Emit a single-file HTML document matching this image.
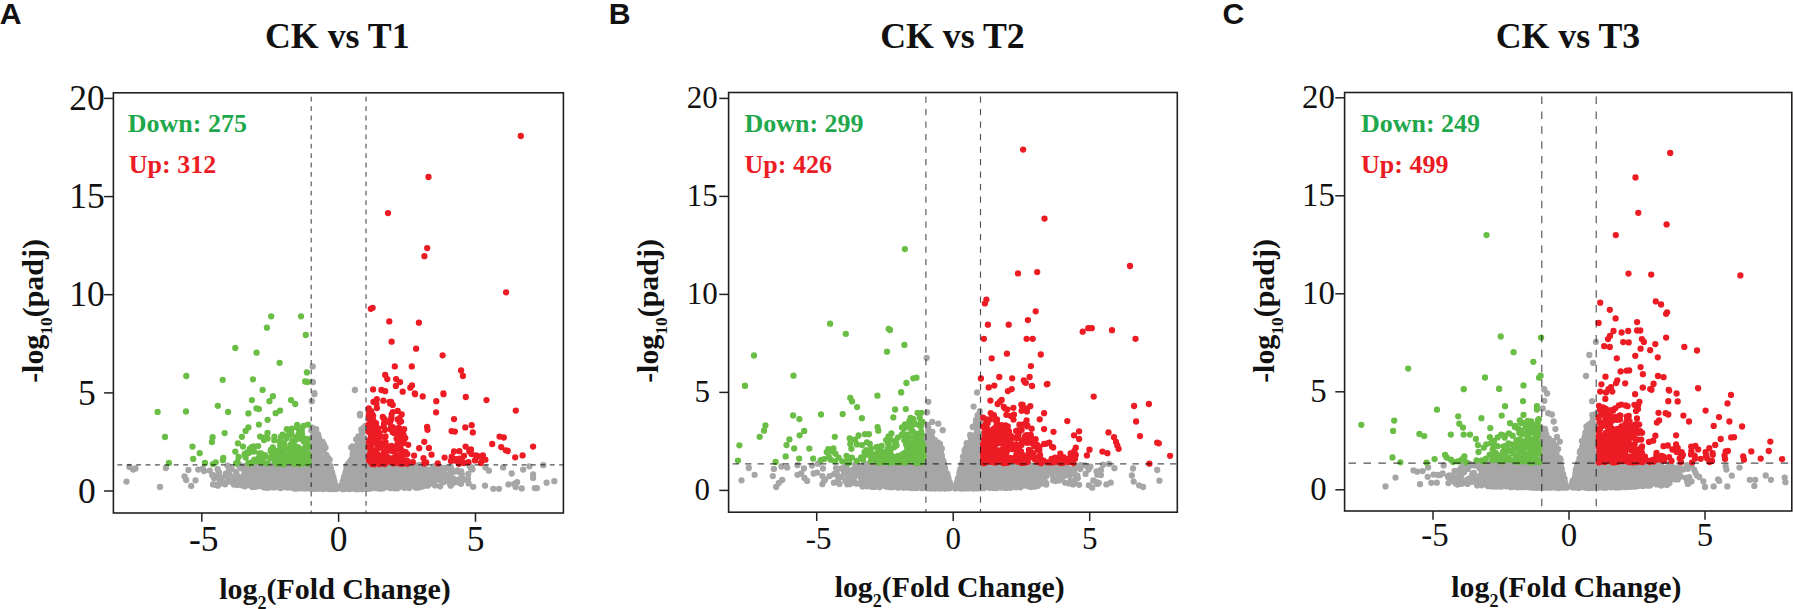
<!DOCTYPE html>
<html><head><meta charset="utf-8"><title>Volcano plots</title>
<style>
html,body{margin:0;padding:0;background:#fff;}
svg{display:block;}
.s{font-family:"Liberation Serif",serif;fill:#111;}
.sb{font-family:"Liberation Serif",serif;font-weight:bold;fill:#111;}
.ab{font-family:"Liberation Sans",sans-serif;font-weight:bold;fill:#111;}
</style></head><body>
<svg width="1793" height="609" viewBox="0 0 1793 609">
<rect width="1793" height="609" fill="#fff"/>
<g>
<clipPath id="cpA"><rect x="113.4" y="92.8" width="450.0" height="420.2"/></clipPath>
<g clip-path="url(#cpA)">
<path d="M323.9 466.6h0M366.7 486.1h0M375.4 474.1h0M415.8 476.8h0M372.1 482.5h0M319.9 470.1h0M379.2 476.8h0M331.1 475.9h0M295.7 484.3h0M358.1 477.5h0M244.0 474.8h0M315.6 469.7h0M265.1 486.1h0M382.8 482.5h0M302.0 467.4h0M373.9 485.6h0M365.4 484.3h0M328.4 483.9h0M355.7 484.3h0M392.7 477.8h0M306.0 472.3h0M364.6 465.0h0M406.9 472.4h0M369.5 488.4h0M385.7 474.9h0M368.8 481.5h0M251.5 485.0h0M326.3 468.8h0M317.0 486.1h0M355.5 487.7h0M368.1 467.4h0M362.9 469.6h0M392.1 487.0h0M329.8 482.1h0M400.7 477.2h0M261.1 483.9h0M361.5 483.0h0M289.0 466.3h0M276.4 478.6h0M402.7 471.1h0M323.7 487.6h0M350.6 483.3h0M438.3 471.2h0M310.3 473.1h0M416.4 470.2h0M301.8 485.6h0M302.4 470.1h0M353.8 470.8h0M327.7 480.5h0M314.6 464.9h0M329.2 483.3h0M404.3 487.8h0M442.5 473.7h0M315.9 477.1h0M403.8 474.4h0M298.2 488.3h0M368.0 475.7h0M325.3 481.3h0M348.1 480.7h0M317.9 467.0h0M377.8 465.8h0M367.2 472.2h0M403.7 469.6h0M388.7 485.7h0M304.2 488.0h0M314.6 471.7h0M311.6 470.7h0M351.0 470.0h0M243.8 485.9h0M349.7 477.1h0M367.1 474.5h0M302.9 483.4h0M375.9 480.5h0M443.5 482.2h0M357.6 479.1h0M366.2 472.8h0M348.6 483.0h0M264.6 486.9h0M394.5 475.9h0M344.8 485.5h0M369.1 470.2h0M353.8 467.3h0M343.2 482.0h0M330.5 481.0h0M357.7 467.9h0M367.2 471.1h0M382.3 470.2h0M302.4 475.5h0M310.8 475.7h0M310.3 472.1h0M296.9 477.2h0M426.8 474.2h0M362.2 478.8h0M267.2 485.9h0M387.7 479.2h0M351.5 477.1h0M355.2 489.0h0M369.7 478.0h0M377.6 488.2h0M284.9 476.2h0M422.0 479.0h0M313.2 471.9h0M316.2 482.2h0M348.0 478.6h0M304.2 471.3h0M263.9 487.3h0M379.3 480.4h0M325.6 483.9h0M346.0 471.2h0M317.5 488.5h0M366.8 478.2h0M265.8 467.6h0M328.2 479.3h0M387.2 480.3h0M318.1 475.2h0M385.0 473.1h0M390.2 467.0h0M375.0 486.4h0M378.2 468.1h0M236.7 474.8h0M368.5 480.2h0M356.8 482.1h0M414.6 481.3h0M363.4 477.0h0M279.8 465.7h0M355.7 477.4h0M368.2 466.4h0M244.9 481.2h0M351.6 474.8h0M346.8 486.1h0M361.8 479.7h0M396.6 476.6h0M353.1 467.1h0M286.5 469.8h0M413.9 476.5h0M324.7 479.5h0M314.9 469.8h0M305.8 488.5h0M260.9 471.8h0M313.3 480.4h0M327.6 485.3h0M346.1 474.8h0M358.2 468.2h0M275.6 470.1h0M323.3 488.6h0M249.3 483.7h0M361.2 486.1h0M419.2 475.5h0M347.2 480.3h0M300.9 475.2h0M380.2 479.8h0M301.3 475.7h0M401.3 480.6h0M331.6 478.5h0M369.3 467.6h0M433.8 466.3h0M382.5 466.9h0M336.6 488.9h0M402.4 479.2h0M321.3 478.6h0M348.1 470.7h0M299.6 472.7h0M307.3 483.2h0M439.5 472.6h0M366.5 482.1h0M390.1 482.5h0M356.9 483.2h0M327.1 469.5h0M417.9 465.5h0M408.8 481.8h0M230.3 481.7h0M332.4 488.6h0M264.7 467.1h0M316.7 482.6h0M361.2 467.7h0M354.2 480.1h0M376.0 470.0h0M311.6 484.9h0M424.5 470.8h0M387.5 467.4h0M310.8 479.0h0M368.9 475.2h0M309.3 479.9h0M417.5 475.2h0M360.2 472.0h0M359.9 468.6h0M356.6 480.2h0M356.0 479.6h0M357.0 487.0h0M365.4 476.7h0M298.6 467.9h0M327.4 474.2h0M410.3 475.8h0M401.2 484.7h0M333.2 481.4h0M324.8 474.4h0M344.1 481.3h0M346.8 478.0h0M276.3 482.9h0M375.5 468.1h0M265.6 465.4h0M304.7 466.3h0M329.8 475.4h0M402.6 471.7h0M301.6 473.8h0M384.7 477.7h0M317.1 482.8h0M390.2 465.2h0M316.1 465.8h0M360.8 485.2h0M323.3 480.4h0M421.8 485.6h0M329.1 466.5h0M245.6 474.0h0M286.3 471.2h0M374.1 479.9h0M329.0 486.9h0M373.7 483.8h0M302.7 481.3h0M374.2 481.1h0M384.7 469.0h0M349.9 489.1h0M377.4 468.2h0M277.4 483.9h0M318.0 483.3h0M354.3 483.2h0M390.3 488.1h0M356.2 465.4h0M322.7 475.1h0M349.2 467.3h0M276.9 465.4h0M374.7 485.4h0M350.6 474.8h0M288.6 472.9h0M356.0 473.7h0M301.9 472.9h0M377.3 476.8h0M389.8 485.8h0M333.0 478.6h0M276.9 471.9h0M300.1 465.6h0M255.0 486.8h0M368.2 466.0h0M391.4 481.7h0M261.9 478.3h0M315.8 477.8h0M393.9 482.6h0M291.7 480.7h0M295.2 485.4h0M355.4 466.7h0M391.7 468.7h0M311.0 467.6h0M272.2 484.8h0M388.6 465.2h0M391.6 470.9h0M328.2 465.2h0M320.2 485.7h0M403.9 479.6h0M308.5 477.0h0M368.1 488.8h0M346.3 474.7h0M259.8 466.3h0M346.6 471.4h0M272.5 487.3h0M293.4 470.7h0M288.2 470.0h0M401.4 478.5h0M283.4 482.9h0M290.2 480.8h0M281.8 485.2h0M367.1 474.5h0M377.2 486.4h0M299.7 484.6h0M250.0 485.3h0M256.7 484.1h0M250.5 477.6h0M358.1 480.4h0M309.3 486.9h0M344.1 485.1h0M368.9 468.0h0M277.8 484.3h0M355.6 487.6h0M418.2 480.4h0M291.7 487.2h0M412.7 476.7h0M354.5 486.5h0M402.1 475.5h0M269.6 465.4h0M394.1 474.9h0M345.9 472.3h0M329.6 474.6h0M418.9 480.5h0M332.6 489.0h0M398.0 471.8h0M364.7 484.9h0M315.8 468.8h0M320.1 466.5h0M450.2 476.1h0M353.7 480.8h0M236.2 471.9h0M280.0 479.3h0M458.8 482.4h0M398.1 465.6h0M418.8 468.0h0M224.6 483.9h0M347.7 472.3h0M393.6 466.0h0M394.5 471.5h0M300.9 484.0h0M380.2 481.2h0M381.1 488.0h0M378.4 473.8h0M317.3 468.7h0M350.3 468.6h0M325.0 482.8h0M372.0 478.3h0M423.0 479.6h0M282.5 475.1h0M420.5 479.7h0M294.7 477.0h0M304.6 467.0h0M415.4 478.6h0M381.9 478.6h0M343.8 483.2h0M359.4 476.1h0M439.6 480.1h0M284.5 472.9h0M294.3 488.5h0M354.7 470.5h0M301.0 476.2h0M309.4 475.4h0M303.1 467.1h0M439.0 475.5h0M412.0 475.1h0M331.1 486.3h0M360.9 485.1h0M386.3 473.8h0M397.9 474.9h0M286.7 486.9h0M347.2 487.3h0M322.9 487.3h0M387.1 486.7h0M329.9 471.2h0M266.9 482.2h0M292.3 487.4h0M308.9 475.0h0M375.2 487.9h0M305.4 475.4h0M315.5 488.0h0M344.8 482.5h0M322.4 476.1h0M349.3 474.6h0M418.0 483.6h0M310.6 475.2h0M349.6 474.0h0M309.9 481.0h0M347.7 487.2h0M294.3 478.2h0M283.1 475.4h0M363.5 486.2h0M372.6 487.7h0M287.8 487.2h0M279.3 478.3h0M305.9 483.6h0M461.0 483.8h0M276.7 480.6h0M396.0 477.7h0M266.0 474.7h0M394.2 482.7h0M298.8 483.1h0M397.9 474.5h0M319.7 481.7h0M445.6 474.7h0M385.5 476.7h0M371.1 474.1h0M352.2 480.6h0M273.3 487.0h0M321.3 478.6h0M373.1 479.7h0M292.1 475.5h0M293.4 480.1h0M363.3 476.4h0M329.0 479.3h0M363.4 471.5h0M313.3 488.9h0M348.5 479.3h0M283.5 473.9h0M386.3 481.8h0M362.9 476.6h0M465.9 479.7h0M389.9 477.6h0M390.0 468.2h0M354.0 467.4h0M393.7 485.6h0M253.9 473.8h0M253.5 481.4h0M391.6 465.0h0M351.9 481.3h0M410.9 465.7h0M350.5 486.0h0M389.8 469.6h0M364.7 470.7h0M350.9 481.9h0M444.3 481.2h0M351.6 485.3h0M369.1 488.7h0M360.1 485.1h0M265.0 486.1h0M278.4 482.7h0M280.9 469.6h0M367.7 476.0h0M408.4 484.9h0M236.2 479.3h0M325.5 487.6h0M461.3 471.4h0M380.6 472.6h0M458.8 479.9h0M315.9 476.8h0M271.8 472.2h0M357.0 477.4h0M404.1 475.3h0M383.1 471.5h0M357.6 466.3h0M231.8 469.0h0M342.7 484.8h0M267.0 471.3h0M296.4 482.8h0M308.2 468.7h0M381.3 475.9h0M375.9 484.0h0M269.0 472.5h0M409.2 475.5h0M381.5 477.4h0M374.7 478.1h0M320.2 471.7h0M301.5 470.5h0M358.9 487.3h0M403.3 481.3h0M330.1 481.2h0M365.3 470.5h0M406.2 472.4h0M302.0 468.6h0M326.7 472.7h0M264.1 470.9h0M292.6 471.2h0M245.0 486.3h0M393.7 467.3h0M364.4 468.9h0M348.8 487.8h0M363.7 476.4h0M270.8 483.6h0M289.0 465.2h0M360.0 479.4h0M239.5 465.0h0M308.2 472.4h0M309.2 479.5h0M330.5 477.9h0M295.5 479.7h0M450.5 475.6h0M321.1 488.1h0M366.7 482.8h0M358.1 479.9h0M246.0 480.6h0M452.5 482.2h0M275.8 478.8h0M322.6 466.5h0M332.1 480.7h0M288.0 483.5h0M352.1 484.7h0M312.4 486.5h0M407.6 471.7h0M414.1 475.6h0M281.7 483.5h0M327.5 469.3h0M363.7 483.5h0M348.2 473.9h0M343.0 489.2h0M328.7 466.4h0M344.8 485.9h0M304.6 478.6h0M362.4 484.4h0M333.9 479.6h0M250.3 474.3h0M260.8 473.4h0M370.8 488.4h0M366.5 475.0h0M400.8 479.0h0M288.7 482.4h0M320.8 469.8h0M352.8 468.5h0M303.6 479.1h0M374.3 475.7h0M435.1 466.2h0M349.9 470.5h0M349.2 484.6h0M271.3 483.1h0M330.0 466.9h0M317.4 477.3h0M372.9 465.4h0M308.7 484.8h0M324.7 482.2h0M321.6 470.6h0M386.0 485.8h0M290.1 481.4h0M306.2 470.5h0M281.1 473.7h0M372.7 467.8h0M293.6 471.9h0M379.8 485.4h0M273.7 480.2h0M353.3 469.7h0M353.7 472.7h0M322.9 485.8h0M389.5 479.6h0M326.7 470.0h0M402.3 470.1h0M461.3 471.9h0M405.0 465.6h0M270.5 469.5h0M368.1 488.3h0M367.5 483.4h0M315.7 485.9h0M325.6 488.5h0M317.7 482.0h0M244.1 467.1h0M255.6 478.9h0M364.1 483.1h0M415.9 487.7h0M382.3 474.9h0M315.6 467.7h0M296.6 485.7h0M374.5 481.0h0M243.0 479.7h0M299.3 472.1h0M295.5 487.0h0M312.3 471.1h0M365.2 482.4h0M378.3 481.7h0M407.7 474.6h0M321.5 472.5h0M319.5 474.7h0M357.2 470.7h0M321.3 472.5h0M324.6 475.2h0M251.7 468.9h0M266.7 470.5h0M307.3 478.3h0M287.0 480.9h0M327.1 478.4h0M459.6 472.3h0M306.0 479.3h0M285.5 465.0h0M325.7 479.1h0M264.2 483.1h0M278.6 470.9h0M355.9 482.1h0M359.7 466.9h0M381.6 467.0h0M355.4 471.2h0M323.2 487.3h0M368.4 483.3h0M294.3 466.5h0M379.7 473.8h0M227.4 472.9h0M440.2 486.3h0M310.2 476.9h0M363.2 481.9h0M375.3 466.6h0M272.5 479.6h0M351.3 483.1h0M363.9 466.2h0M364.7 485.7h0M271.6 485.1h0M407.1 477.5h0M409.3 480.2h0M354.8 472.5h0M300.5 488.1h0M297.2 487.5h0M331.9 475.9h0M233.9 484.6h0M354.3 486.1h0M318.5 473.3h0M371.8 475.0h0M298.1 486.2h0M321.4 478.9h0M294.8 474.1h0M332.9 479.4h0M318.2 480.9h0M291.4 485.8h0M299.9 470.4h0M268.0 486.1h0M417.4 484.4h0M329.0 479.3h0M332.6 478.1h0M314.7 465.4h0M350.9 482.8h0M387.1 478.2h0M324.5 473.3h0M249.1 478.5h0M346.9 469.7h0M390.1 478.5h0M330.4 472.6h0M236.0 479.8h0M345.3 487.2h0M372.8 483.0h0M360.1 478.4h0M250.8 466.5h0M367.9 479.9h0M317.0 469.9h0M238.7 481.8h0M322.7 479.0h0M258.3 477.7h0M370.1 468.3h0M400.3 471.1h0M354.4 487.4h0M395.3 488.2h0M333.6 485.6h0M249.2 466.9h0M306.9 468.0h0M306.2 471.9h0M447.7 480.7h0M369.0 474.9h0M312.2 465.0h0M389.9 483.0h0M278.1 484.3h0M319.4 483.2h0M366.0 486.4h0M324.5 482.1h0M420.0 477.5h0M409.4 478.4h0M259.4 475.5h0M354.8 489.0h0M285.2 475.0h0M283.9 483.1h0M280.7 481.7h0M308.2 474.2h0M324.1 482.8h0M403.9 476.1h0M368.1 488.0h0M354.8 488.5h0M347.2 485.2h0M287.8 470.4h0M315.5 475.1h0M383.3 472.0h0M369.5 473.4h0M361.2 477.9h0M266.1 483.9h0M360.9 468.5h0M245.4 485.0h0M280.4 482.4h0M369.2 477.7h0M321.0 477.8h0M396.0 466.9h0M256.5 470.1h0M368.7 486.4h0M409.1 487.9h0M421.9 474.1h0M348.3 467.4h0M424.7 468.2h0M406.4 478.0h0M377.3 481.9h0M351.1 469.1h0M348.7 471.8h0M408.2 484.2h0M313.0 474.7h0M350.5 485.6h0M356.5 481.2h0M281.6 476.6h0M356.9 472.3h0M361.8 468.4h0M365.5 473.0h0M389.0 486.8h0M279.4 468.7h0M303.5 486.7h0M262.1 472.3h0M300.9 487.4h0M426.4 472.3h0M282.0 469.5h0M296.6 477.2h0M356.5 479.9h0M354.7 488.4h0M371.5 478.4h0M247.9 468.2h0M305.1 474.4h0M350.1 468.8h0M317.7 473.1h0M313.8 476.8h0M312.1 485.3h0M353.8 482.2h0M345.9 474.2h0M316.1 474.9h0M317.7 488.0h0M332.0 480.7h0M351.6 478.3h0M308.4 467.7h0M379.2 475.3h0M349.9 481.2h0M281.1 485.1h0M359.5 466.7h0M318.1 476.0h0M320.4 473.8h0M279.1 478.2h0M334.1 486.8h0M289.9 472.8h0M286.1 482.5h0M315.9 485.9h0M288.0 469.3h0M362.9 467.1h0M314.6 469.3h0M346.7 488.7h0M415.9 467.0h0M357.9 479.4h0M325.7 486.6h0M371.1 473.5h0M351.2 487.5h0M335.4 487.3h0M319.2 469.4h0M323.6 479.4h0M361.6 479.5h0M316.1 476.2h0M410.6 469.9h0M359.7 480.7h0M366.5 472.1h0M359.5 465.7h0M432.0 481.0h0M395.9 487.6h0M248.2 482.2h0M406.8 465.2h0M253.9 484.6h0M277.8 478.7h0M303.9 477.8h0M319.0 472.5h0M369.5 485.0h0M407.7 478.3h0M321.8 488.7h0M419.7 487.0h0M349.5 480.3h0M366.1 465.8h0M386.5 479.4h0M366.5 472.0h0M237.6 485.0h0M406.5 466.9h0M303.7 469.8h0M388.9 469.9h0M373.3 475.6h0M329.8 473.8h0M390.2 487.8h0M317.3 469.3h0M275.4 481.5h0M363.5 486.1h0M328.2 483.0h0M287.6 471.2h0M287.0 479.3h0M265.4 487.6h0M410.7 486.0h0M364.8 471.7h0M424.8 476.9h0M274.0 475.6h0M317.3 478.1h0M342.3 488.9h0M261.5 469.7h0M328.8 473.6h0M312.6 471.5h0M272.5 480.9h0M296.8 470.3h0M263.1 486.9h0M317.0 488.8h0M307.0 470.9h0M351.2 482.6h0M421.1 467.7h0M385.8 475.4h0M255.5 471.7h0M365.7 469.8h0M398.9 467.8h0M423.0 479.0h0M270.6 484.2h0M399.4 469.4h0M318.9 466.9h0M351.1 471.6h0M440.9 476.7h0M399.1 467.3h0M364.1 477.9h0M297.4 478.2h0M290.9 482.2h0M307.9 486.2h0M276.6 479.2h0M326.4 478.6h0M349.2 475.9h0M331.2 487.6h0M235.5 476.5h0M357.1 479.2h0M360.9 481.1h0M317.9 478.2h0M270.7 469.0h0M323.6 478.3h0M326.3 469.3h0M375.4 474.1h0M325.5 478.3h0M412.6 468.9h0M387.2 486.4h0M351.9 482.8h0M353.5 482.0h0M238.7 480.8h0M399.4 479.9h0M292.1 475.3h0M297.9 466.4h0M274.7 465.4h0M431.1 477.3h0M348.6 484.1h0M438.5 471.3h0M261.2 477.5h0M343.8 482.0h0M305.3 482.2h0M304.2 475.8h0M341.7 487.6h0M264.2 474.3h0M388.5 469.5h0M301.2 475.4h0M416.2 469.9h0M292.0 470.8h0M287.5 475.1h0M363.1 479.2h0M256.6 485.2h0M316.1 479.2h0M276.6 477.8h0M327.1 478.9h0M403.1 472.7h0M317.8 465.8h0M450.7 475.3h0M321.9 484.6h0M268.3 484.1h0M353.4 484.4h0M389.3 469.1h0M397.1 483.3h0M313.4 485.7h0M273.9 479.5h0M319.2 475.4h0M245.3 467.0h0M308.8 486.2h0M270.9 479.7h0M356.2 480.5h0M327.5 476.2h0M368.0 485.6h0M384.8 485.1h0M287.6 476.3h0M379.2 488.2h0M304.9 481.5h0M404.4 473.1h0M395.2 478.5h0M322.8 483.9h0M356.1 484.8h0M280.0 469.6h0M355.2 472.6h0M392.8 467.1h0M373.7 483.4h0M355.9 487.3h0M342.9 483.0h0M443.3 475.4h0M414.5 470.1h0M384.4 482.7h0M347.2 472.4h0M328.1 466.9h0M333.1 486.7h0M281.4 487.0h0M390.8 468.9h0M400.9 481.3h0M345.2 477.6h0M309.5 487.1h0M262.8 486.7h0M275.6 470.3h0M397.3 486.8h0M410.4 477.5h0M225.8 473.6h0M392.5 471.0h0M314.7 488.5h0M366.4 478.6h0M344.7 486.9h0M439.5 474.7h0M289.9 487.6h0M395.7 476.7h0M387.1 484.9h0M375.4 467.0h0M361.8 478.4h0M395.2 475.4h0M386.4 471.2h0M391.7 480.2h0M369.4 465.6h0M346.6 483.9h0M321.5 481.2h0M330.6 482.6h0M350.4 483.0h0M258.9 474.6h0M351.5 484.2h0M397.8 482.9h0M354.8 472.6h0M300.6 474.3h0M394.2 488.3h0M331.6 477.3h0M329.2 489.0h0M357.3 481.3h0M422.8 484.4h0M346.5 467.4h0M309.8 479.3h0M394.5 471.9h0M373.3 473.4h0M387.1 472.7h0M347.0 484.7h0M372.3 486.8h0M270.6 477.9h0M319.0 465.5h0M283.0 470.5h0M402.0 481.7h0M398.9 478.0h0M354.8 472.5h0M391.9 481.9h0M357.9 481.0h0M311.8 484.7h0M302.6 467.7h0M303.9 486.2h0M316.7 480.6h0M346.5 479.7h0M423.6 471.3h0M287.0 465.2h0M373.1 478.7h0M298.2 483.3h0M356.0 486.0h0M285.5 478.6h0M316.4 483.6h0M350.6 476.3h0M299.9 474.2h0M290.8 481.1h0M355.2 485.7h0M341.9 485.1h0M258.5 472.7h0M289.8 485.8h0M375.7 483.1h0M270.6 466.3h0M327.2 471.8h0M395.7 478.0h0M329.6 469.2h0M306.3 467.2h0M363.2 476.5h0M353.3 483.9h0M262.3 465.3h0M361.3 481.2h0M291.2 467.9h0M328.8 486.3h0M365.8 471.8h0M328.8 465.1h0M387.7 470.2h0M358.1 475.9h0M312.3 484.3h0M325.2 481.7h0M413.9 471.1h0M349.8 479.9h0M259.1 467.1h0M364.4 480.0h0M298.0 484.5h0M393.7 479.7h0M423.7 474.7h0M376.7 478.7h0M306.2 481.5h0M364.2 487.0h0M413.2 466.3h0M347.5 467.7h0M325.4 482.4h0M316.8 466.7h0M316.0 478.0h0M347.1 473.1h0M328.2 480.7h0M358.0 479.3h0M349.3 468.8h0M248.7 477.9h0M348.5 469.5h0M253.6 481.1h0M362.8 481.1h0M355.6 469.5h0M327.8 474.5h0M410.6 475.6h0M353.6 474.0h0M359.0 470.0h0M356.4 482.5h0M313.4 479.5h0M360.9 482.0h0M374.1 484.6h0M357.5 481.2h0M326.4 470.7h0M396.1 480.8h0M362.9 483.6h0M253.2 475.4h0M257.4 479.0h0M423.4 468.1h0M298.1 475.6h0M271.5 466.4h0M322.7 486.0h0M354.4 476.3h0M367.7 482.6h0M262.1 480.8h0M401.8 472.7h0M331.1 479.3h0M322.5 470.9h0M326.8 475.8h0M382.4 482.4h0M406.7 470.8h0M305.7 470.1h0M384.2 475.5h0M326.5 472.2h0M291.2 469.6h0M348.6 472.6h0M219.0 472.3h0M358.9 469.4h0M369.6 488.3h0M279.7 477.9h0M397.2 478.4h0M386.9 482.1h0M349.8 479.3h0M267.3 465.7h0M298.4 480.0h0M316.2 478.9h0M361.8 470.8h0M410.2 470.3h0M320.9 486.7h0M326.7 488.7h0M297.7 478.1h0M369.8 484.9h0M434.0 483.5h0M305.8 476.0h0M273.5 471.1h0M358.2 469.5h0M335.4 485.8h0M309.3 478.2h0M381.2 466.3h0M348.6 485.1h0M448.8 476.3h0M360.2 470.8h0M369.8 467.9h0M369.9 472.6h0M289.8 484.1h0M408.2 475.3h0M393.3 471.9h0M347.8 483.9h0M272.1 473.2h0M399.0 486.2h0M286.0 470.5h0M334.3 481.7h0M452.0 483.8h0M322.7 485.4h0M455.1 471.5h0M316.2 484.6h0M402.5 466.1h0M311.2 483.3h0M305.9 471.6h0M273.5 475.7h0M373.9 465.8h0M275.3 465.9h0M427.4 485.7h0M311.9 482.7h0M361.5 470.7h0M250.0 482.7h0M328.8 475.2h0M272.2 469.3h0M314.6 483.4h0M405.0 485.3h0M357.5 473.4h0M393.1 483.7h0M394.1 486.8h0M258.7 466.2h0M348.6 474.5h0M361.8 473.1h0M268.4 468.3h0M282.3 474.7h0M328.3 475.6h0M405.0 479.0h0M310.5 468.0h0M382.9 479.6h0M346.4 469.7h0M437.4 473.8h0M352.5 468.8h0M286.5 466.5h0M307.3 485.1h0M357.0 487.8h0M388.3 484.3h0M348.9 485.6h0M354.6 484.8h0M359.5 487.9h0M307.1 470.5h0M281.2 480.2h0M321.9 471.2h0M411.1 469.0h0M307.2 483.3h0M369.8 468.8h0M317.4 473.8h0M378.6 472.4h0M297.2 483.7h0M353.8 468.6h0M388.0 485.9h0M377.5 476.4h0M356.5 486.8h0M357.1 480.2h0M346.6 483.2h0M362.6 471.7h0M285.1 484.1h0M418.4 487.5h0M298.9 488.1h0M368.0 467.2h0M287.8 475.7h0M321.3 484.5h0M364.9 487.4h0M396.7 484.7h0M313.3 484.3h0M311.2 478.4h0M326.5 471.4h0M351.3 473.8h0M358.4 477.4h0M221.7 477.6h0M375.0 470.1h0M332.3 477.8h0M309.1 470.0h0M343.1 487.8h0M414.3 483.0h0M320.9 474.1h0M252.2 487.1h0M283.0 472.8h0M304.3 482.9h0M348.7 483.4h0M422.3 470.4h0M375.9 487.9h0M283.7 472.5h0M247.8 480.3h0M275.3 477.0h0M387.6 466.1h0M310.9 487.0h0M267.4 474.6h0M343.6 485.5h0M322.7 468.6h0M407.4 486.2h0M327.5 482.6h0M316.0 468.8h0M350.3 475.5h0M327.3 487.5h0M318.8 472.3h0M396.1 480.9h0M330.7 484.0h0M316.4 468.8h0M355.3 466.6h0M364.7 487.7h0M293.3 483.3h0M422.2 467.6h0M357.2 473.3h0M313.0 484.7h0M380.8 482.1h0M417.1 470.7h0M414.3 480.7h0M281.7 487.5h0M374.0 486.6h0M307.5 473.1h0M219.7 480.2h0M453.5 482.8h0M380.3 473.1h0M356.5 487.8h0M331.7 487.1h0M298.7 469.4h0M376.0 469.8h0M306.0 473.2h0M385.9 486.2h0M352.7 481.0h0M318.5 472.3h0M317.7 488.4h0M319.4 466.5h0M411.3 466.0h0M359.7 466.6h0M309.4 470.1h0M354.5 486.4h0M311.2 474.2h0M307.5 468.0h0M312.2 486.1h0M292.6 480.9h0M303.0 465.6h0M392.0 466.1h0M321.8 486.0h0M377.6 486.3h0M335.9 485.7h0M387.4 476.5h0M348.6 468.5h0M379.5 471.3h0M364.4 467.1h0M348.6 466.8h0M298.0 477.8h0M326.7 476.3h0M298.1 485.4h0M378.1 477.8h0M295.3 474.9h0M346.3 481.9h0M315.4 469.9h0M412.9 473.7h0M432.1 471.1h0M385.6 481.0h0M327.2 480.1h0M358.2 487.6h0M275.1 485.0h0M382.1 483.6h0M254.4 470.6h0M371.4 466.4h0M414.4 485.1h0M332.8 479.5h0M391.1 467.0h0M346.9 486.5h0M368.9 467.6h0M436.1 476.9h0M381.2 483.0h0M310.7 469.2h0M433.6 473.3h0M295.1 487.8h0M304.5 474.1h0M281.8 470.8h0M400.0 475.2h0M319.4 480.2h0M382.6 476.9h0M316.2 482.6h0M412.9 475.7h0M347.7 466.8h0M408.2 467.9h0M388.8 484.1h0M317.5 484.8h0M392.7 486.8h0M381.0 468.0h0M317.8 487.9h0M275.4 478.5h0M331.5 472.8h0M280.1 478.8h0M317.1 487.6h0M400.8 467.8h0M295.9 479.6h0M298.3 469.9h0M343.1 482.3h0M379.4 466.1h0M394.6 465.7h0M426.1 472.0h0M333.2 480.7h0M399.7 480.1h0M354.2 473.4h0M383.3 466.0h0M299.8 483.0h0M421.0 486.0h0M356.9 487.1h0M284.3 476.3h0M323.8 485.9h0M357.7 470.1h0M433.6 479.4h0M384.7 470.7h0M364.8 474.4h0M345.4 474.8h0M300.2 481.7h0M263.9 482.2h0M288.7 465.7h0M322.5 473.3h0M299.4 467.8h0M331.5 474.1h0M388.2 465.8h0M376.5 477.5h0M304.0 466.5h0M266.9 467.6h0M319.6 487.4h0M279.2 483.5h0M329.4 465.6h0M323.4 486.7h0M301.1 472.4h0M220.6 478.4h0M362.6 471.1h0M401.3 471.7h0M330.8 486.8h0M259.2 474.8h0M284.9 468.1h0M315.8 487.8h0M357.0 489.1h0M289.4 480.5h0M276.6 478.1h0M303.1 469.4h0M367.0 481.7h0M412.4 476.1h0M361.6 475.9h0M273.1 468.1h0M424.4 473.9h0M380.2 483.4h0M347.0 484.4h0M380.3 474.6h0M304.6 478.4h0M354.4 473.5h0M347.8 468.2h0M354.7 474.1h0M239.0 465.7h0M394.6 476.5h0M392.7 484.9h0M297.8 473.1h0M349.1 467.2h0M322.3 481.7h0M290.6 474.0h0M307.2 481.4h0M403.9 470.4h0M291.4 485.9h0M291.6 470.1h0M384.9 480.7h0M288.8 470.6h0M435.1 479.6h0M405.9 471.8h0M272.7 474.9h0M380.2 465.9h0M427.4 485.2h0M346.3 475.1h0M325.0 474.9h0M241.0 480.7h0M315.6 472.7h0M358.0 488.6h0M347.9 479.9h0M259.7 470.1h0M402.4 466.1h0M289.1 477.3h0M403.0 474.6h0M341.6 488.3h0M380.5 469.9h0M305.1 475.4h0M332.6 483.8h0M310.0 471.1h0M429.3 477.2h0M317.2 469.0h0M313.4 486.1h0M378.4 466.4h0M355.2 467.0h0M400.9 474.7h0M345.5 485.3h0M272.3 467.7h0M347.6 475.7h0M329.4 466.9h0M352.4 480.2h0M362.3 484.9h0M379.6 469.2h0M417.9 487.5h0M268.1 477.2h0M381.2 486.4h0M269.9 475.7h0M326.2 469.0h0M263.8 470.5h0M373.8 467.7h0M346.9 465.6h0M350.0 480.1h0M322.4 465.2h0M324.6 482.2h0M343.9 487.4h0M299.7 470.5h0M356.2 479.3h0M394.9 485.2h0M383.6 474.3h0M380.6 483.3h0M268.2 473.1h0M320.2 488.5h0M330.2 465.8h0M398.1 487.6h0M352.3 482.5h0M274.1 473.1h0M331.7 473.4h0M461.1 478.0h0M393.3 470.2h0M280.4 487.6h0M323.8 479.9h0M320.1 479.6h0M457.5 470.3h0M324.8 470.4h0M352.7 475.4h0M251.0 468.6h0M328.0 469.1h0M288.9 475.2h0M318.6 467.6h0M257.4 478.3h0M355.2 470.7h0M270.5 474.6h0M257.2 475.1h0M314.5 479.5h0M370.9 486.5h0M297.4 467.7h0M372.8 485.3h0M267.4 472.8h0M355.8 487.6h0M311.9 482.4h0M327.9 476.6h0M290.1 476.1h0M347.1 482.7h0M309.5 482.2h0M388.0 468.3h0M353.2 483.7h0M322.1 482.3h0M272.9 473.3h0M314.3 473.6h0M360.5 488.5h0M281.7 482.9h0M427.1 485.1h0M326.3 488.7h0M421.6 474.5h0M332.6 475.4h0M315.3 473.3h0M378.4 471.0h0M325.4 482.8h0M320.2 476.8h0M319.1 466.2h0M400.7 486.5h0M351.0 482.2h0M246.8 483.4h0M375.0 486.0h0M249.1 469.9h0M287.5 475.1h0M414.0 486.2h0M309.8 488.4h0M437.6 472.1h0M303.3 483.7h0M385.3 469.3h0M434.0 481.2h0M399.0 483.2h0M299.6 485.0h0M349.8 478.8h0M316.9 475.4h0M438.5 470.2h0M381.2 477.4h0M385.9 469.7h0M316.3 485.8h0M346.2 487.1h0M352.3 479.9h0M351.1 475.9h0M364.4 488.1h0M306.5 469.1h0M378.9 465.3h0M295.9 465.8h0M462.1 478.1h0M301.1 472.0h0M316.7 480.6h0M332.0 481.7h0M313.2 477.3h0M294.2 467.4h0M302.4 486.9h0M275.8 485.0h0M302.4 486.9h0M291.6 476.5h0M330.2 480.1h0M360.4 466.1h0M343.8 486.0h0M274.0 480.0h0M229.2 480.3h0M320.6 467.0h0M408.4 472.9h0M389.7 470.0h0M357.5 468.1h0M361.8 485.7h0M293.0 471.1h0M356.5 488.0h0M304.0 485.1h0M309.1 477.8h0M429.9 479.3h0M303.7 486.4h0M435.2 478.2h0M280.2 481.1h0M256.3 469.9h0M325.9 479.5h0M282.0 465.2h0M318.2 479.5h0M310.9 470.6h0M383.1 475.9h0M355.6 479.6h0M366.4 469.1h0M367.1 484.9h0M309.5 477.9h0M285.9 472.7h0M450.8 466.9h0M305.7 479.3h0M352.0 470.0h0M329.8 485.4h0M368.4 481.0h0M424.2 484.9h0M370.9 479.9h0M384.1 472.2h0M443.9 476.6h0M407.5 465.5h0M388.9 475.8h0M329.4 485.1h0M295.4 483.3h0M398.3 467.6h0M348.1 488.1h0M248.5 480.4h0M308.8 470.7h0M281.1 471.1h0M363.9 470.8h0M252.2 485.8h0M231.2 468.6h0M369.1 473.2h0M417.1 481.1h0M360.6 479.4h0M376.9 480.9h0M342.0 484.5h0M367.2 483.5h0M355.2 472.6h0M365.9 476.9h0M332.0 478.5h0M313.6 486.5h0M255.7 467.7h0M360.8 481.3h0M317.4 477.9h0M332.1 472.4h0M355.4 470.8h0M368.6 471.6h0M319.6 487.4h0M335.6 485.8h0M312.1 476.2h0M365.9 479.0h0M315.2 483.2h0M291.3 466.1h0M418.6 471.8h0M351.1 469.0h0M356.0 477.1h0M328.6 480.3h0M372.8 465.1h0M322.1 488.5h0M317.1 488.6h0M304.5 475.1h0M355.3 466.6h0M248.6 469.1h0M317.6 479.0h0M243.9 466.1h0M373.2 467.1h0M332.2 474.3h0M377.7 475.7h0M315.3 483.8h0M309.3 466.1h0M350.6 479.8h0M388.5 484.0h0M396.1 476.9h0M298.1 477.6h0M382.7 482.4h0M373.7 472.7h0M313.8 473.4h0M321.4 473.2h0M344.9 488.9h0M373.9 483.0h0M439.2 467.0h0M400.3 474.3h0M282.2 472.9h0M352.4 484.3h0M279.4 485.5h0M290.3 469.8h0M408.5 479.8h0M227.6 465.7h0M282.4 475.0h0M304.2 484.8h0M393.6 470.2h0M355.5 475.6h0M241.4 468.3h0M297.1 478.6h0M376.3 472.9h0M309.0 477.1h0M365.0 469.2h0M309.9 478.2h0M324.3 482.3h0M302.1 475.9h0M264.7 485.2h0M324.6 473.6h0M283.0 486.5h0M307.5 472.5h0M353.4 487.0h0M353.1 472.7h0M360.0 466.2h0M312.5 471.1h0M280.2 479.7h0M322.1 468.7h0M271.4 471.8h0M362.7 468.3h0M348.2 474.1h0M266.7 476.7h0M310.5 472.1h0M316.3 471.9h0M291.2 481.2h0M360.4 474.4h0M317.6 469.5h0M357.2 473.6h0M278.0 465.4h0M282.4 468.3h0M382.4 475.6h0M318.0 484.8h0M375.5 474.1h0M367.0 484.2h0M276.9 473.8h0M349.0 477.5h0M334.9 485.1h0M409.4 475.6h0M355.0 485.9h0M379.7 479.2h0M292.9 477.8h0M396.5 465.8h0M369.7 473.8h0M419.9 472.5h0M397.3 481.1h0M315.6 471.6h0M359.0 466.6h0M269.1 481.7h0M401.1 474.9h0M253.9 476.3h0M394.7 479.7h0M295.4 484.4h0M268.1 487.8h0M353.5 482.6h0M364.7 467.8h0M327.7 472.8h0M380.0 487.8h0M321.6 479.8h0M345.3 475.5h0M272.1 465.2h0M252.3 471.0h0M397.5 488.3h0M324.2 484.7h0M312.2 473.3h0M324.2 486.9h0M268.7 473.2h0M363.5 487.5h0M342.8 481.4h0M344.4 486.8h0M332.6 477.0h0M268.5 484.6h0M396.4 477.3h0M345.9 485.7h0M405.6 485.4h0M295.2 475.4h0M310.1 480.9h0M418.8 476.5h0M375.6 470.7h0M293.5 477.2h0M358.6 466.9h0M390.2 468.0h0M388.7 467.1h0M332.2 485.3h0M429.2 482.2h0M430.9 478.8h0M319.3 467.3h0M332.4 482.1h0M426.4 469.7h0M302.1 469.2h0M374.8 481.2h0M308.7 480.2h0M268.6 482.5h0M422.7 486.4h0M328.6 486.3h0M295.1 486.7h0M310.7 474.0h0M331.2 482.5h0M322.0 470.3h0M295.2 464.9h0M369.3 467.0h0M454.1 478.9h0M418.6 475.6h0M320.0 472.5h0M281.6 485.5h0M333.2 484.6h0M398.2 484.4h0M361.1 469.7h0M418.9 479.5h0M272.7 466.3h0M372.7 482.7h0M266.2 472.5h0M349.2 486.2h0M393.9 482.2h0M297.9 475.8h0M363.4 472.2h0M295.5 468.1h0M394.4 478.2h0M406.8 476.5h0M294.5 475.6h0M268.4 468.7h0M330.7 470.9h0M326.7 468.5h0M274.6 487.4h0M366.4 469.5h0M353.1 484.6h0M389.8 474.8h0M411.5 473.7h0M410.9 472.2h0M290.7 481.8h0M354.3 480.1h0M272.4 473.3h0M370.8 482.4h0M288.8 480.6h0M361.3 466.5h0M351.7 487.2h0M397.8 488.0h0M409.8 469.2h0M257.7 478.6h0M357.2 472.1h0M332.5 479.0h0M328.7 486.2h0M353.7 473.8h0M277.5 470.0h0M388.8 481.2h0M374.3 482.9h0M298.3 476.0h0M384.5 466.4h0M359.3 472.6h0M386.8 471.7h0M305.4 484.0h0M285.9 471.6h0M324.3 483.6h0M370.7 487.6h0M324.6 480.0h0M320.7 480.6h0M286.1 481.9h0M329.0 486.7h0M370.4 479.4h0M359.3 479.4h0M361.9 489.0h0M371.6 471.2h0M318.0 470.4h0M374.5 472.1h0M379.8 483.3h0M371.8 466.9h0M421.8 486.7h0M250.0 472.7h0M306.8 468.8h0M358.8 470.3h0M322.4 471.1h0M289.6 479.1h0M353.9 479.9h0M282.1 484.6h0M346.4 481.8h0M347.1 474.4h0M290.1 473.3h0M325.5 487.6h0M310.6 488.7h0M248.2 471.2h0M321.5 471.7h0M371.8 477.9h0M396.3 484.8h0M367.7 466.7h0M361.2 473.6h0M352.2 474.1h0M299.9 478.4h0M350.5 476.6h0M379.6 467.8h0M245.4 465.8h0M236.1 478.1h0M316.8 472.7h0M442.4 480.4h0M301.4 484.7h0M352.3 481.7h0M275.5 467.1h0M301.7 476.6h0M379.1 475.0h0M274.8 477.8h0M341.6 487.7h0M386.6 471.4h0M381.1 484.4h0M316.1 474.6h0M421.7 465.4h0M376.2 466.6h0M313.0 465.5h0M407.6 479.1h0M333.7 486.9h0M335.2 486.8h0M293.0 482.7h0M419.6 481.5h0M424.9 481.4h0M360.8 468.0h0M371.9 466.9h0M315.1 478.2h0M413.1 466.4h0M303.9 480.6h0M297.1 477.9h0M312.7 474.0h0M354.0 482.1h0M388.1 470.8h0M358.7 489.0h0M309.7 487.3h0M358.2 465.3h0M370.2 476.2h0M370.1 473.6h0M417.9 472.1h0M308.8 473.5h0M346.9 470.8h0M263.6 480.4h0M350.0 465.5h0M363.5 486.2h0M365.4 466.4h0M400.8 483.7h0M324.9 479.4h0M385.8 482.8h0M324.9 473.7h0M306.4 465.0h0M318.4 466.5h0M429.2 483.7h0M366.8 483.1h0M350.9 483.6h0M304.0 482.7h0M265.0 474.0h0M311.2 465.2h0M321.5 473.3h0M311.9 481.1h0M306.9 481.1h0M375.8 467.3h0M409.9 483.4h0M366.2 467.7h0M377.3 477.2h0M282.7 484.4h0M305.6 468.6h0M318.8 484.9h0M388.5 475.0h0M391.2 477.8h0M376.8 480.7h0M351.0 469.1h0M292.4 466.3h0M407.7 477.3h0M369.2 486.0h0M353.7 474.5h0M369.5 469.0h0M311.1 466.5h0M290.0 472.4h0M305.4 473.4h0M377.4 469.2h0M311.9 468.3h0M386.9 483.9h0M403.7 472.3h0M287.9 465.7h0M356.7 479.4h0M227.6 478.3h0M329.8 481.3h0M320.4 470.5h0M329.4 469.7h0M334.8 483.9h0M424.5 465.9h0M420.3 482.6h0M295.8 471.1h0M380.5 469.2h0M382.8 488.4h0M311.4 485.2h0M362.2 488.6h0M374.6 483.1h0M314.0 465.8h0M281.0 482.3h0M341.3 487.6h0M289.6 475.8h0M250.9 465.8h0M385.4 474.4h0M358.1 474.5h0M234.3 477.1h0M396.3 476.3h0M275.2 474.6h0M321.0 481.7h0M313.3 470.1h0M419.7 465.0h0M319.1 474.2h0M411.8 472.6h0M439.1 478.7h0M266.4 465.3h0M266.7 480.3h0M282.5 468.6h0M380.1 481.7h0M334.6 485.9h0M286.5 471.9h0M310.9 467.4h0M264.6 467.6h0M290.6 471.4h0M292.2 482.4h0M361.2 483.1h0M444.2 467.9h0M354.4 474.0h0M287.5 478.9h0M385.7 473.5h0M274.3 472.4h0M379.4 487.3h0M329.6 486.4h0M327.0 473.5h0M306.0 466.7h0M308.6 466.8h0M369.5 479.9h0M435.0 485.4h0M352.2 465.0h0M346.1 474.7h0M363.9 472.0h0M369.8 478.6h0M331.5 481.1h0M396.3 478.1h0M318.3 465.3h0M349.3 485.6h0M362.3 481.7h0M331.5 484.2h0M331.0 482.3h0M353.4 485.6h0M463.1 478.8h0M345.7 472.1h0M267.7 481.7h0M381.5 472.8h0M330.1 479.3h0M273.6 470.5h0M331.7 483.2h0M326.3 486.4h0M293.7 485.2h0M316.0 486.3h0M291.0 477.8h0M326.1 468.2h0M276.7 467.8h0M365.2 479.6h0M313.8 476.7h0M397.8 468.1h0M238.1 476.7h0M391.0 482.1h0M252.2 480.9h0M352.3 478.7h0M260.8 472.6h0M346.5 481.0h0M328.6 466.5h0M400.3 466.0h0M400.0 476.6h0M422.9 469.2h0M380.6 479.4h0M270.5 474.3h0M347.9 479.0h0M263.9 465.8h0M351.5 476.4h0M325.4 488.3h0M260.8 473.9h0M302.4 475.3h0M385.2 482.6h0M359.1 481.8h0M373.0 471.9h0M371.1 473.3h0M377.7 469.2h0M399.4 471.7h0M450.0 483.9h0M312.4 474.1h0M395.9 468.5h0M374.9 486.6h0M352.5 471.9h0M379.4 476.3h0M353.7 482.3h0M279.0 472.7h0M303.5 482.5h0M377.9 476.8h0M394.3 478.1h0M376.1 481.1h0M265.2 481.3h0M271.2 477.3h0M351.2 470.4h0M356.5 469.4h0M309.7 487.2h0M348.7 482.0h0M357.2 470.5h0M315.8 482.2h0M365.0 483.3h0M323.1 489.0h0M362.7 487.7h0M282.4 473.8h0M372.1 475.0h0M265.0 469.6h0M309.3 478.9h0M286.5 473.1h0M295.1 475.6h0M370.5 484.2h0M358.2 473.1h0M410.9 477.6h0M217.6 469.2h0M298.2 476.8h0M311.4 473.2h0M264.6 487.5h0M262.3 468.6h0M356.9 486.4h0M279.8 475.5h0M310.6 472.2h0M322.0 469.9h0M283.0 469.2h0M316.9 483.1h0M268.1 467.8h0M366.3 479.6h0M277.1 475.9h0M378.0 472.9h0M278.1 478.8h0M272.7 474.4h0M383.3 481.9h0M402.9 484.5h0M281.5 487.8h0M344.4 482.3h0M415.6 472.6h0M416.0 473.6h0M319.8 485.2h0M331.9 486.8h0M312.2 486.4h0M291.4 484.5h0M303.4 488.4h0M267.4 466.6h0M327.7 488.3h0M421.4 469.8h0M267.1 486.2h0M330.3 478.4h0M367.5 484.0h0M316.1 472.0h0M407.4 472.8h0M426.0 474.9h0M353.2 486.7h0M351.0 480.4h0M370.7 465.0h0M351.5 473.7h0M314.3 466.0h0M300.2 469.0h0M394.7 480.9h0M277.0 466.4h0M299.3 477.4h0M329.8 476.6h0M332.2 480.7h0M384.9 476.3h0M310.3 472.0h0M319.2 465.6h0M255.4 474.7h0M252.7 486.3h0M262.6 483.9h0M304.7 487.4h0M276.0 484.4h0M350.4 465.9h0M371.7 468.8h0M307.2 473.9h0M276.7 474.2h0M406.6 474.2h0M302.1 471.3h0M408.5 472.8h0M362.0 487.6h0M321.9 470.4h0M377.5 477.3h0M376.8 485.2h0M326.8 467.0h0M346.5 472.5h0M296.5 486.6h0M378.6 482.1h0M319.4 477.1h0M373.5 480.8h0M370.9 485.4h0M320.5 487.2h0M307.3 467.7h0M382.2 484.8h0M308.2 478.3h0M395.0 465.5h0M335.8 488.6h0M390.4 487.9h0M345.4 473.7h0M323.7 484.7h0M306.9 476.1h0M323.6 466.6h0M405.6 477.1h0M297.0 473.1h0M342.6 482.9h0M332.3 476.9h0M288.7 480.7h0M287.5 476.2h0M414.3 469.0h0M309.5 481.2h0M327.2 471.6h0M317.7 473.0h0M360.1 482.3h0M325.3 486.4h0M347.1 476.7h0M316.1 486.5h0M375.2 484.5h0M314.8 470.4h0M353.6 487.7h0M374.3 466.0h0M381.5 478.2h0M246.7 467.1h0M318.3 472.3h0M391.7 475.9h0M387.6 481.0h0M434.2 475.1h0M405.2 483.8h0M360.2 471.3h0M311.2 479.1h0M307.3 475.8h0M355.3 485.1h0M259.4 465.1h0M284.9 482.4h0M304.9 474.7h0M303.4 481.8h0M354.7 477.6h0M347.9 478.2h0M332.1 472.5h0M328.3 472.4h0M319.3 482.6h0M356.0 477.2h0M249.4 482.3h0M333.4 477.0h0M349.4 489.0h0M316.7 470.4h0M371.1 472.8h0M349.9 475.3h0M305.6 473.8h0M344.0 484.1h0M381.3 478.9h0M322.6 470.9h0M326.5 471.1h0M360.8 469.9h0M297.2 478.0h0M296.1 467.0h0M347.1 465.3h0M295.9 473.1h0M348.4 484.6h0M404.8 473.7h0M327.8 477.5h0M270.1 482.6h0M291.0 465.8h0M261.9 475.0h0M379.2 467.2h0M343.9 477.5h0M286.4 469.5h0M378.6 475.8h0M300.2 473.5h0M273.5 472.0h0M373.7 478.5h0M321.6 475.3h0M308.6 485.0h0M353.4 466.1h0M269.1 486.5h0M370.0 487.1h0M366.0 474.2h0M225.2 484.3h0M412.1 485.3h0M365.0 486.0h0M308.5 466.2h0M312.7 471.5h0M423.5 477.1h0M275.7 470.5h0M430.9 481.2h0M384.4 477.0h0M464.8 479.6h0M300.8 477.1h0M264.8 478.1h0M302.3 465.1h0M334.5 481.7h0M234.1 477.4h0M350.9 487.3h0M324.2 477.7h0M266.5 468.5h0M327.2 476.5h0M402.4 473.6h0M290.2 465.7h0M361.4 471.3h0M294.0 484.8h0M369.9 479.6h0M233.4 481.8h0M369.8 471.1h0M401.8 485.4h0M299.5 472.9h0M367.1 482.9h0M390.9 477.1h0M287.3 470.9h0M302.0 479.6h0M321.6 472.4h0M293.8 481.6h0M358.2 483.5h0M332.0 481.7h0M345.3 482.3h0M287.4 479.9h0M425.6 483.0h0M306.6 467.6h0M290.6 482.9h0M272.4 477.2h0M381.6 471.3h0M395.3 471.2h0M404.7 470.8h0M279.6 482.4h0M302.1 485.4h0M270.9 478.8h0M430.1 469.6h0M356.9 480.8h0M386.1 469.8h0M314.7 484.5h0M299.5 474.4h0M351.0 468.6h0M366.7 471.6h0M305.5 478.3h0M294.9 484.4h0M344.4 476.3h0M356.2 489.0h0M458.0 480.2h0M246.6 468.4h0M348.1 475.5h0M424.3 481.9h0M268.9 473.4h0M370.7 477.3h0M262.7 474.1h0M325.2 479.8h0M261.5 470.3h0M374.1 477.9h0M306.3 468.1h0M359.4 470.0h0M321.5 467.7h0M347.1 478.1h0M331.0 484.6h0M395.6 471.3h0M284.6 475.1h0M359.8 480.0h0M374.8 466.1h0M357.2 480.1h0M386.2 480.5h0M363.9 482.4h0M321.3 487.4h0M287.1 487.5h0M451.0 470.7h0M387.0 475.1h0M276.1 475.4h0M362.7 485.0h0M405.8 467.4h0M406.7 482.4h0M365.8 476.8h0M387.2 466.4h0M375.8 484.2h0M306.3 466.1h0M301.9 483.1h0M357.8 474.3h0M434.2 469.2h0M353.4 473.3h0M279.6 478.1h0M365.6 488.8h0M331.5 488.9h0M333.6 484.0h0M429.6 483.8h0M369.3 470.9h0M273.0 475.8h0M271.6 467.8h0M392.9 466.2h0M384.9 467.8h0M389.2 482.8h0M242.1 485.3h0M313.3 487.0h0M316.0 475.4h0M307.5 465.0h0M351.1 478.2h0M251.1 466.8h0M373.0 484.6h0M318.7 477.1h0M302.5 473.0h0M375.9 483.9h0M267.8 468.7h0M320.8 468.3h0M334.1 481.8h0M416.2 465.4h0M420.3 469.7h0M328.6 471.7h0M415.5 478.0h0M377.4 482.1h0M360.8 487.2h0M350.5 473.4h0M352.7 468.3h0M279.9 467.8h0M285.2 472.1h0M395.2 483.2h0M322.1 486.1h0M378.2 469.3h0M354.5 476.3h0M353.5 480.0h0M361.9 471.4h0M319.0 487.3h0M366.8 486.5h0M278.2 466.2h0M356.5 483.4h0M378.6 478.9h0M359.3 472.4h0M348.1 482.4h0M260.1 474.6h0M321.3 471.6h0M356.2 468.6h0M324.8 473.5h0M380.5 482.0h0M400.1 475.7h0M301.4 483.6h0M296.2 488.5h0M253.7 477.3h0M375.6 482.1h0M253.0 481.2h0M353.4 466.3h0M432.1 472.9h0M329.0 479.8h0M324.8 466.0h0M295.1 473.9h0M257.9 486.3h0M400.3 475.7h0M379.5 471.0h0M330.8 487.7h0M345.8 488.4h0M320.2 466.7h0M330.0 467.4h0M386.0 485.2h0M327.4 472.8h0M332.3 480.7h0M322.6 478.8h0M380.1 488.7h0M330.1 487.1h0M330.6 486.5h0M282.2 472.7h0M401.3 478.8h0M287.6 480.1h0M304.4 467.5h0M348.2 480.3h0M349.6 481.6h0M406.1 471.2h0M323.1 468.3h0M290.7 486.3h0M317.0 482.1h0M318.4 465.2h0M343.6 485.4h0M306.1 466.0h0M325.1 487.1h0M291.0 480.6h0M312.3 488.4h0M298.2 482.7h0M302.2 469.2h0M345.3 487.3h0M308.2 471.3h0M315.4 473.3h0M361.3 469.0h0M300.6 472.9h0M312.8 485.5h0M378.0 465.6h0M318.9 474.9h0M348.2 468.8h0M324.9 469.0h0M247.8 484.6h0M399.1 478.3h0M300.2 483.3h0M399.4 471.3h0M330.2 473.6h0M405.7 476.6h0M323.5 471.7h0M354.5 465.7h0M370.1 485.6h0M264.5 469.2h0M401.1 479.6h0M275.5 484.2h0M382.9 465.2h0M322.8 478.5h0M327.2 484.3h0M381.3 475.6h0M361.0 477.5h0M261.2 485.0h0M251.5 476.9h0M386.3 471.3h0M332.3 478.2h0M314.3 485.4h0M365.9 475.1h0M357.0 469.5h0M290.2 466.5h0M376.4 484.9h0M364.2 482.7h0M420.3 477.4h0M391.3 475.3h0M325.0 483.3h0M308.6 486.0h0M280.2 488.1h0M266.3 472.0h0M356.5 484.4h0M392.3 478.8h0M434.6 485.1h0M333.9 488.0h0M327.7 475.4h0M331.7 477.9h0M362.3 465.1h0M344.7 475.4h0M401.0 479.6h0M416.6 472.7h0M331.6 473.8h0M355.9 474.2h0M344.6 485.4h0M424.5 476.2h0M424.8 480.4h0M365.8 465.2h0M360.9 475.0h0M413.4 482.3h0M323.7 486.1h0M305.9 481.3h0M271.2 468.6h0M275.9 479.8h0M442.2 477.6h0M317.5 467.2h0M382.1 465.2h0M355.5 487.4h0M324.8 480.3h0M368.6 484.8h0M313.2 481.7h0M359.8 483.9h0M363.5 479.9h0M348.9 480.3h0M404.6 468.9h0M358.7 485.1h0M375.7 486.8h0M315.2 479.0h0M410.0 475.0h0M379.9 470.8h0M223.1 483.0h0M332.3 476.3h0M429.6 482.3h0M256.1 483.0h0M330.8 471.3h0M297.3 467.2h0M240.4 479.9h0M327.8 480.9h0M335.4 489.1h0M389.9 475.7h0M229.4 474.4h0M461.8 474.3h0M301.8 476.2h0M365.5 476.1h0M380.0 488.7h0M405.8 470.1h0M258.3 474.0h0M284.0 476.8h0M329.0 483.5h0M346.0 482.2h0M419.1 478.6h0M288.2 472.9h0M271.5 474.5h0M302.3 470.7h0M264.0 471.4h0M411.7 478.9h0M331.0 469.4h0M362.2 466.0h0M317.9 477.5h0M403.4 474.5h0M423.9 483.8h0M347.3 482.0h0M373.3 481.2h0M250.3 470.2h0M351.8 482.8h0M355.3 466.8h0M412.6 467.5h0M352.4 472.3h0M380.8 477.0h0M325.4 487.1h0M446.2 475.0h0M369.2 472.6h0M356.2 487.1h0M327.8 474.2h0M400.1 466.9h0M354.3 481.9h0M335.6 487.5h0M428.0 485.5h0M333.7 482.4h0M406.4 472.1h0M375.7 487.8h0M331.0 468.9h0M390.3 475.2h0M277.3 474.7h0M376.2 485.0h0M248.4 476.3h0M294.6 466.2h0M313.6 468.6h0M368.0 467.6h0M282.2 480.3h0M323.0 476.6h0M332.9 485.6h0M380.2 477.6h0M365.2 477.3h0M314.9 470.8h0M249.6 468.1h0M270.8 475.1h0M331.5 487.0h0M350.2 465.3h0M366.8 467.1h0M286.5 483.2h0M247.5 483.5h0M284.9 486.9h0M394.0 477.2h0M451.7 470.0h0M244.9 471.8h0M361.6 483.3h0M310.2 474.3h0M294.6 472.1h0M440.2 475.4h0M297.7 476.8h0M376.7 488.2h0M375.4 487.2h0M404.9 468.3h0M353.6 488.5h0M341.6 486.6h0M388.9 481.8h0M415.3 472.3h0M305.6 484.7h0M385.5 487.2h0M327.0 474.6h0M340.8 487.1h0M382.0 485.0h0M307.4 485.7h0M403.9 467.8h0M356.5 475.1h0M319.9 472.6h0M354.7 481.6h0M299.0 478.0h0M354.1 488.4h0M401.1 484.4h0M328.9 468.6h0M281.1 465.8h0M305.2 484.2h0M306.9 474.9h0M247.2 476.9h0M366.0 472.6h0M431.8 480.0h0M283.2 483.4h0M320.0 475.0h0M450.7 485.7h0M281.5 474.8h0M362.9 488.4h0M311.3 480.2h0M358.7 480.7h0M347.3 488.8h0M313.6 471.9h0M414.1 483.0h0M296.6 481.0h0M260.8 482.5h0M282.2 479.6h0M311.4 486.5h0M264.6 473.1h0M280.1 471.2h0M250.9 484.2h0M368.2 480.2h0M410.9 466.0h0M358.9 481.8h0M388.9 474.6h0M312.3 483.9h0M351.0 484.6h0M307.8 479.8h0M358.2 488.9h0M319.2 472.9h0M282.2 473.2h0M355.7 488.9h0M366.2 473.7h0M375.7 469.4h0M370.4 486.1h0M386.7 473.0h0M407.3 467.6h0M374.2 481.8h0M344.7 487.9h0M349.0 480.6h0M351.5 480.5h0M444.1 474.4h0M374.7 474.4h0M347.7 472.9h0M381.1 485.1h0M344.2 479.4h0M391.5 475.0h0M352.2 479.8h0M372.9 483.9h0M454.1 480.9h0M367.7 472.6h0M319.5 480.7h0M321.5 486.1h0M313.3 474.9h0M321.2 486.5h0M349.5 483.6h0M306.9 466.8h0M319.6 468.7h0M329.9 478.2h0M360.0 467.8h0M295.5 479.7h0M282.4 482.1h0M273.1 481.3h0M297.7 466.0h0M346.3 474.1h0M317.5 465.1h0M229.0 470.7h0M358.7 478.9h0M347.4 487.2h0M388.0 471.4h0M330.3 480.7h0M351.4 474.5h0M376.5 474.7h0M221.9 483.4h0M298.8 465.3h0M352.8 482.7h0M411.5 470.0h0M446.6 468.3h0M310.3 465.6h0M367.9 480.0h0M380.9 477.4h0M380.6 477.4h0M395.4 473.9h0M302.7 474.5h0M377.6 465.4h0M290.6 475.1h0M328.4 482.7h0M326.4 472.5h0M366.3 468.8h0M322.2 478.5h0M351.7 484.1h0M343.2 488.5h0M356.7 468.7h0M237.8 478.9h0M231.0 481.4h0M271.6 484.5h0M321.1 481.7h0M398.0 466.3h0M310.6 465.0h0M292.8 468.9h0M302.9 465.6h0M241.9 478.6h0M348.4 484.6h0M268.5 466.3h0M357.3 479.2h0M213.0 484.4h0M202.8 468.7h0M471.7 467.5h0M472.5 469.3h0M213.4 475.2h0M212.3 475.2h0M468.0 478.7h0M216.1 475.7h0M468.6 483.4h0M195.5 480.3h0M470.8 467.9h0M469.6 465.9h0M214.1 478.2h0M468.3 473.8h0M318.4 452.9h0M315.1 449.2h0M318.6 443.4h0M319.3 446.5h0M321.7 448.7h0M316.2 463.7h0M318.9 448.7h0M311.7 463.8h0M324.0 464.5h0M321.6 450.9h0M322.2 449.2h0M318.4 443.2h0M318.9 456.0h0M314.0 447.3h0M324.1 457.9h0M312.6 460.2h0M321.0 444.9h0M318.2 448.4h0M318.9 463.6h0M316.3 449.5h0M315.0 461.7h0M318.1 463.2h0M318.9 460.2h0M312.3 455.7h0M312.3 427.7h0M311.4 430.4h0M320.8 445.2h0M317.4 456.1h0M314.6 453.3h0M323.4 458.2h0M316.7 458.1h0M323.4 448.8h0M316.1 458.9h0M315.6 436.1h0M321.4 459.5h0M320.2 456.6h0M315.9 464.5h0M318.1 462.7h0M323.6 444.2h0M319.1 438.4h0M323.8 461.9h0M325.5 447.7h0M316.8 447.3h0M318.3 464.0h0M315.9 463.8h0M324.7 461.3h0M313.5 442.4h0M312.5 453.6h0M319.5 454.7h0M319.2 458.7h0M317.3 463.4h0M311.8 449.5h0M312.6 449.8h0M318.9 458.0h0M321.4 464.7h0M317.1 436.5h0M313.5 443.2h0M312.9 438.4h0M320.4 458.6h0M319.8 462.0h0M316.3 464.3h0M313.6 463.6h0M313.5 462.3h0M319.8 457.9h0M312.7 459.9h0M313.2 453.8h0M320.2 441.7h0M311.9 448.8h0M314.8 452.0h0M311.3 447.7h0M322.1 464.1h0M322.8 448.5h0M316.7 458.1h0M323.6 450.3h0M320.1 459.8h0M313.8 430.2h0M316.0 440.5h0M322.3 460.8h0M311.4 456.2h0M318.2 463.9h0M314.1 459.4h0M315.4 464.2h0M316.4 454.7h0M322.2 445.4h0M314.4 450.6h0M312.0 463.9h0M314.0 435.6h0M319.1 460.9h0M320.4 460.7h0M314.4 460.5h0M315.0 442.6h0M315.8 449.0h0M315.7 447.3h0M314.3 457.9h0M319.8 457.9h0M319.1 452.0h0M324.0 444.7h0M316.2 429.1h0M322.4 448.2h0M315.4 440.0h0M318.2 447.3h0M312.1 462.6h0M318.4 435.8h0M326.3 454.8h0M313.2 464.8h0M329.7 459.8h0M321.2 463.3h0M313.5 463.9h0M312.3 439.4h0M312.4 459.7h0M316.2 460.6h0M311.5 463.2h0M312.5 452.2h0M315.4 433.8h0M311.3 455.6h0M315.0 432.5h0M322.5 441.9h0M319.0 459.0h0M316.2 437.6h0M317.7 461.5h0M312.9 456.5h0M312.0 462.7h0M317.9 439.7h0M313.3 432.9h0M314.5 444.4h0M325.7 463.2h0M315.3 452.3h0M317.5 444.7h0M317.9 434.1h0M312.8 459.5h0M311.9 448.2h0M328.1 457.9h0M311.8 437.8h0M312.6 456.6h0M311.7 464.1h0M313.6 462.1h0M325.0 463.6h0M314.4 439.7h0M315.0 456.1h0M313.0 437.0h0M359.1 442.6h0M355.9 458.9h0M363.9 443.8h0M354.4 456.3h0M364.3 458.8h0M363.9 460.9h0M362.3 456.1h0M351.2 447.6h0M353.0 447.8h0M358.6 449.5h0M360.8 459.4h0M365.8 449.8h0M363.6 458.1h0M362.7 432.8h0M360.6 451.3h0M361.0 459.0h0M361.4 458.4h0M365.6 454.4h0M363.0 439.9h0M353.5 463.3h0M364.2 445.7h0M362.3 460.5h0M364.8 457.1h0M362.0 449.0h0M365.0 462.0h0M361.1 453.1h0M364.1 463.7h0M358.5 447.6h0M359.4 440.3h0M354.7 452.2h0M361.0 444.9h0M359.3 443.2h0M352.4 446.3h0M359.4 447.2h0M363.1 431.0h0M365.0 464.4h0M356.8 460.9h0M364.3 463.8h0M365.2 461.8h0M363.1 459.2h0M358.2 442.3h0M366.0 448.6h0M363.9 463.9h0M365.5 453.3h0M354.0 461.8h0M355.3 446.5h0M350.3 462.8h0M363.6 428.5h0M363.2 458.9h0M359.9 438.7h0M365.0 451.4h0M362.1 461.5h0M358.6 439.2h0M362.8 463.5h0M361.6 457.9h0M362.5 459.5h0M365.2 441.1h0M364.5 442.0h0M355.6 456.9h0M363.0 464.8h0M353.4 461.0h0M364.9 464.3h0M357.8 457.5h0M356.2 439.4h0M357.9 460.8h0M361.6 459.6h0M355.4 460.0h0M362.9 464.0h0M363.0 438.6h0M348.4 463.6h0M357.0 458.7h0M364.8 440.4h0M363.7 462.6h0M358.9 455.3h0M361.3 461.4h0M358.5 446.7h0M362.6 455.1h0M350.5 462.0h0M358.0 445.2h0M363.8 449.4h0M361.1 455.6h0M365.2 460.0h0M352.2 463.7h0M361.6 464.5h0M365.4 425.9h0M363.9 459.5h0M365.1 442.5h0M362.3 455.5h0M353.1 456.4h0M358.6 457.8h0M362.0 463.0h0M364.8 463.9h0M358.4 446.4h0M361.0 457.0h0M352.7 453.3h0M361.0 460.4h0M356.8 449.2h0M362.9 447.6h0M356.8 459.3h0M352.8 455.5h0M353.8 461.7h0M361.4 429.5h0M362.7 464.8h0M353.1 464.2h0M349.9 461.6h0M362.5 453.9h0M363.4 464.6h0M364.5 458.8h0M360.8 460.5h0M360.2 460.3h0M365.2 440.5h0M362.1 451.8h0M362.8 456.8h0M365.6 452.0h0M362.4 459.8h0M358.8 455.3h0M361.8 431.5h0M363.3 446.6h0M351.4 459.4h0M361.8 448.8h0M363.5 428.0h0M359.2 461.0h0M351.1 464.8h0M365.2 456.1h0M362.1 441.4h0M356.3 457.7h0M356.2 463.9h0M360.3 443.6h0M363.0 456.3h0M364.2 459.7h0M359.8 450.7h0M360.6 452.6h0M365.7 456.5h0M360.9 448.6h0M364.0 455.8h0M365.0 446.3h0M363.4 444.2h0M358.4 436.3h0M349.8 463.6h0M361.1 441.3h0M354.9 390.0h0M355.0 389.8h0M360.0 413.9h0M360.0 415.4h0M485.4 467.4h0M488.9 470.7h0M503.1 467.4h0M511.7 473.5h0M523.2 469.6h0M529.4 466.3h0M543.3 465.2h0M533.1 474.4h0M533.1 477.9h0M554.3 481.2h0M546.6 482.7h0M473.2 486.8h0M485.0 485.7h0M493.3 488.8h0M499.0 488.8h0M508.4 484.4h0M514.1 483.8h0M517.1 482.2h0M515.6 487.1h0M521.7 488.4h0M534.8 488.1h0M537.0 488.1h0M126.5 481.6h0M129.4 466.9h0M133.1 469.6h0M135.5 468.5h0M165.9 468.0h0M160.0 487.0h0M188.4 470.0h0M184.6 476.5h0M186.2 480.0h0M191.2 485.9h0M198.2 469.6h0M204.1 471.1h0M209.8 470.6h0M217.8 485.7h0M215.2 484.8h0M312.9 382.2h0M314.4 394.2h0M311.8 401.2h0M312.7 366.4h0M312.7 382.0h0M314.4 393.2h0" stroke="#a6a6a6" stroke-width="6.3" stroke-linecap="round" fill="none"/>
<path d="M304.7 462.3h0M293.3 462.3h0M293.8 463.4h0M298.3 447.5h0M291.4 433.3h0M281.0 461.1h0M307.3 461.9h0M308.2 460.6h0M291.9 459.2h0M275.1 461.3h0M250.0 448.7h0M267.5 433.0h0M278.1 453.4h0M301.5 459.7h0M264.1 440.1h0M308.0 424.6h0M274.4 440.1h0M299.3 456.1h0M307.3 458.1h0M302.0 437.9h0M299.3 435.7h0M267.2 463.3h0M308.6 445.9h0M294.7 446.0h0M280.5 449.1h0M284.1 464.0h0M307.7 439.3h0M284.3 460.6h0M272.5 450.6h0M308.0 444.8h0M296.1 457.7h0M274.3 451.2h0M301.6 454.6h0M306.1 444.6h0M307.3 463.1h0M272.8 447.5h0M278.2 458.7h0M301.8 452.0h0M289.4 433.0h0M295.4 446.4h0M259.8 461.6h0M248.5 463.1h0M304.9 453.5h0M293.3 457.5h0M301.2 454.9h0M290.5 448.1h0M283.7 463.9h0M254.1 451.5h0M300.2 456.4h0M304.1 450.5h0M278.5 456.2h0M299.8 461.2h0M258.2 446.1h0M282.5 434.6h0M298.7 434.2h0M308.5 454.1h0M306.3 450.0h0M262.7 458.7h0M286.1 457.8h0M301.8 431.7h0M274.3 440.2h0M300.9 461.5h0M308.3 459.7h0M302.9 455.3h0M299.6 455.5h0M295.6 440.0h0M284.2 446.7h0M286.3 438.4h0M262.8 462.6h0M299.7 455.3h0M298.4 435.0h0M295.4 447.4h0M294.0 461.7h0M288.3 461.2h0M265.2 455.3h0M302.8 462.1h0M302.1 463.5h0M288.2 449.1h0M255.2 461.6h0M263.3 454.8h0M285.6 458.4h0M270.7 451.2h0M303.8 455.1h0M304.3 459.2h0M284.5 462.3h0M293.9 461.3h0M283.1 453.2h0M301.9 428.3h0M296.8 439.0h0M294.1 463.8h0M305.1 439.5h0M258.6 459.4h0M282.2 464.2h0M285.5 456.3h0M291.9 458.8h0M302.5 450.0h0M279.5 452.3h0M275.9 457.3h0M302.2 438.5h0M301.2 438.8h0M280.0 460.2h0M290.4 456.1h0M303.7 451.7h0M279.2 453.3h0M272.2 454.5h0M296.6 448.7h0M281.0 436.8h0M278.4 460.6h0M307.4 447.4h0M293.8 451.9h0M299.0 449.6h0M250.3 451.9h0M281.5 459.6h0M307.1 445.8h0M292.3 441.1h0M252.1 447.0h0M284.1 448.1h0M286.8 429.2h0M253.6 446.3h0M299.3 430.2h0M302.4 458.8h0M296.0 458.6h0M300.4 454.7h0M293.5 447.3h0M270.5 458.4h0M296.4 457.4h0M270.6 457.7h0M304.2 448.4h0M260.3 461.9h0M279.0 452.2h0M305.1 458.7h0M305.2 450.4h0M285.1 436.0h0M279.7 441.5h0M306.8 457.7h0M277.4 455.6h0M302.1 435.3h0M295.3 460.1h0M295.0 451.8h0M283.7 458.6h0M248.5 452.9h0M297.1 459.8h0M281.2 448.9h0M254.3 459.7h0M259.4 454.5h0M300.5 463.9h0M306.8 459.8h0M279.8 462.6h0M283.2 455.4h0M287.7 456.8h0M267.6 438.4h0M290.1 435.2h0M264.4 457.3h0M299.9 464.2h0M288.2 461.2h0M301.7 458.9h0M287.2 455.7h0M284.7 462.9h0M304.1 456.9h0M301.2 463.1h0M291.3 456.8h0M276.9 464.0h0M247.8 452.0h0M295.1 459.3h0M292.2 448.2h0M284.0 443.2h0M260.1 436.6h0M291.8 428.7h0M295.7 462.9h0M302.0 457.2h0M294.8 460.2h0M299.8 463.8h0M260.6 457.5h0M303.4 455.7h0M289.4 451.6h0M300.0 432.6h0M245.7 457.6h0M295.1 457.6h0M300.3 459.4h0M284.7 458.3h0M286.3 457.4h0M274.5 455.3h0M302.2 435.1h0M307.6 463.8h0M282.8 460.9h0M276.8 451.0h0M302.5 463.4h0M307.0 460.5h0M297.6 450.9h0M271.1 449.6h0M297.5 427.7h0M302.5 460.0h0M288.3 456.3h0M298.2 456.6h0M264.8 437.6h0M297.2 424.9h0M261.0 453.3h0M308.7 462.4h0M290.4 444.9h0M296.0 437.3h0M307.7 458.8h0M303.8 441.5h0M293.8 454.7h0M274.4 436.7h0M307.7 460.6h0M306.8 438.9h0M303.7 425.8h0M291.1 457.7h0M280.2 445.4h0M290.6 460.8h0M287.0 461.4h0M296.7 456.8h0M291.6 457.1h0M250.6 463.8h0M306.8 440.8h0M251.5 462.5h0M244.7 453.8h0M259.6 453.3h0M250.3 450.1h0M258.0 459.0h0M223.3 457.8h0M237.5 462.0h0M261.3 461.5h0M157.6 411.9h0M186.0 411.5h0M217.8 405.8h0M228.1 411.9h0M165.0 437.0h0M192.5 446.6h0M199.7 453.2h0M193.2 458.9h0M168.9 463.0h0M205.0 463.0h0M212.6 437.2h0M211.9 442.0h0M224.6 433.1h0M251.9 400.1h0M262.6 389.8h0M272.9 396.2h0M269.4 401.2h0M291.0 400.1h0M295.2 404.0h0M248.4 413.4h0M256.5 408.4h0M258.9 409.1h0M275.7 413.2h0M280.1 410.6h0M267.6 419.8h0M258.9 424.6h0M248.4 427.4h0M245.6 430.9h0M241.9 436.8h0M237.9 443.3h0M243.0 446.6h0M235.3 451.6h0M238.6 456.9h0M244.9 455.6h0M236.0 463.4h0M222.9 460.2h0M215.7 462.3h0M212.8 464.1h0M271.2 316.3h0M301.0 316.3h0M266.9 327.7h0M305.8 335.0h0M235.3 347.9h0M256.6 352.7h0M279.6 362.8h0M306.9 372.4h0M186.3 376.0h0M222.7 379.8h0M253.0 379.3h0M262.6 389.9h0M305.1 381.5h0M307.6 382.0h0" stroke="#6abd45" stroke-width="6.3" stroke-linecap="round" fill="none"/>
<path d="M369.8 440.1h0M373.4 432.1h0M374.4 464.3h0M379.7 464.1h0M373.1 442.9h0M373.5 457.8h0M385.5 462.9h0M388.1 458.5h0M407.4 461.3h0M383.4 463.0h0M398.2 462.8h0M395.8 457.5h0M392.8 427.1h0M375.2 456.5h0M369.8 454.3h0M384.8 429.9h0M370.3 430.5h0M371.6 463.2h0M403.5 463.3h0M387.7 457.1h0M405.6 452.2h0M373.4 457.5h0M396.2 455.2h0M375.6 442.5h0M374.8 453.0h0M372.6 461.0h0M396.5 449.3h0M398.0 430.5h0M384.4 444.5h0M383.3 461.6h0M371.4 417.0h0M378.0 455.4h0M397.7 433.6h0M377.4 448.5h0M378.9 460.1h0M368.9 442.3h0M375.3 433.3h0M377.4 428.4h0M390.0 422.7h0M376.1 430.5h0M403.5 460.9h0M385.9 462.1h0M379.1 457.6h0M371.1 436.1h0M399.8 440.4h0M393.6 463.4h0M373.8 451.6h0M372.5 461.7h0M404.0 442.8h0M381.7 444.2h0M380.6 456.1h0M393.7 457.6h0M376.3 460.5h0M382.1 460.6h0M371.3 458.1h0M391.5 446.0h0M400.5 447.5h0M378.2 428.3h0M375.3 462.8h0M369.6 417.0h0M408.2 444.8h0M373.6 462.3h0M392.8 451.1h0M380.6 443.2h0M390.5 460.1h0M398.2 438.7h0M389.2 461.1h0M371.2 455.0h0M385.5 442.2h0M386.1 462.2h0M385.5 460.8h0M369.3 413.0h0M369.9 429.4h0M399.6 460.9h0M371.9 456.5h0M373.7 428.7h0M392.7 432.3h0M370.1 458.5h0M373.1 462.5h0M384.9 464.1h0M382.9 445.2h0M372.9 422.8h0M374.3 460.3h0M386.3 449.7h0M380.2 459.0h0M401.3 458.3h0M372.7 455.1h0M379.2 461.0h0M381.6 462.4h0M376.5 449.6h0M390.5 461.9h0M383.7 418.4h0M393.8 433.1h0M385.5 436.5h0M376.1 423.3h0M388.0 459.7h0M371.4 441.2h0M402.5 456.9h0M378.0 429.3h0M398.2 461.9h0M370.9 458.3h0M372.1 464.0h0M380.5 463.8h0M383.9 451.9h0M379.5 433.5h0M371.6 444.6h0M377.8 454.3h0M371.1 411.2h0M371.2 445.5h0M396.1 455.9h0M375.9 455.0h0M374.9 436.6h0M370.9 445.0h0M384.0 455.5h0M379.1 436.7h0M375.6 460.6h0M373.1 420.1h0M392.7 446.8h0M390.3 450.6h0M369.1 447.4h0M376.0 433.7h0M385.7 443.9h0M386.5 458.8h0M374.9 450.8h0M373.1 462.1h0M403.5 437.7h0M379.1 442.7h0M389.7 458.6h0M369.3 455.8h0M387.3 448.2h0M371.5 444.8h0M372.9 461.6h0M373.1 462.8h0M376.6 458.5h0M397.5 444.1h0M401.2 453.8h0M380.0 461.1h0M373.8 460.4h0M380.1 447.5h0M381.0 444.6h0M370.9 451.3h0M369.4 418.9h0M401.9 463.9h0M369.8 454.2h0M385.7 452.6h0M371.3 444.9h0M368.5 431.8h0M379.7 459.2h0M402.6 441.3h0M369.0 460.4h0M384.4 437.3h0M372.7 454.2h0M384.1 423.5h0M375.8 438.2h0M373.2 458.4h0M373.3 460.1h0M383.7 426.5h0M369.9 455.4h0M390.5 429.3h0M392.1 446.9h0M407.3 454.1h0M374.8 457.6h0M400.8 442.0h0M398.3 440.4h0M399.4 434.1h0M372.2 414.1h0M385.4 462.6h0M369.4 460.3h0M396.6 438.8h0M368.8 414.3h0M372.6 419.0h0M405.3 438.1h0M384.7 419.4h0M390.6 428.3h0M382.8 417.0h0M401.7 414.5h0M376.4 403.6h0M371.3 430.3h0M372.9 437.4h0M404.1 429.2h0M375.1 422.7h0M383.3 400.7h0M390.1 403.5h0M373.2 415.8h0M379.5 434.3h0M392.7 404.9h0M399.6 418.2h0M376.8 399.2h0M391.4 417.4h0M399.5 422.1h0M401.0 421.6h0M391.7 414.3h0M374.3 401.6h0M389.5 401.8h0M368.8 408.5h0M372.1 422.6h0M392.8 412.1h0M397.7 419.5h0M391.0 419.7h0M397.7 410.9h0M391.1 401.8h0M373.5 402.0h0M372.4 440.1h0M398.7 438.8h0M378.7 439.9h0M403.5 434.7h0M398.8 427.8h0M370.5 438.5h0M368.8 415.3h0M376.9 408.0h0M368.5 424.7h0M378.5 433.6h0M401.1 432.3h0M391.7 427.8h0M399.4 428.5h0M414.1 455.6h0M399.6 461.1h0M480.9 463.0h0M437.8 463.4h0M460.6 461.9h0M463.8 463.0h0M482.9 455.3h0M458.9 459.1h0M399.4 463.4h0M483.0 459.9h0M424.3 463.5h0M423.5 458.1h0M460.8 462.7h0M465.6 446.6h0M451.7 456.6h0M426.2 462.5h0M459.7 458.6h0M450.9 461.0h0M407.0 460.6h0M402.1 450.9h0M412.8 462.2h0M468.5 462.1h0M455.0 460.5h0M464.0 455.8h0M407.2 463.8h0M475.0 460.4h0M471.5 454.1h0M459.4 451.2h0M456.0 459.1h0M458.9 463.8h0M520.8 136.0h0M428.5 177.0h0M388.0 213.1h0M427.2 248.1h0M424.4 256.2h0M506.1 292.3h0M372.6 307.8h0M370.8 308.8h0M389.3 321.4h0M418.9 322.7h0M391.6 341.7h0M416.1 348.7h0M442.6 355.3h0M394.8 366.4h0M411.8 366.4h0M461.1 370.5h0M462.9 376.0h0M385.2 375.0h0M387.3 379.1h0M396.1 379.1h0M400.1 382.1h0M395.9 385.9h0M412.0 385.4h0M410.3 387.7h0M373.1 389.4h0M381.4 390.0h0M385.2 391.2h0M402.7 391.7h0M414.8 393.5h0M443.4 393.5h0M443.5 394.2h0M465.8 397.0h0M486.5 400.1h0M436.3 401.2h0M436.1 412.3h0M515.8 410.6h0M454.0 419.1h0M471.7 425.2h0M465.3 427.4h0M472.8 432.4h0M451.6 431.1h0M454.9 431.6h0M427.1 427.0h0M427.5 429.8h0M499.6 436.6h0M503.8 437.5h0M492.2 444.0h0M501.2 447.1h0M505.8 450.3h0M507.7 451.0h0M533.1 446.6h0M522.6 455.4h0M515.2 457.3h0M454.0 451.4h0M469.3 451.4h0M471.0 449.5h0M476.0 455.4h0M478.9 456.5h0M485.4 459.7h0M424.3 441.8h0M428.9 447.9h0M419.2 448.2h0M431.5 454.7h0M444.6 457.6h0M461.8 458.6h0M422.7 396.4h0M415.1 394.2h0" stroke="#ed1c24" stroke-width="6.3" stroke-linecap="round" fill="none"/>
<line x1="311.2" y1="96.8" x2="311.2" y2="513.0" stroke="#000" stroke-opacity="0.68" stroke-width="1.15" stroke-dasharray="4.8 4.6"/>
<line x1="366.0" y1="96.8" x2="366.0" y2="513.0" stroke="#000" stroke-opacity="0.68" stroke-width="1.15" stroke-dasharray="4.8 4.6"/>
<line x1="117.4" y1="464.9" x2="563.4" y2="464.9" stroke="#000" stroke-opacity="0.68" stroke-width="1.15" stroke-dasharray="4.8 4.6"/>
</g>
<rect x="113.4" y="92.8" width="450.0" height="420.2" fill="none" stroke="#231f20" stroke-width="1.6"/>
<line x1="104.1" y1="491.0" x2="113.4" y2="491.0" stroke="#231f20" stroke-width="1.5"/>
<text x="86.9" y="502.7" text-anchor="middle" font-size="35.5" class="s">0</text>
<line x1="104.1" y1="392.9" x2="113.4" y2="392.9" stroke="#231f20" stroke-width="1.5"/>
<text x="86.9" y="404.6" text-anchor="middle" font-size="35.5" class="s">5</text>
<line x1="104.1" y1="294.7" x2="113.4" y2="294.7" stroke="#231f20" stroke-width="1.5"/>
<text x="86.9" y="306.4" text-anchor="middle" font-size="35.5" class="s">10</text>
<line x1="104.1" y1="196.6" x2="113.4" y2="196.6" stroke="#231f20" stroke-width="1.5"/>
<text x="86.9" y="208.3" text-anchor="middle" font-size="35.5" class="s">15</text>
<line x1="104.1" y1="98.4" x2="113.4" y2="98.4" stroke="#231f20" stroke-width="1.5"/>
<text x="86.9" y="110.1" text-anchor="middle" font-size="35.5" class="s">20</text>
<line x1="201.8" y1="513.0" x2="201.8" y2="521.8" stroke="#231f20" stroke-width="1.5"/>
<text x="203.8" y="551.2" text-anchor="middle" font-size="35.5" class="s">-5</text>
<line x1="338.6" y1="513.0" x2="338.6" y2="521.8" stroke="#231f20" stroke-width="1.5"/>
<text x="338.6" y="551.2" text-anchor="middle" font-size="35.5" class="s">0</text>
<line x1="475.5" y1="513.0" x2="475.5" y2="521.8" stroke="#231f20" stroke-width="1.5"/>
<text x="475.5" y="551.2" text-anchor="middle" font-size="35.5" class="s">5</text>
<text x="337.3" y="47.7" text-anchor="middle" font-size="35.8" class="sb">CK vs T1</text>
<text x="127.8" y="131.7" font-size="26" class="sb" style="fill:#1fa84c">Down: 275</text>
<text x="128.8" y="172.9" font-size="26" class="sb" style="fill:#ec1c24">Up: 312</text>
<text x="219.2" y="598.5" font-size="30.00" class="sb">log<tspan font-size="18" dy="10">2</tspan><tspan dy="-10">(Fold Change)</tspan></text>
<text transform="translate(43.0 311.0) rotate(-90)" text-anchor="middle" font-size="29.9" class="sb">-log<tspan font-size="17.5" dy="9">10</tspan><tspan dy="-9">(padj)</tspan></text>
<text x="-0.2" y="24" font-size="30.2" class="ab">A</text>
</g>
<g>
<clipPath id="cpB"><rect x="728.6" y="92.5" width="448.7" height="419.7"/></clipPath>
<g clip-path="url(#cpB)">
<path d="M884.5 483.7h0M889.2 472.4h0M1024.3 464.1h0M999.6 467.8h0M935.7 474.8h0M976.4 487.4h0M1059.1 480.5h0M1031.5 468.8h0M910.2 486.1h0M896.5 465.9h0M962.7 484.0h0M993.3 475.9h0M921.6 478.4h0M1052.5 475.6h0M909.1 474.6h0M1043.5 478.4h0M1011.6 471.1h0M1019.6 478.2h0M899.9 484.0h0M980.8 472.3h0M974.1 465.2h0M1016.1 470.7h0M1043.3 473.2h0M1046.3 483.1h0M987.8 471.3h0M981.8 465.4h0M995.6 467.5h0M937.3 478.3h0M849.6 473.9h0M1031.1 477.0h0M930.4 484.0h0M929.8 473.9h0M927.8 468.3h0M924.7 475.8h0M1032.3 484.4h0M1033.0 480.3h0M994.3 471.5h0M938.5 467.9h0M968.1 480.7h0M990.0 480.8h0M971.3 468.9h0M1025.3 473.0h0M846.2 466.0h0M918.8 481.2h0M948.2 480.5h0M964.7 484.9h0M960.6 473.8h0M889.5 467.5h0M987.0 482.6h0M919.8 472.2h0M999.4 483.7h0M1030.0 469.9h0M987.2 464.0h0M922.8 468.8h0M867.0 486.3h0M903.0 480.2h0M931.4 483.6h0M934.4 474.3h0M965.1 484.9h0M884.3 485.3h0M900.5 472.0h0M916.9 476.3h0M912.6 485.1h0M962.1 486.6h0M1011.2 480.5h0M1011.4 483.1h0M1011.9 463.9h0M927.0 473.0h0M938.7 478.8h0M1034.4 472.9h0M920.6 473.4h0M904.3 482.4h0M992.1 470.3h0M949.2 485.3h0M965.2 467.9h0M906.2 486.8h0M998.7 465.7h0M1009.2 479.8h0M961.6 482.2h0M963.2 469.0h0M911.3 485.9h0M988.6 483.7h0M933.5 487.3h0M918.9 480.1h0M879.4 468.1h0M936.1 476.1h0M1041.2 475.4h0M981.6 467.5h0M922.6 473.4h0M940.4 483.6h0M878.0 467.0h0M965.2 464.9h0M986.1 478.6h0M937.2 479.2h0M989.4 476.2h0M906.5 475.7h0M935.5 472.4h0M980.5 474.8h0M1002.2 472.7h0M930.6 474.8h0M971.1 487.4h0M935.4 481.0h0M915.3 469.2h0M1069.6 472.2h0M965.4 469.1h0M944.6 485.4h0M1047.4 471.9h0M1030.2 468.2h0M911.3 483.9h0M930.9 474.5h0M978.5 473.9h0M975.5 487.5h0M1069.7 472.9h0M966.7 469.0h0M930.4 481.9h0M934.3 486.5h0M918.3 466.2h0M968.9 480.3h0M887.8 485.7h0M933.2 471.4h0M978.0 469.5h0M907.4 477.5h0M1066.6 465.6h0M911.3 476.3h0M988.0 472.4h0M1018.5 470.2h0M929.8 485.6h0M1017.8 469.9h0M1076.0 478.8h0M975.1 471.2h0M895.8 478.4h0M994.7 476.6h0M991.5 470.9h0M906.8 471.5h0M1003.6 479.7h0M875.0 473.1h0M912.6 473.3h0M874.4 474.3h0M915.7 471.7h0M920.7 467.6h0M872.6 466.4h0M967.3 471.4h0M937.7 468.3h0M914.3 487.5h0M959.5 484.9h0M930.9 484.6h0M969.2 472.8h0M1005.3 483.4h0M984.3 475.0h0M990.8 480.0h0M1025.6 476.0h0M982.9 463.9h0M978.1 483.6h0M913.1 487.6h0M971.6 469.0h0M1019.9 483.9h0M1028.9 481.1h0M1018.4 478.9h0M1022.5 473.2h0M1038.7 470.0h0M935.7 487.2h0M915.3 485.8h0M1026.2 470.6h0M1004.7 473.5h0M923.0 479.5h0M877.2 479.7h0M1015.6 479.7h0M903.5 470.0h0M1010.6 483.3h0M993.4 467.3h0M986.6 478.6h0M1003.6 483.9h0M938.1 467.6h0M908.1 475.7h0M904.5 487.5h0M986.9 484.8h0M1005.8 465.8h0M993.9 463.8h0M973.6 480.2h0M997.7 477.9h0M1027.6 486.2h0M981.3 475.6h0M943.9 480.0h0M960.6 468.6h0M1048.8 471.6h0M933.4 465.5h0M912.0 479.1h0M918.0 486.1h0M895.3 466.4h0M960.7 478.7h0M908.5 469.4h0M962.8 478.2h0M925.6 487.7h0M964.9 479.7h0M895.6 480.3h0M1031.8 465.3h0M1025.6 473.2h0M1028.0 469.2h0M967.3 477.7h0M922.8 469.4h0M946.3 477.7h0M1000.6 473.4h0M976.8 479.2h0M919.0 477.0h0M1031.8 471.7h0M962.7 484.8h0M940.8 480.7h0M934.5 476.1h0M877.3 486.1h0M986.0 483.2h0M899.9 467.2h0M932.0 471.0h0M905.0 470.3h0M921.5 474.9h0M995.8 474.9h0M966.4 485.9h0M1001.4 482.9h0M991.3 474.3h0M938.8 476.9h0M930.3 469.1h0M932.1 467.4h0M929.9 464.5h0M1029.7 473.6h0M903.0 486.3h0M937.4 475.8h0M961.0 472.0h0M910.5 480.4h0M992.4 470.3h0M945.6 471.9h0M972.0 479.2h0M916.7 488.0h0M970.3 469.7h0M979.0 486.2h0M959.0 481.0h0M904.9 485.3h0M912.2 470.7h0M970.0 468.5h0M983.3 487.6h0M924.5 481.8h0M974.1 465.6h0M1018.6 465.0h0M925.4 469.8h0M885.3 480.1h0M981.9 479.6h0M977.6 467.9h0M920.1 474.4h0M941.9 478.9h0M867.8 472.3h0M856.8 483.7h0M919.4 476.0h0M940.1 463.9h0M1031.5 469.2h0M914.5 467.1h0M1017.2 482.7h0M936.8 487.4h0M938.5 466.8h0M957.2 483.4h0M1028.5 474.8h0M970.8 478.4h0M931.4 479.7h0M974.1 466.1h0M999.2 467.1h0M886.7 471.2h0M894.0 486.5h0M990.4 481.2h0M938.7 478.7h0M921.3 471.6h0M909.0 465.5h0M942.4 465.7h0M886.5 485.8h0M978.4 487.6h0M934.9 479.2h0M888.4 486.9h0M962.6 485.7h0M979.5 486.2h0M988.2 465.8h0M960.2 477.9h0M955.7 486.1h0M989.2 469.9h0M971.7 488.3h0M936.5 471.7h0M995.1 469.9h0M890.6 465.6h0M900.3 477.8h0M974.9 482.4h0M943.7 481.8h0M991.2 481.2h0M910.4 484.2h0M983.0 469.7h0M890.9 476.9h0M994.4 472.4h0M1026.0 480.5h0M1034.6 486.7h0M984.2 479.5h0M907.5 467.2h0M904.8 480.4h0M971.0 485.3h0M909.6 478.8h0M934.6 485.6h0M910.4 472.2h0M1025.8 485.4h0M860.1 470.7h0M921.2 471.8h0M871.9 465.1h0M1014.2 470.6h0M916.3 485.5h0M979.4 471.4h0M1015.0 464.9h0M917.3 473.7h0M935.5 487.2h0M1064.9 466.6h0M996.6 479.2h0M950.3 487.2h0M897.4 477.7h0M1054.1 464.2h0M926.9 474.4h0M890.2 469.3h0M1007.6 487.8h0M967.7 486.0h0M919.1 478.4h0M957.5 484.2h0M955.4 488.2h0M997.7 466.2h0M915.5 487.3h0M929.0 477.0h0M867.5 470.0h0M913.3 469.2h0M929.7 474.7h0M939.0 482.2h0M942.8 479.4h0M918.8 482.6h0M893.5 475.2h0M887.3 472.4h0M961.3 474.1h0M967.2 465.7h0M1010.2 483.0h0M945.5 475.0h0M924.0 485.6h0M914.6 472.7h0M1053.8 480.0h0M941.5 480.7h0M902.0 474.0h0M996.3 475.6h0M884.8 480.7h0M917.2 467.1h0M1022.0 483.4h0M930.1 483.0h0M993.8 484.1h0M978.2 487.8h0M991.5 465.3h0M992.2 484.8h0M871.4 468.5h0M950.3 487.1h0M896.4 484.2h0M988.4 472.4h0M866.8 476.1h0M867.9 465.7h0M965.3 466.0h0M875.4 475.0h0M992.8 464.5h0M975.4 471.9h0M978.9 481.9h0M991.5 486.2h0M939.3 470.0h0M898.4 463.8h0M933.2 486.3h0M895.0 466.1h0M981.2 475.4h0M938.3 484.3h0M958.3 477.6h0M941.5 481.3h0M930.4 471.1h0M926.0 468.3h0M962.2 470.0h0M958.0 479.0h0M1019.5 480.8h0M1002.8 476.8h0M869.2 481.1h0M980.8 488.1h0M971.1 467.6h0M977.8 488.4h0M879.8 478.7h0M882.1 472.6h0M931.9 475.6h0M1007.8 483.0h0M877.1 467.3h0M938.5 475.6h0M937.0 465.9h0M947.9 482.8h0M1015.1 475.6h0M972.9 485.8h0M906.6 467.5h0M939.7 475.3h0M941.3 487.5h0M913.3 484.3h0M884.5 480.4h0M937.8 484.8h0M903.5 479.8h0M967.6 479.4h0M955.1 488.6h0M899.6 479.2h0M1024.1 473.8h0M996.8 480.0h0M1020.1 473.8h0M933.6 472.8h0M1029.3 480.9h0M1006.6 474.8h0M950.1 483.8h0M870.8 475.6h0M892.6 469.6h0M976.4 480.3h0M964.0 479.0h0M922.1 471.2h0M865.2 484.6h0M965.9 483.9h0M899.9 467.2h0M1008.4 479.4h0M1009.5 482.1h0M983.2 482.0h0M1001.2 468.0h0M1009.7 467.4h0M887.8 482.9h0M957.0 483.7h0M879.3 478.6h0M994.7 471.3h0M1021.5 480.0h0M979.5 468.9h0M898.1 473.4h0M914.0 481.5h0M974.4 484.2h0M931.1 482.6h0M910.8 483.9h0M922.1 475.3h0M938.9 476.7h0M996.1 482.1h0M957.2 483.3h0M1004.4 484.2h0M941.0 483.3h0M938.9 488.1h0M967.9 475.2h0M900.9 467.5h0M939.0 469.2h0M984.5 484.7h0M964.5 475.9h0M933.3 467.7h0M919.9 486.2h0M962.2 464.3h0M938.7 473.4h0M908.1 487.5h0M948.1 480.2h0M981.9 476.1h0M970.7 476.9h0M983.8 478.4h0M1027.4 478.2h0M886.8 466.2h0M902.9 472.9h0M974.2 484.3h0M981.2 475.8h0M946.5 485.0h0M959.4 472.7h0M909.1 481.9h0M992.0 466.0h0M920.4 466.3h0M988.5 470.1h0M1036.7 470.6h0M972.1 465.7h0M919.5 474.4h0M949.6 488.3h0M937.7 468.5h0M908.6 468.9h0M941.1 467.6h0M1021.7 472.9h0M968.2 476.8h0M991.1 474.8h0M923.2 480.8h0M932.1 486.8h0M1006.2 471.6h0M940.7 479.8h0M968.3 488.3h0M982.1 470.8h0M890.1 468.1h0M992.2 486.6h0M944.6 467.1h0M962.1 476.0h0M961.9 488.5h0M1020.5 484.4h0M912.7 479.6h0M903.2 468.3h0M906.6 483.1h0M979.7 476.6h0M984.2 470.3h0M942.3 470.5h0M982.5 468.2h0M887.2 474.1h0M1005.9 481.9h0M945.5 474.4h0M912.9 475.4h0M1008.5 475.2h0M881.0 475.6h0M1004.5 471.9h0M997.5 465.6h0M974.9 472.8h0M942.8 470.5h0M1010.9 479.0h0M928.3 480.7h0M1070.8 480.4h0M965.2 470.8h0M1038.0 485.8h0M927.8 467.6h0M900.9 476.9h0M893.9 480.5h0M962.1 487.7h0M919.9 472.6h0M983.1 484.3h0M1018.9 478.0h0M862.6 486.4h0M917.2 481.3h0M923.7 475.1h0M968.3 475.8h0M949.2 487.7h0M916.5 484.2h0M929.2 469.4h0M987.4 466.6h0M874.7 483.8h0M1040.6 464.2h0M1005.7 465.0h0M898.3 485.6h0M937.2 483.8h0M963.3 475.1h0M999.3 483.6h0M924.1 468.6h0M963.4 477.9h0M921.8 468.0h0M944.6 476.1h0M865.0 485.4h0M886.1 472.9h0M939.1 464.9h0M957.7 482.9h0M928.5 469.3h0M967.5 475.5h0M900.0 480.2h0M977.1 478.9h0M993.2 475.7h0M1023.7 472.2h0M886.7 480.7h0M970.8 477.7h0M997.9 477.7h0M874.8 484.1h0M904.4 482.2h0M908.1 471.8h0M944.5 482.1h0M968.7 475.2h0M918.7 467.8h0M976.7 480.3h0M867.0 470.3h0M1027.5 476.9h0M866.2 475.7h0M928.4 473.8h0M914.6 477.0h0M929.9 471.8h0M910.3 468.2h0M1061.3 478.5h0M925.4 474.7h0M934.7 482.9h0M967.8 464.5h0M927.0 488.3h0M885.6 469.7h0M853.9 469.4h0M1014.2 484.9h0M1073.2 470.6h0M934.7 466.4h0M989.6 480.0h0M1013.7 471.7h0M984.6 470.1h0M968.9 464.2h0M915.0 466.1h0M1027.2 480.3h0M941.1 472.8h0M910.0 468.2h0M969.7 487.5h0M905.9 469.8h0M863.3 485.0h0M985.8 465.1h0M902.8 485.8h0M1042.7 464.4h0M1027.4 471.2h0M989.8 481.4h0M996.3 474.0h0M975.3 472.7h0M969.9 479.0h0M966.4 487.7h0M899.8 471.8h0M897.2 476.4h0M1008.3 465.1h0M984.3 472.9h0M908.6 480.8h0M995.8 464.3h0M943.6 487.5h0M905.0 477.7h0M926.1 477.1h0M911.2 472.1h0M993.9 484.5h0M911.4 473.3h0M888.8 478.1h0M977.3 476.9h0M945.3 479.8h0M1046.9 472.5h0M915.9 469.7h0M998.3 485.6h0M990.9 468.2h0M976.9 469.2h0M971.3 483.6h0M919.1 484.9h0M979.9 465.2h0M885.0 472.2h0M894.6 481.7h0M985.4 467.0h0M940.6 484.7h0M1004.5 467.7h0M961.3 472.5h0M1012.6 475.4h0M976.1 480.0h0M962.0 475.5h0M957.5 484.5h0M872.0 486.9h0M983.1 485.2h0M914.1 485.0h0M932.2 476.5h0M1037.9 465.5h0M1021.7 472.1h0M1039.8 480.6h0M991.0 468.3h0M917.4 478.1h0M897.2 471.6h0M944.6 470.9h0M936.4 477.2h0M984.2 468.3h0M976.9 479.4h0M1021.8 483.4h0M957.0 487.5h0M964.6 484.3h0M998.2 485.9h0M977.3 478.4h0M969.7 483.4h0M980.0 468.1h0M994.7 467.3h0M1031.0 483.7h0M1065.3 467.2h0M992.0 473.1h0M1056.9 467.6h0M975.3 470.8h0M937.1 472.6h0M963.3 485.7h0M957.8 487.9h0M961.4 481.4h0M975.9 468.3h0M931.6 469.7h0M910.3 476.5h0M923.4 479.7h0M937.2 470.5h0M935.0 475.8h0M1038.7 463.9h0M1054.5 479.3h0M928.4 469.3h0M902.9 469.7h0M915.4 466.4h0M986.2 465.4h0M962.9 479.1h0M931.9 476.1h0M933.4 467.1h0M1019.5 474.4h0M981.4 477.7h0M868.1 472.8h0M907.6 468.1h0M1031.2 487.1h0M1012.8 471.7h0M946.8 485.9h0M979.1 468.4h0M994.1 480.2h0M1004.7 470.0h0M958.9 481.4h0M936.4 478.8h0M1000.5 469.1h0M969.9 468.5h0M919.6 483.6h0M924.3 468.0h0M1013.2 475.5h0M1009.9 481.2h0M1020.3 487.0h0M912.8 482.7h0M971.9 482.0h0M965.0 470.8h0M899.0 473.0h0M1003.3 485.6h0M911.0 470.9h0M928.0 482.0h0M909.6 474.7h0M1023.8 474.6h0M914.1 482.9h0M972.4 483.2h0M988.6 486.5h0M980.8 467.2h0M990.3 470.3h0M929.4 486.7h0M981.1 467.2h0M875.9 475.9h0M979.3 486.4h0M961.9 470.4h0M883.8 470.1h0M998.3 478.0h0M918.0 485.6h0M1004.2 487.4h0M845.7 469.0h0M883.6 481.6h0M934.3 473.4h0M907.5 470.0h0M917.8 483.7h0M1010.2 476.8h0M965.6 476.1h0M847.7 482.1h0M949.5 483.6h0M1004.7 479.4h0M928.0 469.0h0M892.4 484.9h0M975.1 471.5h0M910.6 470.6h0M933.6 477.3h0M888.4 465.8h0M1029.5 476.0h0M891.7 481.5h0M987.2 477.0h0M931.0 481.6h0M914.8 478.1h0M981.1 467.9h0M968.0 472.8h0M899.7 475.4h0M890.8 474.6h0M973.3 484.5h0M985.0 471.8h0M1058.9 475.5h0M878.2 469.1h0M918.2 480.5h0M909.6 469.7h0M931.6 469.5h0M1002.0 477.5h0M922.6 471.2h0M884.3 478.2h0M1021.7 484.7h0M960.3 484.4h0M939.1 467.8h0M940.9 479.4h0M1027.5 471.8h0M895.7 481.1h0M999.0 466.4h0M922.2 472.8h0M888.0 470.4h0M965.4 473.9h0M1064.2 470.4h0M1001.8 484.3h0M907.7 472.3h0M921.8 481.8h0M1018.7 465.3h0M924.4 468.7h0M935.5 487.2h0M979.7 474.9h0M998.2 474.1h0M929.0 478.0h0M925.4 469.2h0M921.9 472.2h0M997.8 480.4h0M970.4 464.7h0M1000.2 480.6h0M1020.6 468.1h0M1008.1 474.4h0M988.9 478.7h0M943.2 466.5h0M912.0 469.1h0M966.3 477.6h0M918.4 477.1h0M1007.0 477.8h0M1018.5 483.5h0M901.4 484.4h0M1077.4 475.7h0M991.9 472.6h0M979.1 485.0h0M982.8 484.5h0M924.9 472.7h0M1035.0 473.0h0M936.7 478.5h0M937.0 469.3h0M975.6 468.5h0M922.6 467.1h0M919.5 478.8h0M1012.2 473.3h0M1048.6 465.1h0M996.8 488.1h0M961.9 476.4h0M922.8 472.9h0M924.3 479.6h0M1000.7 464.3h0M869.4 471.4h0M912.2 480.0h0M930.8 486.4h0M1028.1 484.6h0M937.0 481.3h0M1056.4 466.4h0M920.6 477.4h0M927.4 482.5h0M873.4 471.8h0M881.5 465.2h0M968.6 483.0h0M959.9 471.1h0M982.8 480.0h0M906.8 486.0h0M960.4 483.3h0M925.6 484.1h0M1059.4 472.7h0M905.4 482.1h0M959.9 473.9h0M877.9 468.1h0M966.9 484.1h0M894.9 469.2h0M1005.0 487.8h0M975.5 466.7h0M966.8 471.0h0M940.4 488.6h0M886.4 483.2h0M972.5 465.6h0M898.6 469.5h0M980.9 487.1h0M974.0 474.9h0M981.8 481.8h0M998.8 480.9h0M1011.3 474.3h0M940.9 472.9h0M865.9 467.4h0M1004.4 480.2h0M942.6 487.4h0M988.6 486.8h0M877.3 468.8h0M1010.0 484.0h0M892.8 472.2h0M947.5 486.5h0M904.3 472.6h0M1080.3 469.0h0M913.1 471.2h0M863.6 468.5h0M916.6 468.8h0M1029.3 475.8h0M932.3 477.4h0M996.2 474.2h0M988.1 476.7h0M887.6 474.6h0M1003.6 465.7h0M1004.6 487.4h0M949.3 486.0h0M931.1 477.7h0M896.8 467.8h0M942.4 472.6h0M972.1 475.8h0M1008.6 474.6h0M1020.6 472.2h0M896.7 470.4h0M973.5 482.7h0M926.8 477.8h0M1012.2 467.1h0M1009.1 477.8h0M933.6 483.0h0M922.7 486.2h0M978.5 482.9h0M987.4 485.6h0M948.8 484.2h0M891.5 476.0h0M977.1 481.3h0M967.5 479.0h0M899.8 467.4h0M965.1 477.0h0M983.4 471.5h0M894.8 478.9h0M1030.4 475.1h0M962.2 466.7h0M977.9 479.4h0M937.3 475.0h0M956.9 486.3h0M872.1 470.8h0M934.7 467.4h0M946.5 473.5h0M1013.0 478.4h0M972.6 482.8h0M1027.3 465.6h0M974.6 478.8h0M934.0 468.1h0M874.4 469.1h0M927.7 476.6h0M995.6 486.3h0M993.9 475.5h0M860.1 473.1h0M902.9 466.5h0M941.8 472.2h0M960.2 481.7h0M926.1 470.4h0M855.9 468.5h0M896.4 473.3h0M984.8 469.0h0M994.5 482.1h0M975.3 480.6h0M967.3 483.4h0M967.9 468.1h0M906.7 467.4h0M907.1 471.1h0M1012.6 483.5h0M963.6 466.8h0M894.7 473.3h0M881.2 483.1h0M861.7 480.8h0M940.4 488.2h0M966.6 485.3h0M960.5 475.1h0M906.4 479.0h0M1000.5 486.8h0M975.3 477.7h0M1042.9 482.5h0M873.9 474.7h0M961.8 485.1h0M878.8 464.7h0M1041.5 476.7h0M944.0 486.1h0M987.9 480.8h0M1023.2 469.3h0M947.7 486.3h0M895.5 474.4h0M904.1 482.2h0M1021.8 478.0h0M929.8 464.6h0M932.2 464.3h0M964.5 476.7h0M975.1 468.7h0M950.0 484.6h0M934.9 477.8h0M996.8 478.6h0M1019.7 485.0h0M881.0 480.3h0M859.1 475.7h0M999.9 470.6h0M921.7 464.8h0M1011.5 474.7h0M1018.4 480.9h0M989.5 480.0h0M859.1 474.1h0M1068.8 483.4h0M906.1 479.7h0M1058.1 467.0h0M927.7 482.7h0M975.7 483.9h0M999.4 475.2h0M915.3 477.3h0M878.8 468.7h0M932.7 476.5h0M1010.6 466.7h0M983.5 466.7h0M1007.2 469.4h0M903.2 470.5h0M893.9 474.3h0M1005.9 477.9h0M997.6 468.9h0M1020.6 475.5h0M885.0 471.6h0M1007.3 480.4h0M1080.8 465.1h0M888.3 476.6h0M973.9 479.2h0M1000.2 474.1h0M992.0 469.4h0M966.8 486.1h0M928.3 484.6h0M949.8 482.4h0M967.2 488.4h0M915.5 477.5h0M959.7 483.3h0M922.7 471.8h0M962.1 474.2h0M930.8 484.3h0M1016.1 477.7h0M1031.7 474.7h0M944.6 475.1h0M895.0 465.4h0M997.8 470.5h0M909.6 475.2h0M938.1 483.9h0M986.2 466.7h0M968.7 484.7h0M985.2 473.7h0M917.4 482.9h0M916.1 473.2h0M1015.4 465.6h0M897.8 487.2h0M898.0 470.3h0M918.1 464.2h0M908.4 467.5h0M1040.8 478.8h0M1005.9 477.6h0M923.9 474.3h0M868.8 466.0h0M1013.1 484.1h0M949.8 485.0h0M918.5 475.4h0M1073.0 484.4h0M932.8 474.4h0M944.8 469.4h0M995.9 466.8h0M1035.2 468.5h0M1051.1 472.2h0M935.0 465.0h0M978.0 470.4h0M997.6 469.9h0M959.1 479.5h0M857.3 474.5h0M909.4 475.0h0M1000.6 468.0h0M966.4 466.7h0M969.0 469.8h0M1046.2 467.3h0M1039.2 477.0h0M1046.0 484.0h0M962.3 473.9h0M908.2 481.7h0M936.1 478.2h0M1012.7 479.3h0M880.3 478.4h0M985.3 486.2h0M904.0 467.3h0M998.8 479.9h0M986.8 475.5h0M914.0 487.3h0M1007.7 475.9h0M959.6 478.9h0M978.8 486.6h0M995.6 484.0h0M982.5 479.1h0M936.9 474.3h0M872.2 466.4h0M982.9 482.6h0M885.6 467.6h0M984.7 478.4h0M896.2 480.6h0M969.4 472.4h0M917.3 478.5h0M998.4 473.1h0M942.1 486.9h0M945.2 485.3h0M928.5 475.9h0M936.9 469.4h0M1007.1 485.2h0M910.0 467.1h0M997.8 472.4h0M867.8 474.5h0M911.8 469.3h0M981.3 479.9h0M937.4 470.9h0M941.1 467.8h0M889.2 482.9h0M928.7 475.9h0M938.6 465.5h0M941.5 475.2h0M978.8 484.0h0M938.9 466.1h0M989.7 485.0h0M968.9 470.6h0M924.4 481.9h0M933.9 475.6h0M904.0 474.3h0M980.5 466.4h0M914.3 466.5h0M924.2 468.2h0M906.7 465.1h0M854.9 482.4h0M898.1 487.7h0M921.3 482.7h0M987.9 480.4h0M896.1 467.9h0M963.3 464.9h0M943.2 482.0h0M932.4 468.5h0M991.9 482.1h0M944.5 468.6h0M1009.3 485.4h0M941.8 487.8h0M921.1 484.3h0M981.1 483.6h0M909.2 476.5h0M918.2 472.7h0M923.0 475.8h0M947.2 473.6h0M1009.2 466.6h0M993.5 478.7h0M945.6 479.7h0M931.7 484.2h0M1010.2 481.5h0M915.7 475.1h0M891.1 474.0h0M1004.3 475.0h0M985.8 477.2h0M961.0 477.9h0M921.7 484.5h0M964.8 472.5h0M901.3 479.3h0M1021.1 479.0h0M1010.7 487.7h0M943.1 485.7h0M1034.5 480.2h0M1015.7 478.9h0M907.2 467.0h0M932.6 464.0h0M960.7 479.2h0M1025.5 471.6h0M942.0 476.3h0M976.5 468.4h0M999.0 468.1h0M983.5 482.4h0M936.5 478.5h0M982.5 469.6h0M933.2 466.6h0M1014.5 464.2h0M1025.3 463.9h0M922.4 482.6h0M977.7 484.4h0M909.1 469.8h0M929.8 486.6h0M970.8 473.4h0M1000.6 483.7h0M1056.0 465.5h0M945.2 487.2h0M1013.2 479.9h0M908.6 469.5h0M932.0 469.6h0M870.3 480.1h0M959.9 485.1h0M942.2 465.6h0M921.9 474.7h0M974.5 467.0h0M920.9 485.7h0M988.6 479.1h0M963.1 470.1h0M984.0 487.9h0M1011.7 481.3h0M986.1 480.6h0M879.7 485.9h0M943.8 469.3h0M1021.6 464.5h0M987.5 485.6h0M971.2 469.8h0M935.1 476.4h0M949.3 482.2h0M924.3 476.7h0M909.7 482.0h0M926.0 467.9h0M985.7 481.1h0M981.2 485.6h0M937.6 464.7h0M929.8 474.0h0M974.6 478.0h0M938.9 480.4h0M1046.1 476.4h0M914.2 484.0h0M929.9 487.8h0M997.0 485.8h0M1000.0 476.5h0M882.4 485.1h0M907.9 464.9h0M909.6 486.0h0M969.3 464.2h0M882.8 478.7h0M903.0 487.6h0M1028.3 476.8h0M1002.8 486.2h0M938.9 473.1h0M923.9 466.6h0M924.2 469.2h0M929.1 466.4h0M911.0 482.5h0M883.7 465.2h0M913.6 467.1h0M943.1 484.1h0M1032.8 474.6h0M883.1 479.7h0M900.9 478.0h0M958.4 479.3h0M964.9 470.2h0M890.7 476.4h0M877.6 481.8h0M905.3 471.2h0M948.5 478.8h0M911.7 475.1h0M1041.1 465.7h0M1015.9 463.9h0M935.8 483.7h0M873.9 471.2h0M1025.6 480.7h0M1022.9 464.0h0M890.1 468.1h0M1005.8 476.3h0M934.4 488.6h0M941.8 464.2h0M920.4 478.6h0M982.6 482.2h0M973.1 488.2h0M877.0 477.2h0M1020.6 479.3h0M945.1 469.9h0M960.5 487.7h0M902.6 477.8h0M1031.1 478.3h0M892.9 476.4h0M979.2 485.1h0M947.1 487.2h0M914.0 481.3h0M943.0 476.8h0M912.1 467.0h0M985.1 472.3h0M916.0 472.6h0M900.7 486.3h0M963.2 470.5h0M985.9 477.3h0M869.7 482.1h0M941.7 479.5h0M852.8 482.8h0M889.8 475.3h0M980.0 464.2h0M990.6 485.5h0M905.1 482.5h0M969.8 464.9h0M994.7 478.7h0M1008.0 479.4h0M1031.3 475.2h0M969.6 464.3h0M979.3 476.0h0M1002.0 480.3h0M1050.2 467.7h0M924.3 485.8h0M941.2 478.5h0M993.4 471.3h0M871.4 470.8h0M1033.0 474.7h0M872.7 476.0h0M906.8 484.8h0M911.7 474.6h0M918.5 485.3h0M932.6 469.7h0M967.5 478.5h0M939.3 472.1h0M871.8 477.5h0M942.9 471.8h0M929.4 465.2h0M936.7 480.1h0M1007.4 471.4h0M985.4 475.7h0M983.2 470.8h0M927.3 469.2h0M995.4 475.8h0M971.5 475.0h0M998.6 469.8h0M902.1 465.0h0M888.3 473.9h0M962.0 471.1h0M1065.8 467.1h0M904.6 464.9h0M942.7 476.1h0M962.8 472.5h0M962.8 473.6h0M845.1 473.2h0M920.4 468.0h0M965.3 471.2h0M1013.2 470.9h0M918.3 464.0h0M938.7 478.1h0M966.3 474.0h0M1032.5 482.1h0M914.0 487.9h0M962.2 486.2h0M1023.1 473.2h0M936.4 469.9h0M964.7 471.7h0M985.6 464.1h0M1037.3 481.3h0M862.2 480.6h0M966.1 476.3h0M961.6 486.4h0M942.9 488.2h0M927.7 484.9h0M904.0 469.8h0M976.2 484.1h0M977.4 466.1h0M931.1 478.3h0M1033.4 475.2h0M909.1 480.9h0M992.1 484.6h0M875.7 480.7h0M1028.9 478.3h0M907.4 470.9h0M935.0 481.9h0M972.5 487.4h0M988.0 481.8h0M1012.9 472.6h0M921.4 483.5h0M967.4 468.1h0M932.6 477.7h0M961.0 483.1h0M979.7 476.9h0M897.5 473.7h0M973.3 486.0h0M972.7 484.9h0M925.3 487.5h0M919.4 481.3h0M879.3 468.7h0M940.1 487.3h0M984.3 478.6h0M1001.2 472.1h0M925.6 481.0h0M1017.4 469.6h0M917.7 463.8h0M903.1 469.6h0M866.8 475.8h0M883.8 468.7h0M917.2 476.0h0M1029.2 483.7h0M933.3 465.7h0M894.0 475.0h0M1012.7 474.3h0M1004.0 465.1h0M894.9 479.3h0M897.8 483.9h0M939.8 466.3h0M900.6 485.3h0M978.1 474.5h0M871.9 469.1h0M925.5 477.2h0M983.9 469.6h0M869.2 473.4h0M975.7 473.7h0M976.3 469.4h0M867.3 476.7h0M984.7 478.9h0M931.2 464.6h0M999.5 470.9h0M1020.4 487.3h0M1001.6 487.1h0M999.7 479.2h0M929.7 464.0h0M988.7 479.7h0M938.1 463.8h0M997.0 476.0h0M974.2 474.5h0M886.8 473.9h0M941.8 487.2h0M930.2 467.8h0M985.2 483.1h0M929.2 473.7h0M945.7 487.9h0M918.6 487.0h0M923.3 474.3h0M993.8 479.6h0M959.9 488.3h0M888.8 467.2h0M1010.4 487.8h0M996.8 465.1h0M1022.0 464.9h0M922.9 487.8h0M973.4 481.2h0M936.2 472.1h0M973.2 486.3h0M932.5 465.8h0M975.3 472.2h0M935.0 469.7h0M1069.0 475.4h0M995.0 477.8h0M922.1 464.9h0M874.6 480.9h0M977.6 481.6h0M969.6 484.1h0M1060.1 469.8h0M960.4 470.6h0M1024.5 469.9h0M927.0 471.0h0M914.6 486.9h0M1007.2 485.0h0M939.3 483.9h0M992.8 481.8h0M889.1 475.1h0M939.5 482.7h0M982.8 480.3h0M1029.8 471.5h0M1017.4 485.7h0M942.4 474.5h0M917.1 485.4h0M1015.9 485.9h0M1000.3 482.9h0M923.7 476.8h0M880.6 479.6h0M981.5 467.2h0M990.2 477.8h0M986.2 475.3h0M1037.6 479.8h0M989.7 487.8h0M944.5 472.3h0M871.3 483.6h0M948.3 488.1h0M1043.7 472.0h0M884.1 484.6h0M937.2 474.6h0M932.5 476.3h0M946.9 474.7h0M912.4 473.5h0M974.6 484.6h0M974.3 486.2h0M1029.3 468.1h0M961.0 477.4h0M976.6 483.1h0M885.2 472.0h0M930.7 488.5h0M895.5 465.3h0M1016.3 481.3h0M986.7 479.8h0M966.1 478.6h0M978.7 471.4h0M1004.7 467.6h0M991.4 487.2h0M987.3 478.5h0M985.8 465.0h0M1005.0 465.5h0M997.1 469.2h0M974.0 470.0h0M997.8 472.8h0M941.5 472.7h0M898.8 477.4h0M975.9 469.3h0M966.0 484.6h0M931.7 471.4h0M847.9 475.9h0M974.4 482.6h0M993.0 468.8h0M913.3 476.6h0M958.6 478.4h0M959.4 479.0h0M960.0 477.2h0M963.5 477.7h0M890.1 472.4h0M961.7 464.8h0M847.2 484.3h0M930.8 481.2h0M990.5 473.5h0M913.9 487.8h0M972.4 469.4h0M904.3 479.4h0M926.3 468.8h0M905.6 479.9h0M924.1 468.0h0M945.1 484.6h0M984.0 476.4h0M960.4 471.4h0M930.0 465.3h0M899.0 480.2h0M1004.3 468.8h0M1015.9 468.8h0M937.2 465.3h0M930.9 466.4h0M895.2 476.9h0M941.5 465.2h0M943.7 464.2h0M949.7 488.0h0M856.4 470.7h0M940.5 473.4h0M902.5 473.8h0M944.9 483.0h0M919.5 482.1h0M974.0 469.9h0M959.7 482.6h0M968.7 487.4h0M978.2 477.9h0M911.3 486.7h0M992.6 487.8h0M989.2 478.2h0M1071.8 473.0h0M934.4 483.5h0M976.0 484.9h0M934.7 478.0h0M924.5 481.5h0M979.6 468.8h0M928.8 474.8h0M1023.5 478.7h0M965.0 478.7h0M976.5 480.1h0M918.8 464.1h0M1077.8 478.0h0M870.2 469.1h0M895.0 483.6h0M963.7 483.9h0M1006.9 485.1h0M990.9 481.9h0M973.8 487.7h0M885.2 483.5h0M868.1 463.8h0M972.9 467.9h0M987.4 469.2h0M1084.9 465.3h0M1024.7 478.9h0M983.5 474.4h0M937.7 467.9h0M961.1 477.2h0M905.6 482.9h0M941.7 472.7h0M964.7 484.0h0M929.4 478.9h0M988.4 466.3h0M940.9 478.1h0M977.2 482.4h0M967.3 475.9h0M892.2 476.5h0M957.7 480.0h0M874.0 464.9h0M904.5 474.5h0M855.0 469.7h0M906.3 466.4h0M926.6 467.1h0M939.0 475.7h0M892.5 484.7h0M963.8 476.1h0M933.1 469.6h0M961.3 469.3h0M948.7 486.8h0M980.2 486.5h0M1018.3 464.8h0M1058.9 474.1h0M974.5 486.6h0M942.1 484.0h0M1000.9 487.5h0M925.0 481.1h0M945.2 484.4h0M906.2 471.8h0M991.2 468.1h0M888.1 475.6h0M968.5 478.8h0M1021.7 475.3h0M966.0 476.4h0M961.5 471.8h0M894.1 483.6h0M935.8 469.2h0M926.4 463.9h0M972.1 482.7h0M848.3 474.9h0M976.6 478.7h0M926.9 471.7h0M975.1 466.4h0M1001.4 470.7h0M962.3 477.2h0M1051.0 468.5h0M899.4 485.7h0M932.7 471.1h0M988.6 483.5h0M930.7 470.4h0M875.9 471.2h0M919.1 475.5h0M990.4 474.4h0M929.1 482.5h0M943.2 467.1h0M962.1 488.4h0M980.6 475.1h0M961.6 484.4h0M962.1 480.6h0M921.7 488.2h0M1002.3 464.9h0M916.9 470.3h0M921.4 468.7h0M938.8 464.4h0M933.7 465.0h0M931.0 484.6h0M914.4 472.8h0M935.6 465.3h0M959.3 475.8h0M919.6 466.2h0M920.7 473.9h0M936.1 472.3h0M965.5 483.4h0M938.2 477.9h0M1006.3 465.0h0M968.9 476.1h0M890.0 465.8h0M911.5 464.3h0M1022.5 464.9h0M962.2 476.9h0M981.6 487.5h0M970.4 478.8h0M963.2 486.4h0M1010.6 476.5h0M1047.1 470.1h0M1011.8 482.9h0M942.6 487.3h0M1037.6 464.7h0M963.5 488.4h0M968.6 464.2h0M853.7 482.0h0M964.5 483.5h0M943.5 475.3h0M1020.7 476.2h0M931.7 479.8h0M943.0 470.8h0M930.5 475.0h0M924.6 469.6h0M978.9 480.2h0M1041.2 482.7h0M989.5 486.8h0M970.9 481.3h0M1012.5 477.2h0M863.8 464.7h0M932.4 467.0h0M944.5 483.4h0M936.9 488.4h0M868.2 467.7h0M849.8 470.4h0M1002.3 486.7h0M927.9 482.6h0M1030.9 478.9h0M981.4 477.3h0M958.5 478.0h0M984.7 486.9h0M980.0 464.9h0M938.9 466.4h0M978.9 483.3h0M940.3 470.6h0M1041.5 472.3h0M1027.8 470.4h0M966.2 486.6h0M926.0 469.7h0M932.0 471.9h0M895.3 465.0h0M979.6 475.2h0M1037.9 485.7h0M992.8 475.2h0M970.6 486.4h0M931.5 486.5h0M973.5 486.2h0M960.4 472.9h0M918.1 477.2h0M892.8 477.1h0M887.7 474.4h0M932.1 475.4h0M915.1 469.6h0M962.3 481.3h0M991.7 475.4h0M974.0 483.9h0M861.7 472.2h0M989.4 471.0h0M940.8 473.2h0M870.0 485.6h0M1019.2 474.4h0M1034.1 476.5h0M971.5 485.3h0M1017.6 473.7h0M938.4 487.5h0M884.1 475.7h0M939.1 472.4h0M887.2 475.6h0M882.6 472.2h0M1023.4 469.7h0M879.3 476.1h0M879.2 476.7h0M933.6 473.6h0M939.7 468.8h0M849.5 484.2h0M1001.9 469.6h0M966.6 484.3h0M933.9 474.1h0M994.0 466.1h0M968.3 481.5h0M884.5 472.0h0M901.7 470.2h0M905.8 472.6h0M991.7 487.6h0M1032.6 477.2h0M1027.8 472.0h0M1000.2 485.8h0M943.9 464.3h0M925.3 471.3h0M891.1 479.1h0M1053.2 480.4h0M933.9 469.3h0M1008.9 469.2h0M968.5 485.4h0M926.1 480.8h0M983.4 466.9h0M980.3 469.7h0M892.8 475.9h0M943.4 471.3h0M930.1 478.1h0M902.8 465.8h0M880.7 464.3h0M1057.1 468.2h0M998.4 470.9h0M967.4 466.2h0M930.1 475.3h0M896.3 465.6h0M1010.8 467.9h0M914.0 470.6h0M978.6 477.4h0M920.6 482.7h0M990.1 476.2h0M1015.8 479.4h0M948.7 484.8h0M1037.4 464.9h0M923.0 484.6h0M892.5 483.0h0M960.4 481.7h0M882.6 473.2h0M869.4 480.4h0M946.1 484.7h0M1028.5 475.2h0M1007.2 474.7h0M970.7 465.8h0M977.6 485.2h0M969.4 481.6h0M931.6 482.2h0M979.6 471.8h0M850.0 480.4h0M1035.3 469.7h0M1021.7 474.0h0M1000.7 480.5h0M984.4 468.4h0M1065.5 470.1h0M1003.9 467.8h0M908.6 483.5h0M909.6 482.5h0M1020.4 483.8h0M911.1 485.9h0M998.6 471.4h0M935.9 468.0h0M866.2 484.7h0M964.0 488.0h0M904.9 468.0h0M858.7 468.2h0M908.6 486.9h0M1074.3 481.8h0M858.7 474.1h0M994.2 477.0h0M931.7 473.5h0M887.9 485.6h0M1006.1 485.9h0M971.6 484.8h0M935.6 473.9h0M975.2 483.9h0M964.4 483.2h0M928.6 475.1h0M924.7 468.1h0M986.3 480.9h0M912.8 468.6h0M988.0 469.8h0M983.5 488.2h0M983.6 487.8h0M977.7 471.6h0M1002.4 485.9h0M1036.1 465.7h0M1014.1 485.3h0M922.7 464.6h0M927.0 480.5h0M986.3 478.5h0M886.2 477.5h0M860.7 483.8h0M960.7 481.0h0M910.0 473.0h0M906.2 484.8h0M924.9 481.6h0M910.4 479.7h0M884.6 473.2h0M1037.4 483.5h0M988.8 469.1h0M972.5 477.7h0M986.7 482.9h0M925.3 467.2h0M973.7 487.1h0M1005.0 475.7h0M1008.3 476.6h0M963.1 485.4h0M938.1 485.1h0M918.9 481.6h0M1010.1 470.7h0M1073.0 469.1h0M967.9 478.8h0M916.0 464.0h0M845.4 481.0h0M878.9 466.6h0M1010.9 471.6h0M887.8 481.9h0M934.8 487.8h0M881.7 477.8h0M1064.0 476.1h0M929.6 478.4h0M1020.3 479.6h0M1015.1 476.4h0M902.9 481.7h0M924.7 475.9h0M998.2 470.9h0M1011.4 477.9h0M967.0 464.3h0M933.8 475.0h0M989.8 482.0h0M979.5 469.6h0M933.2 469.8h0M970.7 471.3h0M911.9 488.0h0M885.4 471.7h0M922.9 484.5h0M920.5 464.8h0M973.5 475.8h0M993.9 474.6h0M869.1 468.7h0M945.0 473.2h0M910.7 469.9h0M992.4 466.1h0M943.0 473.0h0M985.3 475.0h0M975.9 465.2h0M940.6 481.0h0M944.1 476.6h0M943.8 482.5h0M911.6 480.4h0M1024.4 485.3h0M972.8 473.1h0M969.4 486.4h0M923.9 468.6h0M997.2 465.8h0M1035.1 485.6h0M876.4 467.4h0M979.3 473.6h0M976.6 474.7h0M988.4 483.0h0M894.7 483.9h0M987.8 484.5h0M969.1 476.9h0M929.2 482.7h0M925.0 471.7h0M1013.3 480.4h0M1011.3 477.1h0M981.4 476.8h0M939.2 467.0h0M914.0 473.2h0M948.2 478.5h0M935.8 473.4h0M984.0 480.1h0M880.0 469.0h0M997.9 479.8h0M1006.9 486.2h0M977.8 480.4h0M876.9 467.5h0M891.7 471.5h0M997.2 473.0h0M920.6 481.2h0M913.2 473.6h0M988.9 478.4h0M964.3 469.0h0M914.0 472.3h0M915.8 472.3h0M971.7 481.9h0M1021.8 469.0h0M1002.4 479.4h0M986.9 466.9h0M1016.4 475.7h0M974.8 464.4h0M924.9 483.9h0M1042.8 483.5h0M940.6 474.4h0M968.9 463.8h0M857.2 468.9h0M916.1 480.1h0M920.4 471.5h0M997.4 487.4h0M965.7 472.1h0M974.4 471.2h0M971.4 487.9h0M918.2 483.2h0M921.3 472.0h0M885.0 485.9h0M1002.4 465.3h0M895.2 475.2h0M890.4 478.4h0M965.7 470.4h0M984.7 479.6h0M963.7 478.8h0M936.3 474.8h0M1045.7 483.5h0M905.7 465.1h0M947.5 476.6h0M1000.7 479.4h0M967.1 472.6h0M927.3 466.4h0M961.4 484.1h0M1056.9 480.4h0M961.9 477.4h0M981.2 474.5h0M910.9 469.6h0M1043.0 473.3h0M981.3 465.0h0M984.4 480.9h0M923.1 486.9h0M930.5 486.9h0M942.2 482.2h0M890.6 477.3h0M979.0 479.7h0M923.8 482.7h0M888.6 469.5h0M1000.6 479.7h0M967.5 475.6h0M1004.5 477.1h0M1034.4 475.5h0M935.2 478.5h0M926.5 488.1h0M900.9 474.3h0M971.3 485.3h0M956.8 482.8h0M889.7 486.5h0M1015.9 483.3h0M1019.0 468.1h0M925.5 484.1h0M940.3 488.2h0M995.0 486.4h0M929.3 483.3h0M931.7 475.6h0M937.7 481.5h0M942.8 466.3h0M889.1 479.8h0M998.6 482.1h0M974.4 474.0h0M950.6 486.2h0M934.9 484.1h0M942.6 485.6h0M964.4 480.2h0M905.5 467.7h0M856.8 464.0h0M851.4 474.7h0M962.7 474.7h0M961.7 483.3h0M910.2 485.1h0M1002.1 479.7h0M963.5 465.7h0M969.0 482.7h0M941.4 473.8h0M927.5 487.8h0M939.1 475.6h0M1001.6 476.2h0M978.6 468.5h0M1002.2 481.4h0M957.8 484.5h0M884.8 470.3h0M943.8 474.6h0M882.2 466.4h0M881.8 475.9h0M983.4 485.5h0M914.6 476.5h0M972.6 479.8h0M915.2 470.9h0M890.0 464.1h0M1045.7 466.4h0M1060.1 471.6h0M975.4 468.1h0M968.7 487.1h0M1005.9 464.5h0M990.2 465.2h0M934.6 482.7h0M922.6 481.8h0M1015.9 477.3h0M973.8 483.0h0M910.3 476.7h0M978.0 473.6h0M1019.9 478.8h0M966.7 486.3h0M938.7 477.0h0M989.2 481.7h0M986.2 479.1h0M929.0 464.9h0M970.3 465.7h0M989.3 475.3h0M946.6 473.4h0M973.4 464.2h0M986.8 484.9h0M1000.4 467.1h0M1005.4 481.6h0M884.4 482.8h0M942.9 477.8h0M986.5 467.0h0M1065.0 466.7h0M866.3 485.1h0M971.4 481.0h0M989.2 481.0h0M985.5 473.3h0M974.8 468.9h0M929.9 476.1h0M985.1 477.0h0M973.9 471.7h0M896.6 472.6h0M878.9 477.7h0M1024.7 485.4h0M901.1 482.2h0M994.3 467.8h0M988.9 468.7h0M974.7 487.6h0M1010.8 468.0h0M964.4 467.5h0M974.0 488.5h0M1005.9 478.6h0M972.2 482.7h0M993.4 484.4h0M969.7 483.0h0M939.7 478.9h0M967.9 465.9h0M984.3 474.6h0M996.6 470.9h0M973.7 475.9h0M908.6 474.0h0M887.9 469.6h0M966.0 487.9h0M935.6 468.5h0M875.8 485.7h0M1011.2 480.4h0M982.3 479.4h0M983.2 465.3h0M973.3 474.8h0M976.7 478.3h0M1007.2 474.7h0M1030.2 486.7h0M933.5 486.1h0M896.4 482.5h0M1046.3 484.5h0M1037.5 480.8h0M969.1 480.1h0M943.3 479.4h0M980.0 464.3h0M924.7 467.7h0M902.2 473.7h0M930.0 468.6h0M927.1 480.2h0M1074.2 481.7h0M906.2 465.4h0M1029.5 485.6h0M962.7 482.9h0M987.8 464.7h0M970.9 473.9h0M994.6 466.2h0M897.6 481.4h0M977.7 466.1h0M986.3 474.5h0M891.1 479.3h0M923.2 478.9h0M967.9 487.9h0M987.7 481.5h0M988.3 477.7h0M945.0 473.8h0M976.5 483.5h0M913.5 476.5h0M988.9 466.4h0M865.3 479.8h0M855.6 467.8h0M918.6 484.4h0M980.7 466.0h0M1014.6 466.7h0M926.1 473.2h0M913.0 467.6h0M892.1 480.8h0M1007.1 484.4h0M903.9 487.4h0M980.8 478.6h0M966.0 476.6h0M981.3 487.8h0M981.0 465.3h0M891.6 481.0h0M991.2 485.0h0M938.8 475.3h0M934.9 465.6h0M857.6 470.5h0M967.4 464.3h0M968.5 466.7h0M931.3 477.9h0M895.8 466.9h0M972.5 485.4h0M941.9 472.8h0M896.6 478.5h0M987.6 473.8h0M909.0 480.2h0M982.4 469.7h0M972.2 479.9h0M872.4 479.3h0M915.5 478.7h0M942.9 470.3h0M958.8 479.1h0M924.2 484.5h0M1070.9 473.4h0M910.8 468.1h0M936.4 476.0h0M885.9 479.9h0M889.5 468.5h0M928.2 470.3h0M855.3 464.5h0M1020.8 464.3h0M1001.0 477.7h0M899.4 475.2h0M973.6 483.1h0M980.7 468.5h0M883.6 471.6h0M973.9 484.2h0M991.8 477.4h0M1005.1 481.8h0M936.9 486.6h0M909.0 478.0h0M866.6 481.4h0M940.0 471.2h0M969.3 483.8h0M919.7 481.4h0M935.4 484.0h0M866.2 482.4h0M1055.6 481.1h0M932.0 488.0h0M934.5 480.4h0M874.9 471.3h0M935.9 487.5h0M968.0 482.4h0M933.1 465.9h0M961.8 486.0h0M927.3 485.1h0M1022.3 482.7h0M974.8 476.1h0M885.8 486.5h0M930.5 480.7h0M1030.1 476.7h0M924.3 471.0h0M1039.9 477.9h0M960.3 483.9h0M891.7 485.6h0M970.6 470.6h0M1074.3 473.9h0M922.4 469.0h0M917.9 477.4h0M926.1 479.6h0M913.2 474.6h0M892.8 482.2h0M982.6 474.4h0M968.8 471.0h0M982.9 464.6h0M971.5 474.9h0M921.8 484.2h0M988.4 474.7h0M883.1 471.3h0M991.6 486.0h0M862.5 467.7h0M925.5 473.1h0M932.5 465.5h0M985.6 477.0h0M964.0 472.6h0M849.2 481.3h0M980.7 465.4h0M890.8 473.4h0M859.3 468.6h0M964.4 483.1h0M903.7 482.9h0M899.5 476.4h0M968.6 483.1h0M962.1 483.6h0M989.1 468.3h0M971.8 479.2h0M862.6 485.5h0M908.1 478.5h0M974.5 479.6h0M946.3 481.4h0M957.5 482.0h0M986.5 464.1h0M846.9 473.2h0M977.6 479.3h0M994.2 467.7h0M1021.1 472.7h0M1025.3 470.6h0M933.4 474.0h0M927.4 475.7h0M1044.3 468.3h0M1055.1 471.5h0M990.7 466.2h0M901.5 471.8h0M923.3 480.7h0M1045.0 465.4h0M944.0 480.0h0M966.7 487.2h0M912.8 466.0h0M965.3 479.6h0M959.5 478.3h0M939.2 474.8h0M983.9 478.2h0M890.1 487.2h0M879.6 479.5h0M944.8 470.7h0M924.4 466.2h0M935.1 477.7h0M1011.0 476.3h0M999.1 472.9h0M965.4 476.6h0M922.1 468.9h0M1044.4 469.3h0M976.1 474.0h0M936.4 475.9h0M938.9 485.3h0M946.7 475.4h0M960.5 478.5h0M945.4 485.4h0M936.4 472.8h0M860.0 469.7h0M941.7 487.5h0M933.0 487.7h0M1028.0 476.9h0M960.7 476.7h0M976.6 473.6h0M985.4 467.8h0M1018.0 471.5h0M1022.3 471.9h0M1026.7 468.7h0M956.1 487.9h0M935.4 475.5h0M989.2 485.2h0M902.0 470.9h0M998.2 468.6h0M930.4 488.2h0M970.1 472.4h0M1015.9 487.3h0M940.7 473.3h0M901.5 485.5h0M969.0 484.3h0M1000.2 481.1h0M876.5 465.2h0M931.1 476.0h0M890.3 486.1h0M854.1 468.9h0M897.5 481.1h0M982.6 474.8h0M966.3 479.8h0M1011.5 487.0h0M974.1 483.3h0M938.0 486.9h0M961.3 468.2h0M983.2 480.0h0M844.1 472.9h0M940.8 486.7h0M1055.1 469.3h0M916.4 470.5h0M1027.1 470.5h0M1007.1 464.4h0M1019.5 470.2h0M967.9 465.4h0M899.1 476.1h0M881.4 471.0h0M912.5 476.0h0M980.7 475.9h0M1008.4 473.9h0M876.7 469.7h0M921.7 482.0h0M985.5 473.7h0M939.6 482.2h0M966.1 463.9h0M888.8 469.8h0M1033.2 474.4h0M966.6 482.2h0M960.6 481.5h0M986.5 470.9h0M940.8 466.9h0M980.6 464.9h0M964.0 480.7h0M936.7 481.8h0M1009.7 465.7h0M1039.4 465.9h0M902.9 484.8h0M944.9 468.0h0M940.8 475.3h0M943.5 464.0h0M871.8 470.1h0M921.8 480.0h0M927.2 468.8h0M940.3 486.5h0M977.7 473.7h0M904.8 480.9h0M899.8 470.5h0M901.9 468.0h0M911.3 486.8h0M899.8 486.1h0M1030.2 470.7h0M908.3 465.0h0M962.7 476.0h0M990.4 485.8h0M971.2 473.7h0M925.8 475.2h0M980.8 484.2h0M983.7 483.9h0M932.7 479.5h0M867.6 484.5h0M1014.1 464.5h0M930.6 482.3h0M1054.4 467.9h0M984.1 479.6h0M899.0 485.7h0M883.9 474.0h0M973.3 475.2h0M936.1 473.0h0M1012.8 474.9h0M986.0 469.1h0M904.4 466.9h0M985.7 472.6h0M946.0 480.0h0M934.4 467.4h0M910.4 471.7h0M1050.9 472.8h0M912.5 471.2h0M936.4 477.4h0M1005.0 487.2h0M941.9 480.0h0M1001.2 473.8h0M999.2 474.3h0M897.5 487.6h0M866.2 466.9h0M986.6 475.9h0M983.1 487.1h0M938.3 473.5h0M991.6 481.4h0M935.7 485.4h0M932.6 466.3h0M960.0 486.2h0M915.6 471.9h0M964.5 475.5h0M984.9 486.5h0M973.1 464.0h0M908.5 481.1h0M901.1 471.2h0M970.7 465.0h0M910.9 464.8h0M972.5 481.6h0M959.2 484.0h0M985.4 475.5h0M939.1 474.0h0M942.4 468.7h0M955.4 487.8h0M1052.9 465.1h0M969.9 465.8h0M916.9 484.8h0M922.8 482.5h0M977.9 488.1h0M932.2 476.5h0M985.8 475.7h0M934.0 469.4h0M1046.8 464.1h0M985.2 467.5h0M963.0 487.3h0M985.5 477.1h0M931.6 477.1h0M905.3 468.6h0M978.5 486.3h0M971.7 483.1h0M971.6 468.6h0M908.7 483.8h0M976.6 468.3h0M970.8 481.4h0M981.3 474.4h0M961.5 482.0h0M920.6 473.9h0M919.4 481.9h0M1002.2 485.4h0M887.9 476.1h0M925.5 468.0h0M960.1 480.3h0M972.1 465.7h0M938.2 471.4h0M895.8 476.3h0M861.1 478.2h0M914.6 467.5h0M990.1 472.7h0M908.1 476.3h0M898.2 474.9h0M938.5 464.3h0M910.7 483.5h0M1005.4 473.7h0M943.5 471.8h0M991.9 473.0h0M882.9 469.5h0M892.7 464.0h0M964.0 486.1h0M983.9 470.2h0M940.9 482.3h0M930.1 468.4h0M901.9 469.6h0M979.7 465.7h0M928.9 468.3h0M967.5 464.9h0M924.3 475.7h0M939.1 469.5h0M978.3 467.2h0M974.3 487.6h0M996.6 474.1h0M973.9 479.4h0M1002.3 467.0h0M1000.5 471.8h0M967.9 475.4h0M929.9 469.5h0M941.9 473.6h0M989.6 467.5h0M986.9 467.9h0M988.0 475.7h0M907.3 481.7h0M976.4 482.3h0M994.5 475.6h0M879.5 485.2h0M972.1 480.5h0M972.8 469.7h0M1032.4 465.7h0M913.5 474.9h0M1007.3 464.1h0M936.4 485.5h0M994.5 478.5h0M929.4 482.7h0M1021.0 484.3h0M973.1 471.4h0M894.5 479.1h0M1003.1 478.8h0M922.1 470.3h0M949.7 484.5h0M1045.8 475.2h0M975.9 483.4h0M981.6 478.7h0M1005.8 471.9h0M908.0 464.8h0M1027.9 480.1h0M919.8 476.1h0M975.4 483.6h0M903.9 465.4h0M937.0 482.8h0M925.9 485.0h0M916.1 471.7h0M925.2 476.3h0M987.7 467.6h0M941.4 474.9h0M908.4 487.7h0M881.7 476.0h0M871.7 471.8h0M966.3 478.1h0M984.0 484.9h0M895.0 468.8h0M974.1 473.0h0M929.3 477.0h0M926.9 479.7h0M1022.1 478.0h0M991.1 484.1h0M963.8 472.5h0M969.0 479.5h0M987.2 474.9h0M881.0 476.9h0M975.5 468.6h0M873.6 470.3h0M1006.4 471.5h0M978.8 487.6h0M949.4 484.2h0M938.3 478.3h0M1042.7 466.2h0M893.5 480.1h0M886.6 476.8h0M980.6 485.4h0M895.2 470.5h0M1038.2 472.9h0M922.6 482.8h0M1018.8 474.3h0M1018.9 481.3h0M932.1 474.9h0M988.6 472.3h0M959.0 484.2h0M971.8 464.9h0M1015.6 485.1h0M964.4 473.5h0M930.1 478.0h0M963.1 476.5h0M860.9 483.9h0M916.0 465.7h0M999.0 486.4h0M976.4 469.3h0M976.1 479.2h0M963.7 466.5h0M1074.2 470.2h0M861.0 470.5h0M935.1 472.2h0M912.7 469.6h0M931.2 475.4h0M1001.4 468.0h0M1038.5 469.4h0M879.5 487.2h0M1028.6 481.4h0M991.0 473.7h0M973.1 469.7h0M864.8 483.1h0M924.4 467.8h0M927.8 480.0h0M993.9 488.0h0M973.6 487.1h0M948.4 483.1h0M895.6 470.8h0M967.7 486.6h0M965.4 476.5h0M945.1 488.5h0M948.1 476.9h0M853.8 479.4h0M928.7 477.4h0M970.5 467.4h0M876.8 477.6h0M934.3 484.7h0M860.4 483.6h0M884.8 482.5h0M991.3 472.3h0M938.8 475.5h0M934.7 483.0h0M1009.0 468.5h0M1002.9 472.6h0M977.9 475.3h0M1063.1 464.5h0M968.6 476.8h0M987.6 473.5h0M1006.5 470.5h0M879.9 471.8h0M890.6 477.8h0M879.6 469.2h0M979.5 480.8h0M927.6 466.1h0M976.9 468.8h0M1065.1 482.7h0M926.0 478.3h0M874.4 486.9h0M904.2 465.7h0M975.1 471.8h0M935.1 468.5h0M977.9 465.8h0M984.5 483.6h0M922.2 481.4h0M989.3 480.7h0M985.5 478.2h0M1019.6 467.8h0M983.8 472.3h0M930.3 477.3h0M960.6 471.9h0M927.5 468.9h0M976.6 475.9h0M930.8 473.0h0M1068.7 468.7h0M969.4 465.8h0M963.7 480.3h0M893.9 464.8h0M978.0 485.9h0M907.3 466.0h0M937.9 486.8h0M1032.8 468.7h0M913.2 466.5h0M885.1 471.6h0M927.4 486.7h0M912.9 471.5h0M981.9 486.8h0M996.9 483.6h0M936.9 475.0h0M845.3 466.0h0M933.6 484.4h0M1077.1 465.6h0M892.0 487.3h0M931.4 474.0h0M945.9 475.3h0M1007.1 467.0h0M921.0 468.1h0M1006.9 469.6h0M970.2 467.6h0M946.1 482.8h0M973.2 481.3h0M859.0 468.4h0M929.5 481.8h0M961.2 488.5h0M995.8 470.9h0M929.2 467.3h0M891.8 471.0h0M957.8 486.9h0M942.9 485.7h0M999.5 476.0h0M919.3 467.5h0M925.7 472.0h0M967.5 480.7h0M887.7 464.7h0M926.9 483.8h0M966.2 470.1h0M978.6 478.4h0M1009.6 481.0h0M974.8 486.4h0M1003.6 479.6h0M966.9 485.6h0M924.3 471.2h0M891.7 479.7h0M1044.3 481.3h0M1042.1 474.9h0M996.0 464.2h0M924.3 474.7h0M963.1 470.6h0M963.4 485.5h0M935.1 487.2h0M836.0 468.1h0M1098.8 483.0h0M841.0 468.4h0M838.2 480.5h0M839.5 484.1h0M834.2 474.0h0M836.6 473.2h0M824.1 480.7h0M843.7 470.0h0M1088.6 469.6h0M837.9 476.0h0M1097.3 474.7h0M1097.6 483.9h0M841.6 476.8h0M926.9 453.4h0M932.4 431.8h0M926.7 444.5h0M927.5 461.8h0M936.4 449.6h0M928.7 448.5h0M930.9 455.7h0M926.3 444.7h0M942.9 462.5h0M941.8 448.7h0M937.3 457.2h0M940.6 451.3h0M929.8 459.9h0M934.2 446.8h0M934.8 440.0h0M941.6 463.4h0M926.0 439.2h0M926.4 462.9h0M937.7 446.1h0M927.7 441.6h0M931.3 436.1h0M927.0 451.3h0M943.1 460.6h0M927.8 461.6h0M931.8 436.3h0M938.8 446.6h0M935.3 446.0h0M926.1 459.1h0M930.2 459.8h0M930.8 444.0h0M943.9 462.6h0M935.8 463.6h0M927.8 456.1h0M926.8 449.9h0M933.7 453.3h0M928.5 447.2h0M925.9 461.3h0M926.3 437.3h0M930.1 451.9h0M930.2 448.9h0M931.9 455.8h0M926.9 445.4h0M941.0 451.7h0M926.7 458.4h0M929.3 462.5h0M936.0 461.4h0M928.6 459.7h0M931.7 451.1h0M927.2 435.2h0M939.9 457.0h0M932.3 458.8h0M932.4 461.0h0M928.7 458.5h0M940.0 444.0h0M928.1 427.6h0M936.1 450.7h0M927.2 463.3h0M926.6 461.6h0M926.2 458.4h0M942.6 459.6h0M933.9 463.6h0M928.2 452.0h0M927.8 459.4h0M926.5 463.2h0M934.9 461.9h0M933.1 461.8h0M938.3 443.1h0M940.2 454.5h0M938.5 462.8h0M931.0 459.8h0M929.9 442.5h0M926.7 454.9h0M926.5 462.5h0M928.6 455.0h0M937.4 459.6h0M929.6 458.3h0M927.5 424.9h0M938.2 444.1h0M937.1 449.4h0M936.7 462.6h0M941.9 461.6h0M931.7 452.3h0M938.5 454.5h0M927.8 463.4h0M933.8 461.2h0M934.4 461.3h0M930.9 463.1h0M932.2 452.8h0M934.2 455.6h0M933.5 463.1h0M929.2 435.1h0M941.9 457.9h0M929.2 444.8h0M928.4 428.8h0M932.9 449.4h0M925.9 447.9h0M926.4 462.0h0M926.5 456.7h0M928.6 460.8h0M931.5 455.5h0M932.9 461.5h0M928.3 461.9h0M929.5 461.7h0M940.6 458.0h0M933.1 458.6h0M927.9 451.6h0M937.7 442.4h0M928.2 430.1h0M934.7 458.0h0M935.5 441.8h0M931.4 462.8h0M935.5 461.2h0M929.4 462.8h0M933.3 443.3h0M931.1 445.6h0M936.2 457.7h0M935.0 444.3h0M934.9 462.4h0M933.1 453.1h0M931.4 438.7h0M930.0 443.4h0M928.7 447.4h0M926.1 459.9h0M939.5 452.4h0M925.9 463.3h0M941.8 455.5h0M938.1 463.1h0M928.3 463.8h0M939.7 449.2h0M929.3 457.9h0M931.2 456.7h0M938.1 462.9h0M939.6 451.7h0M926.9 449.7h0M928.7 456.4h0M930.0 437.7h0M929.6 441.7h0M932.5 459.8h0M927.9 438.5h0M943.4 463.1h0M979.7 437.9h0M967.9 463.3h0M978.3 446.6h0M980.3 462.1h0M964.4 460.8h0M971.0 443.9h0M979.3 450.4h0M977.1 462.7h0M973.9 453.9h0M970.6 457.7h0M977.2 441.3h0M966.3 457.2h0M975.2 449.4h0M979.4 433.5h0M962.7 461.9h0M971.4 456.1h0M975.5 441.3h0M976.7 447.8h0M970.2 456.9h0M979.0 451.8h0M978.7 462.4h0M976.5 463.1h0M976.5 442.1h0M974.9 463.6h0M972.1 459.2h0M979.2 456.8h0M974.2 448.0h0M978.0 452.8h0M979.4 442.2h0M977.3 423.3h0M972.5 463.3h0M978.0 437.9h0M972.7 439.8h0M976.8 459.1h0M977.6 425.6h0M966.2 448.5h0M970.9 437.9h0M976.9 435.7h0M968.2 453.1h0M970.5 462.7h0M970.2 459.1h0M971.6 458.9h0M972.2 444.6h0M978.7 457.8h0M976.3 447.6h0M976.3 456.4h0M971.6 454.7h0M975.9 422.6h0M978.9 422.9h0M975.3 446.0h0M978.5 455.7h0M980.4 458.3h0M978.5 423.0h0M969.9 459.0h0M979.9 411.2h0M963.8 461.9h0M971.4 451.5h0M973.0 457.8h0M973.4 454.1h0M973.1 453.5h0M975.8 461.1h0M973.6 461.9h0M974.0 451.5h0M973.4 458.8h0M976.3 426.5h0M967.4 462.1h0M972.7 427.0h0M975.8 440.0h0M979.3 458.7h0M979.0 462.5h0M978.0 437.7h0M976.2 440.5h0M977.6 459.1h0M968.4 458.0h0M977.2 458.4h0M978.5 440.9h0M976.6 459.3h0M964.5 457.3h0M966.7 443.2h0M980.4 456.3h0M963.6 462.4h0M978.2 462.3h0M976.1 419.9h0M973.1 448.6h0M976.9 426.5h0M978.3 452.7h0M977.6 463.1h0M965.5 458.0h0M969.2 452.0h0M978.6 451.9h0M980.1 421.1h0M970.9 458.8h0M976.9 442.3h0M968.5 462.1h0M970.2 434.8h0M980.2 458.4h0M977.6 460.7h0M971.1 438.2h0M979.4 453.0h0M978.5 440.7h0M970.3 452.2h0M977.6 415.2h0M974.2 446.6h0M976.6 463.3h0M974.3 463.6h0M966.8 455.8h0M970.0 454.2h0M972.8 443.9h0M972.6 461.3h0M977.6 457.0h0M979.9 435.2h0M963.0 456.7h0M976.4 460.6h0M975.5 435.0h0M973.1 461.0h0M977.7 461.2h0M973.1 446.4h0M973.0 454.0h0M978.2 456.5h0M971.7 452.6h0M975.3 455.3h0M976.9 432.2h0M964.7 449.9h0M980.1 445.9h0M980.3 453.8h0M977.2 455.7h0M972.9 439.8h0M977.6 432.7h0M964.7 452.6h0M964.8 458.7h0M978.1 439.8h0M979.2 462.6h0M970.3 435.8h0M971.1 459.6h0M976.4 463.6h0M975.6 425.4h0M976.3 450.4h0M980.1 422.4h0M978.1 461.5h0M979.9 450.0h0M978.0 454.7h0M980.4 462.8h0M965.4 452.2h0M974.3 461.4h0M978.7 437.3h0M979.1 435.2h0M967.0 461.9h0M970.6 451.5h0M980.3 446.3h0M978.6 459.9h0M968.6 458.5h0M978.2 454.8h0M972.4 459.3h0M978.0 462.5h0M963.8 460.8h0M979.0 437.4h0M970.4 447.5h0M970.8 448.1h0M975.6 445.1h0M978.6 444.3h0M965.9 463.5h0M969.1 449.6h0M977.2 444.0h0M965.2 459.0h0M975.5 442.6h0M973.2 439.3h0M978.3 461.2h0M975.5 457.4h0M980.2 453.7h0M966.5 447.2h0M977.4 459.6h0M978.6 426.9h0M976.5 449.2h0M980.4 463.5h0M978.5 450.3h0M978.6 458.9h0M972.0 463.1h0M969.9 455.5h0M967.7 457.9h0M975.5 450.0h0M968.8 453.8h0M979.8 416.2h0M977.6 428.0h0M971.7 442.2h0M975.7 442.9h0M975.9 461.4h0M969.0 456.9h0M974.9 451.1h0M980.3 444.9h0M966.1 447.8h0M975.5 452.6h0M978.6 461.4h0M976.6 453.4h0M973.1 439.4h0M967.7 462.2h0M972.8 458.8h0M973.3 443.8h0M972.3 460.5h0M975.8 459.8h0M980.2 436.5h0M926.7 357.8h0M741.5 480.3h0M748.8 468.0h0M754.6 474.8h0M773.9 468.9h0M772.8 476.1h0M781.5 466.5h0M787.2 467.6h0M782.2 480.0h0M778.7 483.1h0M776.1 487.0h0M797.5 465.2h0M804.0 468.5h0M801.2 473.5h0M797.5 474.8h0M804.4 477.9h0M807.1 480.9h0M812.1 465.6h0M813.6 473.5h0M817.1 472.6h0M818.0 463.7h0M823.0 468.5h0M822.4 476.1h0M825.2 479.4h0M829.6 476.1h0M822.4 484.2h0M833.9 482.7h0M928.3 401.8h0M927.2 412.3h0M932.2 421.9h0M938.3 423.7h0M942.7 430.2h0M977.1 392.5h0M973.6 406.6h0M1090.4 466.7h0M1103.1 464.7h0M1109.0 463.9h0M1114.4 468.2h0M1100.9 470.0h0M1096.5 471.3h0M1100.9 475.0h0M1133.0 468.5h0M1131.9 475.5h0M1133.7 481.6h0M1139.1 485.3h0M1143.1 487.0h0M1157.2 470.0h0M1159.4 480.7h0M1110.7 482.7h0M1106.4 484.4h0M1096.5 482.2h0M1093.3 480.5h0M1088.9 485.3h0M1092.2 487.7h0M1079.1 484.8h0M1085.6 473.9h0" stroke="#a6a6a6" stroke-width="6.3" stroke-linecap="round" fill="none"/>
<path d="M906.8 456.8h0M909.8 448.3h0M906.6 458.7h0M911.7 420.0h0M908.8 438.9h0M880.4 459.8h0M918.0 462.1h0M908.4 424.3h0M914.5 461.8h0M871.4 455.7h0M900.5 457.9h0M902.0 427.4h0M885.1 452.0h0M888.5 436.5h0M907.8 442.5h0M866.2 450.2h0M917.3 438.4h0M923.3 446.1h0M883.3 455.3h0M897.9 437.6h0M886.8 458.2h0M907.4 452.3h0M890.7 453.9h0M888.7 449.0h0M915.9 443.3h0M923.1 451.4h0M903.6 459.0h0M921.2 435.2h0M895.6 459.1h0M891.2 448.8h0M877.8 462.6h0M895.5 460.1h0M902.6 456.7h0M921.9 442.4h0M896.0 440.3h0M871.1 448.8h0M910.5 450.7h0M918.6 450.3h0M891.3 458.8h0M880.6 462.3h0M895.1 457.1h0M896.2 444.3h0M888.2 457.0h0M915.6 456.1h0M873.0 456.1h0M897.3 458.5h0M923.1 457.1h0M894.3 457.7h0M916.9 461.0h0M921.6 447.8h0M918.3 458.0h0M921.2 462.5h0M902.5 454.2h0M916.9 463.1h0M884.4 456.5h0M890.1 455.1h0M890.3 449.6h0M894.3 441.7h0M887.9 443.1h0M917.4 461.0h0M923.1 457.4h0M912.7 431.3h0M916.0 450.1h0M919.3 462.2h0M889.2 457.8h0M914.1 457.5h0M916.3 439.3h0M898.2 456.0h0M888.4 444.6h0M914.5 424.1h0M921.7 461.4h0M911.8 438.2h0M902.7 456.6h0M908.6 446.7h0M871.2 461.5h0M913.2 461.5h0M916.1 449.3h0M911.4 440.5h0M915.3 443.3h0M918.4 457.6h0M915.2 454.4h0M918.2 451.8h0M910.6 428.3h0M908.6 451.2h0M908.6 443.0h0M914.1 450.1h0M921.1 454.3h0M887.8 462.1h0M895.1 461.6h0M919.8 450.4h0M900.7 458.5h0M914.1 422.7h0M909.5 457.2h0M919.2 437.0h0M907.3 447.3h0M906.0 458.8h0M916.6 458.5h0M915.7 462.7h0M916.7 446.9h0M911.4 426.6h0M919.7 418.0h0M889.9 438.5h0M881.0 451.7h0M888.1 459.5h0M920.6 437.1h0M918.5 462.1h0M909.0 455.9h0M903.5 461.7h0M896.5 460.4h0M920.7 444.8h0M902.9 434.0h0M907.8 452.4h0M922.2 458.3h0M889.4 462.6h0M903.3 459.2h0M920.2 449.9h0M901.6 458.6h0M903.8 457.8h0M912.4 445.2h0M906.5 451.5h0M876.5 447.1h0M913.1 418.8h0M922.8 457.7h0M915.9 458.1h0M886.2 440.2h0M913.7 437.8h0M920.6 448.4h0M897.0 462.3h0M908.1 454.1h0M907.3 446.6h0M918.9 462.2h0M874.2 454.5h0M881.6 457.5h0M914.5 446.0h0M887.2 459.8h0M923.3 456.5h0M923.2 445.9h0M912.8 460.8h0M909.4 439.6h0M890.2 450.0h0M901.7 434.9h0M916.5 456.2h0M922.4 422.0h0M912.5 447.3h0M908.2 434.3h0M918.9 457.6h0M871.1 459.4h0M912.9 445.7h0M923.4 456.5h0M903.7 461.7h0M921.1 431.6h0M888.2 453.7h0M869.8 444.0h0M904.3 440.2h0M904.4 428.3h0M906.6 435.9h0M904.0 428.4h0M922.5 446.3h0M881.6 446.0h0M896.5 445.5h0M917.8 457.7h0M877.6 446.9h0M887.7 449.1h0M918.8 425.0h0M906.1 444.3h0M911.0 441.5h0M911.3 460.4h0M872.1 454.8h0M918.1 438.4h0M920.9 426.4h0M916.4 449.8h0M912.7 419.5h0M894.2 447.3h0M891.8 462.3h0M879.2 457.3h0M909.9 452.9h0M911.0 453.9h0M900.4 462.5h0M920.7 439.7h0M908.4 453.1h0M907.9 460.5h0M899.9 461.5h0M905.0 424.4h0M920.7 423.0h0M910.7 454.8h0M914.9 453.8h0M905.4 452.5h0M892.3 456.5h0M920.8 462.0h0M916.0 445.6h0M911.1 459.0h0M922.7 452.6h0M905.8 462.6h0M912.4 442.0h0M908.4 453.3h0M915.7 433.7h0M921.8 434.8h0M909.4 421.0h0M910.4 452.2h0M905.9 452.6h0M910.2 454.6h0M866.2 454.8h0M919.8 461.8h0M923.0 453.4h0M884.4 462.1h0M851.9 457.6h0M880.9 459.4h0M871.2 454.1h0M879.2 457.8h0M833.4 448.4h0M863.1 459.7h0M882.0 456.8h0M855.1 439.7h0M847.8 461.7h0M877.7 448.5h0M881.0 461.2h0M848.3 460.4h0M835.0 461.3h0M874.5 459.3h0M831.8 451.1h0M849.1 462.7h0M838.6 457.7h0M848.3 463.0h0M877.4 453.5h0M846.6 455.9h0M835.4 453.7h0M874.7 455.0h0M904.9 249.1h0M830.1 323.7h0M845.8 333.8h0M888.7 329.0h0M890.0 330.0h0M904.4 344.9h0M887.0 351.7h0M754.0 355.5h0M793.5 375.7h0M744.9 385.6h0M913.3 378.3h0M916.5 377.7h0M906.4 382.8h0M901.1 392.2h0M745.0 385.9h0M765.4 425.4h0M764.0 430.7h0M759.7 436.8h0M739.4 445.3h0M738.0 460.6h0M793.1 415.4h0M799.4 419.1h0M804.2 430.9h0M799.6 435.3h0M789.4 439.4h0M786.5 445.1h0M794.2 448.4h0M785.7 456.4h0M775.6 461.9h0M799.2 458.6h0M809.3 448.6h0M813.2 458.6h0M821.0 414.5h0M834.8 436.8h0M842.7 414.1h0M850.3 397.9h0M852.1 401.4h0M857.1 407.1h0M861.9 418.2h0M877.4 395.7h0M901.2 392.5h0M906.5 383.1h0M895.1 409.5h0M905.8 409.1h0M893.3 417.4h0M910.6 418.0h0M877.6 427.2h0M878.3 430.7h0M891.4 433.5h0M858.6 435.5h0M865.0 434.2h0M868.9 434.2h0M849.7 438.5h0M850.3 444.0h0M856.9 444.4h0M861.9 445.1h0M866.9 442.3h0M851.4 448.8h0M864.5 452.1h0M861.2 457.5h0M828.3 449.2h0M826.7 452.1h0M828.9 456.9h0M824.1 459.1h0M820.8 460.2h0M830.7 459.7h0M842.2 461.3h0M847.0 461.3h0M856.9 460.8h0M871.1 460.8h0M917.6 412.8h0M921.3 412.8h0" stroke="#6abd45" stroke-width="6.3" stroke-linecap="round" fill="none"/>
<path d="M984.0 439.5h0M1009.4 447.5h0M997.6 459.9h0M985.2 451.6h0M997.4 455.4h0M1003.2 452.9h0M983.7 450.3h0M986.0 451.6h0M985.7 450.3h0M1011.4 436.3h0M1016.1 450.1h0M1007.8 447.9h0M992.0 460.6h0M1002.5 458.2h0M989.5 455.1h0M986.8 458.3h0M987.1 454.5h0M999.1 442.5h0M1004.4 446.0h0M1004.5 436.2h0M991.7 442.2h0M994.8 447.7h0M1014.6 459.3h0M1016.4 444.7h0M999.8 437.7h0M995.7 460.4h0M997.4 458.2h0M983.5 459.1h0M995.5 459.1h0M996.8 419.6h0M986.2 419.5h0M1006.5 452.6h0M1000.8 456.1h0M995.1 455.6h0M983.9 457.6h0M1000.8 459.6h0M1025.8 436.2h0M984.9 434.7h0M1022.7 462.9h0M985.7 424.2h0M989.4 449.4h0M987.1 447.5h0M991.8 452.9h0M1005.6 436.6h0M983.7 427.0h0M1009.5 461.3h0M984.7 453.9h0M1018.7 452.7h0M1019.7 459.1h0M1021.5 453.8h0M999.9 450.4h0M1011.0 459.6h0M997.7 443.3h0M1023.1 459.4h0M1001.2 443.3h0M989.7 430.3h0M1006.5 460.2h0M990.2 436.9h0M987.5 441.8h0M993.2 443.5h0M987.0 451.5h0M995.1 462.1h0M993.2 460.0h0M1007.4 460.8h0M983.4 461.8h0M1010.4 441.5h0M995.3 462.6h0M1005.6 461.5h0M1006.9 446.3h0M1013.8 449.2h0M983.8 452.9h0M985.2 441.5h0M1005.6 425.3h0M995.3 443.9h0M1003.7 463.2h0M1012.5 446.2h0M990.8 461.8h0M983.2 455.7h0M1001.4 428.3h0M991.0 443.1h0M984.0 457.0h0M988.7 456.7h0M1007.0 440.5h0M985.0 462.0h0M990.5 450.4h0M998.0 453.4h0M993.8 460.1h0M993.5 435.8h0M984.3 462.9h0M984.7 432.4h0M993.9 415.2h0M985.4 451.5h0M993.3 462.0h0M990.7 434.3h0M992.3 454.9h0M995.7 455.3h0M993.0 442.3h0M984.4 462.9h0M1002.9 462.7h0M997.0 450.8h0M1004.0 462.6h0M1014.1 447.5h0M986.2 457.4h0M1024.4 438.0h0M1013.1 460.4h0M992.1 438.9h0M1000.3 451.8h0M993.4 441.7h0M996.1 421.1h0M983.3 449.3h0M994.6 453.3h0M1003.7 434.2h0M1005.8 449.6h0M1012.5 444.2h0M983.2 460.8h0M1027.8 461.5h0M994.1 456.7h0M1007.7 429.8h0M1029.0 452.4h0M993.0 436.5h0M1029.9 450.3h0M1011.7 449.1h0M991.3 448.9h0M1003.9 430.0h0M1031.0 456.7h0M997.5 456.9h0M1017.0 461.4h0M1009.0 431.5h0M984.0 427.0h0M991.4 455.4h0M1000.0 435.4h0M1021.9 440.6h0M987.1 459.5h0M1018.1 434.3h0M999.8 461.1h0M1006.9 443.3h0M1004.6 428.3h0M983.0 444.4h0M996.5 462.2h0M988.3 435.9h0M1018.0 435.9h0M994.1 460.3h0M1009.2 438.7h0M1027.2 442.8h0M998.6 438.9h0M1014.6 459.0h0M996.8 421.9h0M996.1 461.4h0M988.8 461.4h0M1009.3 461.1h0M986.9 428.2h0M995.3 453.9h0M985.9 458.3h0M987.7 456.0h0M990.9 438.1h0M1017.7 438.0h0M985.5 459.1h0M1012.6 458.5h0M1002.2 439.0h0M997.9 460.8h0M985.9 447.6h0M983.2 457.2h0M990.8 449.1h0M1003.0 454.2h0M1003.1 434.4h0M989.7 446.4h0M983.3 453.5h0M989.3 443.9h0M983.2 417.7h0M989.9 433.9h0M1016.4 445.0h0M1003.7 433.2h0M1000.9 452.3h0M1017.3 447.0h0M1000.1 436.5h0M996.0 461.2h0M1005.8 446.8h0M983.6 463.2h0M1034.4 459.1h0M994.9 455.7h0M1018.1 451.6h0M1004.4 458.9h0M1016.3 455.0h0M1006.8 449.9h0M1015.0 459.7h0M984.5 452.7h0M997.3 452.8h0M996.8 431.3h0M1018.9 448.6h0M1004.0 448.5h0M1023.3 461.4h0M1017.3 452.4h0M996.2 430.4h0M1030.5 442.5h0M983.1 452.8h0M1021.5 445.0h0M1007.5 462.8h0M991.0 454.1h0M1001.8 449.7h0M998.1 437.5h0M985.9 442.9h0M1007.3 459.7h0M1030.4 440.0h0M999.5 451.5h0M986.4 458.5h0M987.8 453.8h0M986.1 455.9h0M1006.7 447.7h0M997.4 452.9h0M1001.2 453.9h0M991.3 446.3h0M1009.9 457.9h0M1010.3 447.5h0M1006.6 452.3h0M1007.6 447.6h0M988.0 449.1h0M1027.6 462.1h0M1005.7 449.7h0M1034.3 446.0h0M1007.5 438.3h0M1027.9 456.6h0M994.2 460.6h0M991.2 445.6h0M1025.9 435.3h0M985.3 454.0h0M996.8 440.9h0M985.0 461.6h0M1006.7 458.6h0M1001.8 454.0h0M1013.4 407.8h0M1001.5 425.1h0M1006.3 414.8h0M990.7 413.1h0M1001.7 400.0h0M1007.8 426.3h0M1000.0 401.7h0M986.7 428.8h0M1031.7 428.7h0M1026.9 411.4h0M997.6 404.0h0M987.6 434.3h0M1007.3 409.5h0M1028.2 439.4h0M1016.4 438.3h0M1010.0 437.4h0M1013.5 419.6h0M1027.1 426.3h0M997.0 419.4h0M1016.9 430.6h0M1027.3 425.5h0M1027.0 408.7h0M1026.6 420.3h0M1023.5 424.4h0M1027.3 435.2h0M987.2 432.8h0M1008.4 439.5h0M998.1 435.0h0M1019.4 424.7h0M987.7 423.2h0M990.4 400.6h0M1011.7 438.0h0M1009.4 434.3h0M983.1 426.7h0M990.5 419.2h0M1014.0 414.6h0M999.7 434.2h0M1029.6 436.9h0M1022.7 405.0h0M1022.1 406.3h0M1030.3 406.2h0M1016.1 431.1h0M1026.4 436.7h0M995.8 426.8h0M1010.8 415.9h0M1003.8 407.0h0M1004.8 408.3h0M1024.7 437.0h0M996.3 432.3h0M1021.6 430.1h0M1021.6 410.8h0M1021.3 404.6h0M1017.2 436.9h0M992.7 430.6h0M993.7 428.9h0M1018.8 432.8h0M1004.8 426.0h0M1040.5 459.7h0M1069.8 460.9h0M1046.6 443.6h0M1023.1 462.2h0M1043.6 460.6h0M1020.4 461.5h0M1075.8 455.0h0M1049.3 442.6h0M1063.4 457.2h0M1039.3 450.6h0M1037.1 445.0h0M1069.9 458.4h0M1025.2 462.5h0M1070.6 457.0h0M1040.8 459.5h0M1062.4 461.8h0M1041.1 463.2h0M1037.2 461.9h0M1020.8 455.4h0M1025.0 459.3h0M1033.5 453.4h0M1063.2 461.1h0M1053.2 462.3h0M1055.4 460.2h0M1061.2 461.7h0M1072.7 461.9h0M1037.5 448.4h0M1063.2 462.7h0M1028.9 449.8h0M1059.1 458.6h0M1019.9 445.1h0M1040.1 455.1h0M1051.6 459.0h0M1033.1 444.0h0M1039.4 446.9h0M1063.6 458.7h0M1023.1 455.1h0M1066.9 458.8h0M1069.4 461.9h0M1041.4 461.7h0M1021.6 462.9h0M1025.3 461.3h0M1053.2 447.5h0M1021.0 451.5h0M1068.4 462.1h0M1025.6 459.8h0M1047.3 462.3h0M1060.0 462.7h0M1055.0 457.7h0M1021.9 461.7h0M1036.9 458.4h0M1044.1 444.0h0M1030.8 435.0h0M1070.5 461.1h0M1052.1 446.8h0M1034.1 457.4h0M1074.9 455.4h0M1061.5 463.0h0M1035.6 439.2h0M1058.9 458.0h0M1025.9 459.4h0M1073.3 463.0h0M1070.7 453.5h0M1032.4 453.0h0M1051.0 462.5h0M1018.7 461.8h0M1020.0 458.1h0M1040.4 460.5h0M1075.0 458.7h0M1033.6 455.7h0M1074.4 450.9h0M1057.0 461.7h0M1051.3 461.1h0M1060.3 453.7h0M1058.7 459.0h0M1023.1 149.6h0M1044.5 218.6h0M1130.0 266.0h0M1018.0 273.4h0M1037.2 272.1h0M986.4 299.6h0M984.9 303.4h0M1035.7 311.3h0M1027.9 320.1h0M987.9 324.7h0M1008.7 324.7h0M1088.3 328.2h0M1091.8 328.2h0M1082.7 331.7h0M1112.0 330.2h0M1135.5 338.8h0M983.9 338.8h0M1026.6 338.8h0M1032.7 338.8h0M1006.9 353.7h0M1040.8 354.5h0M991.7 358.3h0M1030.9 366.1h0M980.9 378.5h0M999.3 377.0h0M1012.2 378.3h0M1029.6 377.0h0M1023.8 380.3h0M1025.8 382.8h0M1031.9 385.8h0M1046.8 384.3h0M994.3 385.6h0M988.7 387.4h0M1011.7 389.1h0M1007.9 391.1h0M1093.7 396.6h0M1134.1 406.0h0M1148.9 404.0h0M1136.1 421.5h0M1140.0 436.1h0M1157.2 442.7h0M1158.8 443.3h0M1170.1 455.8h0M1149.4 463.7h0M1067.3 421.1h0M1108.5 432.4h0M1114.0 437.2h0M1116.0 441.8h0M1117.3 445.5h0M1118.6 448.8h0M1102.4 451.6h0M1107.4 453.2h0M1079.1 431.3h0M1074.0 435.3h0M1079.1 439.0h0M1075.8 447.7h0M1089.5 449.7h0M1086.9 455.4h0M1047.4 383.9h0M1032.1 386.1h0M1024.9 382.2h0M1044.1 413.2h0M1039.7 419.3h0M1053.5 431.8h0M1044.1 429.1h0" stroke="#ed1c24" stroke-width="6.3" stroke-linecap="round" fill="none"/>
<line x1="925.9" y1="96.5" x2="925.9" y2="512.2" stroke="#000" stroke-opacity="0.68" stroke-width="1.15" stroke-dasharray="6.3 6.2"/>
<line x1="980.5" y1="96.5" x2="980.5" y2="512.2" stroke="#000" stroke-opacity="0.68" stroke-width="1.15" stroke-dasharray="6.3 6.2"/>
<line x1="732.6" y1="463.8" x2="1177.3" y2="463.8" stroke="#000" stroke-opacity="0.68" stroke-width="1.15" stroke-dasharray="6.3 6.2"/>
</g>
<rect x="728.6" y="92.5" width="448.7" height="419.7" fill="none" stroke="#231f20" stroke-width="1.6"/>
<line x1="719.3" y1="490.4" x2="728.6" y2="490.4" stroke="#231f20" stroke-width="1.5"/>
<text x="702.2" y="499.8" text-anchor="middle" font-size="31.0" class="s">0</text>
<line x1="719.3" y1="392.4" x2="728.6" y2="392.4" stroke="#231f20" stroke-width="1.5"/>
<text x="702.2" y="401.8" text-anchor="middle" font-size="31.0" class="s">5</text>
<line x1="719.3" y1="294.4" x2="728.6" y2="294.4" stroke="#231f20" stroke-width="1.5"/>
<text x="702.2" y="303.8" text-anchor="middle" font-size="31.0" class="s">10</text>
<line x1="719.3" y1="196.4" x2="728.6" y2="196.4" stroke="#231f20" stroke-width="1.5"/>
<text x="702.2" y="205.8" text-anchor="middle" font-size="31.0" class="s">15</text>
<line x1="719.3" y1="98.4" x2="728.6" y2="98.4" stroke="#231f20" stroke-width="1.5"/>
<text x="702.2" y="107.8" text-anchor="middle" font-size="31.0" class="s">20</text>
<line x1="816.7" y1="512.2" x2="816.7" y2="521.0" stroke="#231f20" stroke-width="1.5"/>
<text x="818.7" y="548.8" text-anchor="middle" font-size="31.0" class="s">-5</text>
<line x1="953.2" y1="512.2" x2="953.2" y2="521.0" stroke="#231f20" stroke-width="1.5"/>
<text x="953.2" y="548.8" text-anchor="middle" font-size="31.0" class="s">0</text>
<line x1="1089.7" y1="512.2" x2="1089.7" y2="521.0" stroke="#231f20" stroke-width="1.5"/>
<text x="1089.7" y="548.8" text-anchor="middle" font-size="31.0" class="s">5</text>
<text x="952.5" y="47.7" text-anchor="middle" font-size="35.8" class="sb">CK vs T2</text>
<text x="744.4" y="131.7" font-size="26" class="sb" style="fill:#1fa84c">Down: 299</text>
<text x="744.6" y="172.9" font-size="26" class="sb" style="fill:#ec1c24">Up: 426</text>
<text x="834.7" y="597.4" font-size="29.80" class="sb">log<tspan font-size="18" dy="10">2</tspan><tspan dy="-10">(Fold Change)</tspan></text>
<text transform="translate(658.0 311.0) rotate(-90)" text-anchor="middle" font-size="29.9" class="sb">-log<tspan font-size="17.5" dy="9">10</tspan><tspan dy="-9">(padj)</tspan></text>
<text x="608.7" y="24" font-size="30.2" class="ab">B</text>
</g>
<g>
<clipPath id="cpC"><rect x="1344.6" y="92.5" width="447.2" height="418.5"/></clipPath>
<g clip-path="url(#cpC)">
<path d="M1588.5 473.9h0M1597.8 481.7h0M1492.1 479.1h0M1658.9 475.2h0M1516.4 486.8h0M1618.8 479.5h0M1581.9 468.8h0M1596.2 477.3h0M1545.5 486.2h0M1505.4 480.6h0M1615.7 478.0h0M1499.7 481.8h0M1664.0 468.0h0M1608.9 467.9h0M1560.3 480.7h0M1536.0 470.3h0M1653.2 467.0h0M1558.5 475.2h0M1538.4 469.0h0M1518.2 463.6h0M1554.3 472.2h0M1592.1 470.4h0M1520.8 486.1h0M1612.0 484.7h0M1644.3 476.3h0M1542.3 478.0h0M1535.7 469.4h0M1578.7 466.8h0M1517.4 476.5h0M1634.4 463.1h0M1621.7 477.4h0M1582.0 466.8h0M1545.2 477.0h0M1578.5 474.7h0M1559.8 486.2h0M1595.8 477.6h0M1472.1 481.8h0M1616.8 472.9h0M1502.8 478.5h0M1596.5 475.7h0M1535.0 471.0h0M1548.7 466.0h0M1543.1 474.3h0M1550.1 474.3h0M1651.5 478.6h0M1533.2 487.5h0M1543.0 467.2h0M1613.3 484.5h0M1614.5 479.0h0M1544.8 472.0h0M1543.4 480.5h0M1609.2 464.1h0M1548.4 486.4h0M1637.4 471.8h0M1561.2 479.9h0M1579.9 471.3h0M1535.7 479.7h0M1605.2 473.2h0M1519.3 465.3h0M1516.4 487.0h0M1619.0 471.8h0M1642.1 466.3h0M1545.1 471.2h0M1558.5 471.7h0M1545.4 474.9h0M1607.4 480.0h0M1542.8 483.1h0M1587.0 480.6h0M1614.0 481.4h0M1496.7 479.9h0M1554.0 483.2h0M1603.7 485.0h0M1472.0 475.5h0M1531.7 467.3h0M1542.4 467.3h0M1599.6 469.4h0M1582.5 469.9h0M1559.5 479.2h0M1533.9 466.8h0M1643.7 465.3h0M1579.7 469.3h0M1522.9 463.6h0M1631.0 486.8h0M1582.5 472.2h0M1523.1 479.7h0M1498.0 477.7h0M1524.6 467.9h0M1536.3 470.1h0M1645.5 480.4h0M1624.7 487.2h0M1553.4 475.6h0M1584.9 466.6h0M1515.4 469.8h0M1540.9 466.4h0M1585.3 475.6h0M1551.2 486.5h0M1550.4 466.1h0M1515.5 466.9h0M1583.8 467.4h0M1531.0 469.8h0M1656.8 474.4h0M1612.6 470.5h0M1573.2 483.3h0M1578.4 475.2h0M1617.1 479.6h0M1624.9 464.8h0M1508.0 478.1h0M1614.0 466.1h0M1590.0 479.9h0M1591.8 480.1h0M1525.1 483.6h0M1495.1 471.7h0M1586.0 479.2h0M1572.5 486.1h0M1594.6 474.8h0M1638.6 474.7h0M1594.8 474.0h0M1466.6 482.7h0M1657.3 480.3h0M1628.6 464.5h0M1540.3 487.8h0M1632.9 484.6h0M1549.0 477.3h0M1629.4 481.3h0M1626.7 481.0h0M1691.5 481.5h0M1486.5 468.0h0M1579.5 473.7h0M1609.6 476.8h0M1487.4 481.2h0M1587.8 486.7h0M1622.0 483.0h0M1586.9 467.7h0M1630.2 474.9h0M1560.8 476.7h0M1535.4 466.8h0M1539.1 463.7h0M1607.2 473.2h0M1594.2 482.5h0M1550.7 468.8h0M1540.3 473.9h0M1538.4 485.6h0M1538.1 485.3h0M1547.2 472.9h0M1549.8 483.4h0M1494.0 468.3h0M1608.7 470.6h0M1609.7 473.6h0M1491.1 470.9h0M1612.8 474.5h0M1611.2 480.1h0M1611.5 479.4h0M1592.5 466.8h0M1551.8 487.1h0M1615.5 466.1h0M1555.9 470.0h0M1623.9 482.3h0M1587.9 477.1h0M1530.8 486.4h0M1596.2 477.3h0M1578.8 487.4h0M1627.8 483.8h0M1462.2 483.5h0M1587.5 473.7h0M1529.8 486.2h0M1591.5 471.3h0M1592.3 485.8h0M1620.6 476.3h0M1575.6 479.4h0M1519.7 464.2h0M1546.3 468.4h0M1625.7 465.5h0M1551.5 484.8h0M1627.3 473.7h0M1606.3 476.6h0M1554.1 472.7h0M1609.9 466.8h0M1539.5 484.0h0M1626.3 484.2h0M1515.5 485.0h0M1575.0 486.7h0M1468.4 480.0h0M1563.2 483.5h0M1528.7 470.5h0M1491.2 465.8h0M1584.7 474.6h0M1486.3 477.8h0M1564.8 482.1h0M1596.1 475.1h0M1487.6 482.5h0M1564.5 481.4h0M1536.2 467.4h0M1552.2 479.3h0M1525.7 475.7h0M1612.2 479.6h0M1528.2 476.9h0M1553.7 463.8h0M1561.9 478.8h0M1507.4 471.1h0M1530.5 476.4h0M1584.2 485.4h0M1533.0 471.9h0M1632.6 479.0h0M1578.9 479.8h0M1596.5 465.5h0M1526.5 486.1h0M1625.1 486.0h0M1581.6 467.1h0M1629.1 484.8h0M1514.4 468.4h0M1537.9 473.2h0M1460.4 477.7h0M1555.1 476.2h0M1590.8 482.7h0M1611.3 486.4h0M1548.8 484.7h0M1581.0 475.4h0M1595.1 467.1h0M1573.6 483.6h0M1534.0 470.0h0M1664.1 477.7h0M1575.2 477.2h0M1605.0 474.2h0M1547.8 463.3h0M1514.3 483.3h0M1526.7 471.8h0M1562.9 479.5h0M1679.9 470.2h0M1588.0 468.0h0M1635.2 472.0h0M1534.6 481.3h0M1649.9 468.2h0M1626.1 486.1h0M1561.7 479.4h0M1493.4 466.6h0M1580.0 473.8h0M1541.4 483.7h0M1534.2 476.3h0M1504.7 463.2h0M1622.3 467.0h0M1619.0 471.6h0M1620.1 473.4h0M1521.9 477.1h0M1554.5 482.7h0M1590.9 474.8h0M1578.1 482.4h0M1537.5 473.4h0M1557.1 471.3h0M1550.1 467.5h0M1519.1 482.7h0M1536.2 482.6h0M1481.7 477.0h0M1510.4 465.1h0M1635.5 480.5h0M1600.6 476.3h0M1527.5 479.5h0M1589.4 478.0h0M1559.3 476.9h0M1527.4 483.0h0M1593.3 480.7h0M1631.3 464.1h0M1645.4 476.9h0M1462.6 473.1h0M1525.4 479.9h0M1532.1 465.3h0M1617.6 463.3h0M1616.4 477.6h0M1527.5 468.7h0M1499.9 474.2h0M1535.6 485.7h0M1544.7 474.6h0M1545.9 466.7h0M1623.7 486.6h0M1542.9 463.5h0M1539.9 482.8h0M1672.0 477.7h0M1609.1 464.7h0M1505.3 477.3h0M1535.6 476.7h0M1578.5 464.7h0M1632.7 466.4h0M1662.5 473.4h0M1659.4 484.1h0M1599.2 476.2h0M1621.4 480.2h0M1481.8 479.8h0M1619.2 476.1h0M1613.9 468.3h0M1629.1 486.9h0M1479.4 464.7h0M1608.8 475.9h0M1542.3 471.5h0M1589.3 480.6h0M1543.8 463.2h0M1543.1 486.2h0M1506.3 480.8h0M1542.5 478.3h0M1477.2 481.8h0M1556.0 474.7h0M1457.9 470.8h0M1557.3 467.4h0M1597.7 469.0h0M1531.9 484.5h0M1628.5 476.3h0M1597.7 482.5h0M1615.3 468.7h0M1482.6 483.5h0M1557.6 481.4h0M1564.2 479.4h0M1533.4 484.1h0M1513.6 473.3h0M1555.7 473.8h0M1535.2 487.5h0M1493.3 482.4h0M1501.3 469.3h0M1491.3 481.0h0M1631.9 466.1h0M1508.7 474.0h0M1642.7 474.7h0M1479.6 468.1h0M1530.1 487.3h0M1564.5 478.7h0M1653.6 475.8h0M1601.7 479.8h0M1626.3 472.8h0M1560.6 483.5h0M1533.7 484.1h0M1557.0 464.3h0M1554.9 485.0h0M1558.5 479.0h0M1658.1 469.2h0M1650.8 481.0h0M1503.4 480.7h0M1563.2 478.5h0M1598.0 478.7h0M1500.9 468.4h0M1617.3 481.6h0M1587.2 465.9h0M1601.9 467.9h0M1530.1 479.5h0M1536.8 471.9h0M1553.9 476.8h0M1582.6 464.2h0M1575.8 472.2h0M1578.9 478.7h0M1528.3 469.5h0M1594.8 485.2h0M1521.6 467.5h0M1539.0 468.8h0M1611.8 487.2h0M1557.1 466.3h0M1558.4 488.0h0M1628.5 472.8h0M1629.4 485.7h0M1535.2 463.3h0M1520.8 474.6h0M1542.6 466.6h0M1548.2 472.6h0M1616.1 463.4h0M1615.8 479.9h0M1548.3 480.2h0M1628.4 465.8h0M1574.5 483.7h0M1593.1 479.8h0M1548.8 481.6h0M1539.9 484.7h0M1534.0 476.6h0M1536.3 485.9h0M1613.7 487.0h0M1502.7 482.2h0M1561.0 472.8h0M1550.2 483.1h0M1623.2 475.0h0M1586.6 486.9h0M1669.2 464.3h0M1638.3 474.7h0M1604.6 486.8h0M1561.0 479.0h0M1489.1 464.7h0M1594.0 469.1h0M1541.9 471.3h0M1508.1 467.3h0M1488.0 478.9h0M1547.7 481.8h0M1598.0 479.5h0M1553.3 481.6h0M1545.0 482.2h0M1525.2 464.3h0M1495.1 467.1h0M1628.2 481.9h0M1581.6 463.6h0M1489.5 473.8h0M1550.8 470.4h0M1562.0 487.1h0M1502.9 474.0h0M1561.0 477.7h0M1550.6 475.2h0M1535.5 480.7h0M1536.1 470.6h0M1580.2 470.0h0M1548.2 475.3h0M1603.6 478.6h0M1556.4 478.8h0M1640.0 466.9h0M1532.4 485.7h0M1646.3 466.6h0M1552.5 466.5h0M1611.4 482.5h0M1560.3 471.3h0M1480.4 477.7h0M1604.0 481.7h0M1529.3 469.9h0M1585.4 478.6h0M1648.1 485.7h0M1561.1 483.1h0M1666.5 468.6h0M1600.7 472.7h0M1516.9 483.4h0M1543.8 468.3h0M1596.7 481.8h0M1540.7 476.4h0M1613.7 475.3h0M1546.8 463.7h0M1509.9 476.7h0M1507.3 479.5h0M1645.5 477.2h0M1581.6 473.7h0M1549.5 469.1h0M1602.5 482.2h0M1634.2 470.7h0M1620.5 482.5h0M1605.2 484.3h0M1631.1 482.8h0M1557.0 481.2h0M1581.6 486.9h0M1626.4 470.3h0M1513.4 480.2h0M1490.5 483.7h0M1660.7 474.0h0M1636.9 480.1h0M1506.8 476.2h0M1497.2 483.0h0M1579.1 484.9h0M1599.0 465.8h0M1621.6 476.4h0M1587.3 482.5h0M1542.5 480.3h0M1549.4 487.6h0M1530.0 479.2h0M1601.6 471.7h0M1604.9 468.0h0M1531.7 467.1h0M1526.9 463.1h0M1617.2 481.7h0M1543.8 465.1h0M1485.7 478.1h0M1552.4 463.6h0M1556.4 471.2h0M1591.6 484.0h0M1556.4 483.1h0M1594.8 465.0h0M1502.1 479.8h0M1543.4 476.2h0M1506.9 478.2h0M1577.3 466.5h0M1558.7 477.9h0M1626.7 472.0h0M1547.7 470.9h0M1575.6 477.2h0M1611.5 475.0h0M1527.1 478.8h0M1597.5 468.0h0M1602.7 480.8h0M1543.0 471.2h0M1610.3 469.2h0M1597.7 464.6h0M1548.3 478.8h0M1536.9 474.6h0M1558.0 482.8h0M1617.5 479.6h0M1623.7 477.8h0M1617.1 470.9h0M1572.2 483.7h0M1671.7 473.8h0M1652.9 474.8h0M1638.0 478.5h0M1576.6 470.3h0M1513.5 475.6h0M1583.4 479.7h0M1645.8 481.2h0M1606.2 471.7h0M1596.0 464.0h0M1522.2 482.8h0M1484.3 474.6h0M1626.9 478.3h0M1514.5 478.1h0M1554.1 483.1h0M1600.3 483.6h0M1636.4 465.1h0M1630.8 480.5h0M1532.6 465.8h0M1676.2 476.3h0M1586.7 464.9h0M1531.6 476.3h0M1558.9 463.2h0M1557.8 480.5h0M1506.4 482.2h0M1565.2 485.5h0M1596.2 482.9h0M1551.4 478.6h0M1552.5 483.9h0M1598.4 487.5h0M1526.2 464.6h0M1500.0 476.5h0M1592.8 467.7h0M1551.1 465.1h0M1562.0 486.5h0M1577.9 467.4h0M1558.7 484.2h0M1645.0 475.6h0M1649.3 478.0h0M1576.7 471.5h0M1578.0 475.9h0M1645.9 476.5h0M1687.1 481.3h0M1593.5 479.9h0M1661.4 466.1h0M1460.8 473.8h0M1597.4 475.4h0M1478.5 466.8h0M1552.1 478.1h0M1540.6 475.2h0M1591.5 466.2h0M1621.8 479.3h0M1613.8 477.9h0M1581.5 468.9h0M1547.2 482.7h0M1497.9 466.6h0M1537.8 471.1h0M1557.3 475.4h0M1517.1 483.2h0M1513.8 470.0h0M1510.9 466.8h0M1521.5 483.8h0M1604.6 481.6h0M1608.0 476.8h0M1578.4 468.6h0M1514.8 481.1h0M1505.7 485.3h0M1529.7 485.9h0M1508.7 466.3h0M1595.9 468.8h0M1582.9 483.2h0M1501.4 483.2h0M1559.8 470.6h0M1606.5 485.1h0M1617.4 464.3h0M1532.3 467.5h0M1586.8 464.3h0M1557.2 473.7h0M1507.0 484.7h0M1514.6 466.8h0M1592.7 479.1h0M1532.1 487.6h0M1557.6 479.4h0M1551.0 486.8h0M1561.0 486.3h0M1626.4 466.9h0M1528.8 480.8h0M1599.5 474.1h0M1517.4 472.2h0M1501.4 470.8h0M1638.8 464.8h0M1607.9 478.7h0M1609.6 467.8h0M1535.5 479.4h0M1588.9 488.0h0M1597.8 480.9h0M1537.2 471.8h0M1628.1 471.0h0M1586.5 481.7h0M1546.6 484.9h0M1555.7 482.8h0M1587.2 478.4h0M1539.1 467.6h0M1597.0 479.2h0M1632.7 476.8h0M1584.3 472.4h0M1603.8 471.8h0M1586.8 469.0h0M1579.5 469.8h0M1553.3 479.6h0M1508.0 482.0h0M1576.8 469.0h0M1612.4 474.9h0M1491.2 486.3h0M1560.9 487.7h0M1616.5 469.1h0M1558.7 479.8h0M1547.2 470.9h0M1593.6 465.0h0M1502.0 471.9h0M1589.9 485.5h0M1633.0 464.4h0M1514.1 466.5h0M1661.2 485.6h0M1566.8 486.6h0M1523.9 485.4h0M1551.0 471.0h0M1637.3 479.9h0M1508.6 484.9h0M1594.8 469.1h0M1524.8 483.8h0M1588.0 475.9h0M1636.1 467.5h0M1652.9 480.0h0M1516.9 469.8h0M1525.6 467.8h0M1650.0 469.9h0M1604.9 483.0h0M1583.6 486.2h0M1592.1 470.1h0M1484.1 481.3h0M1622.7 481.0h0M1627.1 463.3h0M1511.3 464.6h0M1616.0 487.4h0M1614.0 486.3h0M1531.9 475.7h0M1592.6 464.5h0M1545.0 474.5h0M1583.2 467.1h0M1593.8 481.0h0M1499.7 478.6h0M1561.1 477.1h0M1522.1 473.3h0M1638.0 481.9h0M1611.5 480.9h0M1650.9 473.2h0M1610.6 477.8h0M1551.1 481.3h0M1486.1 477.4h0M1560.7 487.5h0M1477.2 485.4h0M1616.9 480.1h0M1583.4 485.4h0M1598.2 463.6h0M1599.1 468.1h0M1486.6 468.4h0M1517.5 485.5h0M1615.2 468.9h0M1640.2 485.7h0M1508.5 474.3h0M1556.6 473.8h0M1533.8 480.4h0M1522.4 482.6h0M1591.3 473.0h0M1599.1 481.0h0M1537.6 479.3h0M1469.4 466.1h0M1553.1 475.9h0M1614.7 478.3h0M1551.3 469.4h0M1559.7 472.0h0M1611.5 483.0h0M1680.7 476.5h0M1604.7 482.7h0M1634.0 476.1h0M1585.1 463.5h0M1594.5 475.8h0M1595.0 473.7h0M1560.0 472.2h0M1539.5 468.1h0M1505.5 477.2h0M1687.9 468.8h0M1561.4 475.6h0M1551.3 475.3h0M1506.9 485.9h0M1544.4 485.1h0M1550.8 466.3h0M1625.4 483.1h0M1543.7 465.2h0M1502.1 485.3h0M1649.9 468.2h0M1613.3 475.9h0M1655.4 477.3h0M1469.3 463.6h0M1558.3 477.8h0M1485.1 482.7h0M1601.7 484.5h0M1621.1 468.8h0M1512.2 465.9h0M1581.1 479.9h0M1600.2 479.2h0M1527.3 464.8h0M1599.4 479.0h0M1576.6 468.8h0M1576.9 485.7h0M1473.9 480.0h0M1548.3 483.3h0M1640.0 477.7h0M1660.1 463.8h0M1579.4 470.0h0M1579.3 476.5h0M1579.5 487.7h0M1522.8 479.3h0M1533.0 471.9h0M1535.4 477.4h0M1600.5 486.9h0M1611.3 463.4h0M1541.4 466.6h0M1589.0 472.9h0M1519.6 473.7h0M1558.1 482.0h0M1644.4 472.2h0M1555.1 464.4h0M1605.6 463.4h0M1588.5 483.1h0M1640.3 484.2h0M1527.5 471.5h0M1514.5 471.5h0M1548.3 479.1h0M1546.8 468.3h0M1501.2 486.7h0M1558.8 480.8h0M1625.8 472.1h0M1643.0 463.9h0M1630.2 472.4h0M1647.6 481.8h0M1543.1 468.3h0M1586.2 475.8h0M1548.7 484.9h0M1679.8 470.7h0M1552.7 466.5h0M1559.0 475.8h0M1560.0 477.5h0M1526.8 469.7h0M1547.2 464.4h0M1558.8 478.2h0M1582.1 476.7h0M1604.9 471.1h0M1575.6 485.1h0M1587.3 487.9h0M1503.7 478.7h0M1595.9 472.6h0M1522.0 487.2h0M1540.1 473.2h0M1606.6 479.3h0M1603.5 469.0h0M1537.1 468.7h0M1530.1 472.8h0M1603.8 479.2h0M1589.1 487.9h0M1494.4 475.0h0M1643.6 465.1h0M1553.7 466.1h0M1564.5 479.3h0M1553.4 471.9h0M1564.1 481.9h0M1544.3 464.2h0M1554.6 480.0h0M1649.1 483.1h0M1553.0 466.0h0M1606.1 467.2h0M1579.6 477.9h0M1561.2 486.3h0M1531.0 474.2h0M1557.7 486.0h0M1536.5 475.1h0M1525.7 467.6h0M1511.5 485.2h0M1588.4 486.4h0M1627.9 466.4h0M1633.6 484.7h0M1585.2 466.8h0M1513.6 465.7h0M1541.2 479.2h0M1555.9 487.5h0M1575.4 486.2h0M1552.8 467.8h0M1614.5 470.9h0M1625.2 484.3h0M1610.9 470.5h0M1616.4 474.6h0M1540.0 472.3h0M1577.5 485.2h0M1664.3 481.0h0M1598.9 485.7h0M1546.2 474.6h0M1523.3 472.4h0M1583.2 485.8h0M1544.6 464.7h0M1491.8 469.0h0M1641.3 483.5h0M1603.1 473.5h0M1638.3 479.4h0M1540.3 476.7h0M1530.0 463.2h0M1537.1 465.0h0M1621.3 474.8h0M1585.8 470.0h0M1538.8 466.7h0M1531.4 467.7h0M1525.0 486.9h0M1530.5 479.5h0M1536.0 481.1h0M1587.6 487.5h0M1576.3 485.4h0M1593.9 486.4h0M1630.5 486.5h0M1550.0 467.6h0M1589.3 472.6h0M1588.7 467.0h0M1507.6 470.7h0M1510.3 479.1h0M1607.4 464.4h0M1558.2 487.8h0M1586.8 482.5h0M1592.4 486.1h0M1493.9 486.6h0M1575.4 484.0h0M1527.7 463.6h0M1494.3 466.2h0M1549.4 466.8h0M1540.6 478.4h0M1595.6 463.9h0M1544.9 466.2h0M1657.9 479.2h0M1587.0 481.3h0M1556.7 466.5h0M1545.6 475.8h0M1514.0 481.4h0M1502.9 473.6h0M1554.7 467.4h0M1582.3 471.6h0M1547.6 487.5h0M1538.1 473.3h0M1537.4 487.2h0M1539.1 484.7h0M1523.4 473.1h0M1632.5 470.4h0M1577.7 468.7h0M1559.0 482.3h0M1525.6 469.6h0M1577.9 469.9h0M1592.9 483.1h0M1501.5 463.3h0M1624.6 475.9h0M1667.7 471.9h0M1543.9 483.6h0M1597.6 473.4h0M1508.9 483.3h0M1483.3 464.4h0M1539.4 466.2h0M1602.9 467.0h0M1554.5 473.8h0M1579.9 484.4h0M1615.9 482.1h0M1584.6 475.3h0M1496.4 465.9h0M1560.1 481.8h0M1584.2 464.8h0M1520.1 469.1h0M1604.2 472.7h0M1629.0 472.0h0M1607.9 470.8h0M1589.7 482.4h0M1579.9 478.3h0M1553.2 478.0h0M1574.5 486.0h0M1583.1 480.6h0M1536.5 467.5h0M1644.6 476.4h0M1507.2 466.9h0M1523.3 469.6h0M1526.8 466.4h0M1555.2 477.9h0M1670.5 479.3h0M1535.7 466.7h0M1621.0 464.6h0M1615.4 463.2h0M1503.8 468.4h0M1510.3 471.8h0M1592.3 480.9h0M1534.6 484.1h0M1631.4 471.6h0M1601.0 477.6h0M1507.8 476.1h0M1525.9 464.8h0M1517.8 478.9h0M1617.7 486.9h0M1528.7 475.7h0M1536.2 483.8h0M1620.0 465.1h0M1628.5 486.5h0M1636.3 479.4h0M1588.0 474.6h0M1608.7 478.1h0M1575.8 483.1h0M1609.5 486.4h0M1514.2 472.3h0M1554.9 470.5h0M1536.8 478.3h0M1644.7 478.7h0M1596.8 473.1h0M1626.9 469.0h0M1602.6 471.9h0M1551.3 475.6h0M1576.3 477.1h0M1602.2 467.5h0M1487.4 474.9h0M1561.5 472.9h0M1587.6 476.2h0M1514.9 466.1h0M1658.0 481.6h0M1555.4 473.3h0M1559.9 482.7h0M1616.4 487.1h0M1615.1 476.3h0M1540.1 481.0h0M1579.7 474.3h0M1555.0 469.4h0M1625.1 472.9h0M1590.6 471.8h0M1540.6 466.2h0M1493.4 466.2h0M1543.8 463.6h0M1566.7 487.1h0M1649.4 471.4h0M1641.3 477.2h0M1541.7 463.3h0M1524.7 472.4h0M1521.4 469.4h0M1536.6 465.1h0M1559.6 464.2h0M1639.7 472.2h0M1599.8 481.3h0M1605.7 465.9h0M1534.5 478.2h0M1588.2 479.8h0M1593.6 471.1h0M1521.0 464.2h0M1619.6 466.1h0M1586.7 481.4h0M1644.9 466.7h0M1564.6 480.8h0M1501.9 465.3h0M1577.7 485.6h0M1586.8 464.7h0M1661.6 467.3h0M1598.1 468.9h0M1592.5 472.2h0M1609.4 478.5h0M1635.1 476.0h0M1629.8 483.3h0M1608.6 476.6h0M1599.2 480.6h0M1636.9 470.7h0M1612.5 474.7h0M1654.1 473.4h0M1520.3 478.8h0M1508.1 483.8h0M1591.7 469.6h0M1542.2 464.7h0M1581.3 471.7h0M1547.9 480.3h0M1585.0 482.1h0M1482.4 482.6h0M1608.2 484.3h0M1534.9 476.4h0M1485.1 471.7h0M1579.6 487.4h0M1594.6 463.8h0M1620.9 469.1h0M1581.6 468.5h0M1591.7 479.6h0M1589.3 465.4h0M1537.8 487.3h0M1504.4 471.4h0M1561.8 469.1h0M1604.2 487.7h0M1640.5 476.2h0M1643.2 472.7h0M1558.4 486.3h0M1620.4 485.5h0M1586.9 480.4h0M1597.8 468.7h0M1503.6 465.2h0M1610.5 485.6h0M1613.7 470.3h0M1522.8 463.1h0M1599.8 468.0h0M1575.0 476.7h0M1482.2 476.4h0M1514.2 481.1h0M1625.6 484.7h0M1607.5 467.1h0M1525.2 479.1h0M1502.3 479.5h0M1536.1 486.2h0M1525.0 473.2h0M1618.2 470.5h0M1687.8 483.9h0M1579.6 471.5h0M1526.6 467.9h0M1645.4 483.5h0M1639.8 469.7h0M1560.8 477.5h0M1561.6 474.4h0M1535.8 477.7h0M1589.9 476.0h0M1591.2 487.9h0M1535.5 483.2h0M1596.2 479.5h0M1562.3 476.0h0M1535.9 463.5h0M1614.8 477.5h0M1594.7 473.7h0M1632.3 480.0h0M1533.7 469.5h0M1601.1 476.3h0M1482.1 477.2h0M1581.7 480.7h0M1545.2 464.8h0M1589.0 481.3h0M1522.1 476.2h0M1573.7 485.7h0M1603.6 482.8h0M1504.1 467.5h0M1598.2 486.6h0M1580.0 486.0h0M1557.2 478.7h0M1556.7 478.4h0M1551.6 468.9h0M1655.5 467.1h0M1597.4 465.2h0M1527.4 476.0h0M1583.1 483.0h0M1627.4 472.7h0M1660.9 481.3h0M1624.0 469.3h0M1576.2 473.0h0M1580.9 481.5h0M1590.6 486.6h0M1519.8 477.8h0M1563.7 480.5h0M1524.0 476.3h0M1595.6 468.8h0M1583.8 474.3h0M1583.3 469.1h0M1529.9 484.3h0M1503.0 481.2h0M1595.9 468.2h0M1502.4 474.6h0M1542.1 483.1h0M1563.5 483.2h0M1620.3 479.1h0M1589.0 484.8h0M1594.4 474.2h0M1588.4 479.2h0M1497.2 476.0h0M1636.1 486.3h0M1504.4 465.1h0M1520.2 481.9h0M1600.5 487.2h0M1548.6 466.3h0M1546.8 466.6h0M1667.2 473.7h0M1556.3 464.9h0M1496.5 464.6h0M1554.8 486.3h0M1511.4 478.0h0M1591.3 469.9h0M1595.6 468.2h0M1582.0 477.9h0M1509.2 469.0h0M1554.4 485.5h0M1646.7 472.7h0M1634.7 486.7h0M1584.6 482.4h0M1525.1 464.7h0M1532.2 475.0h0M1641.5 471.8h0M1673.8 476.2h0M1560.1 484.5h0M1640.0 469.1h0M1601.3 467.4h0M1599.4 463.2h0M1562.5 484.2h0M1576.7 484.7h0M1588.0 474.6h0M1560.6 481.2h0M1555.9 463.5h0M1507.8 477.0h0M1555.5 487.4h0M1590.4 484.9h0M1611.9 480.2h0M1461.2 472.2h0M1609.8 481.3h0M1605.6 468.8h0M1552.1 479.6h0M1651.5 478.1h0M1579.4 471.5h0M1566.7 487.7h0M1625.4 483.0h0M1510.2 469.2h0M1561.7 485.1h0M1510.7 487.0h0M1593.5 479.5h0M1494.9 478.6h0M1492.4 464.4h0M1597.8 485.3h0M1526.1 472.8h0M1640.2 476.6h0M1528.7 469.7h0M1560.2 477.0h0M1582.8 473.0h0M1588.9 483.1h0M1551.4 471.4h0M1589.6 478.3h0M1631.0 466.0h0M1528.5 486.1h0M1606.0 471.3h0M1547.5 477.0h0M1601.0 482.3h0M1500.2 483.9h0M1581.5 474.3h0M1461.0 483.8h0M1584.6 484.0h0M1552.5 473.6h0M1597.1 483.7h0M1514.1 467.4h0M1500.1 481.4h0M1584.9 470.4h0M1522.1 472.5h0M1577.0 469.2h0M1633.9 478.4h0M1555.0 477.4h0M1632.6 467.6h0M1516.7 486.5h0M1575.7 486.3h0M1636.8 480.1h0M1513.0 469.0h0M1544.9 476.6h0M1540.8 480.4h0M1613.9 465.9h0M1591.0 471.9h0M1627.4 468.9h0M1505.5 477.4h0M1598.7 484.5h0M1559.1 478.4h0M1559.0 480.1h0M1581.9 477.7h0M1596.9 464.3h0M1574.9 485.3h0M1580.7 468.1h0M1619.8 464.1h0M1604.5 485.8h0M1562.7 481.8h0M1595.5 463.5h0M1612.7 473.5h0M1531.8 463.2h0M1583.6 476.3h0M1615.8 474.0h0M1551.4 482.4h0M1581.1 475.5h0M1502.7 484.7h0M1649.2 466.0h0M1589.1 486.3h0M1537.5 478.5h0M1572.6 486.3h0M1593.8 482.3h0M1594.0 484.8h0M1587.9 464.9h0M1615.4 485.0h0M1599.3 477.0h0M1539.4 483.6h0M1488.5 478.1h0M1580.6 486.1h0M1526.1 473.2h0M1605.4 469.9h0M1513.0 468.0h0M1556.4 469.6h0M1550.5 485.2h0M1555.6 463.9h0M1616.5 464.9h0M1571.2 486.1h0M1486.1 477.1h0M1512.6 480.0h0M1529.6 481.6h0M1549.2 467.3h0M1485.3 483.9h0M1548.3 463.4h0M1627.1 468.5h0M1575.5 486.9h0M1499.7 467.8h0M1494.1 467.8h0M1593.1 467.1h0M1584.2 485.7h0M1626.3 466.5h0M1530.8 481.0h0M1572.9 483.7h0M1640.3 484.2h0M1550.4 464.8h0M1554.1 471.2h0M1549.5 481.2h0M1485.8 463.5h0M1518.4 469.6h0M1583.7 468.9h0M1576.3 483.4h0M1522.5 478.6h0M1561.8 482.2h0M1563.3 479.5h0M1522.7 475.9h0M1579.3 475.7h0M1544.0 486.5h0M1643.1 470.4h0M1583.1 465.1h0M1576.6 485.5h0M1580.6 478.5h0M1639.3 477.5h0M1562.2 485.6h0M1615.8 481.5h0M1551.7 473.7h0M1495.9 485.5h0M1519.8 477.8h0M1582.7 482.3h0M1577.0 476.0h0M1635.0 470.1h0M1605.3 482.8h0M1651.3 480.2h0M1549.1 472.3h0M1586.1 468.0h0M1612.7 479.6h0M1585.4 487.1h0M1539.1 473.6h0M1530.0 463.8h0M1491.5 474.8h0M1585.5 481.6h0M1600.9 483.4h0M1549.8 471.8h0M1617.9 487.4h0M1547.1 483.4h0M1577.4 467.2h0M1557.7 467.8h0M1515.5 485.2h0M1529.0 467.0h0M1534.5 481.1h0M1596.7 483.4h0M1583.9 475.3h0M1557.1 475.7h0M1521.6 484.8h0M1497.2 486.6h0M1527.3 480.0h0M1594.6 477.1h0M1600.8 469.8h0M1598.5 465.4h0M1460.6 471.1h0M1641.7 475.1h0M1640.9 483.4h0M1524.1 479.3h0M1556.1 482.6h0M1580.5 468.0h0M1544.6 483.1h0M1586.1 469.3h0M1552.8 480.0h0M1657.0 475.5h0M1486.8 472.2h0M1508.1 479.3h0M1582.6 469.9h0M1626.3 473.6h0M1586.0 463.7h0M1514.8 479.5h0M1478.9 484.5h0M1572.7 486.0h0M1491.6 479.2h0M1612.0 486.2h0M1606.4 477.7h0M1536.7 465.8h0M1534.0 479.7h0M1546.3 475.6h0M1628.8 485.3h0M1519.5 475.3h0M1558.8 479.8h0M1645.6 475.2h0M1613.0 465.9h0M1524.2 470.6h0M1518.1 473.4h0M1605.8 467.3h0M1593.0 481.0h0M1560.1 475.1h0M1607.4 474.1h0M1509.2 482.2h0M1590.6 468.2h0M1491.0 476.9h0M1615.6 480.7h0M1546.7 475.9h0M1611.5 471.4h0M1595.4 482.7h0M1542.4 475.0h0M1540.7 463.3h0M1489.8 464.0h0M1526.7 477.3h0M1593.0 477.6h0M1522.3 471.8h0M1535.7 474.3h0M1622.4 480.4h0M1534.5 483.7h0M1585.0 472.2h0M1612.5 473.4h0M1601.6 468.0h0M1555.2 479.0h0M1528.9 472.8h0M1538.3 476.9h0M1547.5 479.5h0M1555.9 480.2h0M1629.8 473.2h0M1533.3 468.0h0M1580.0 480.4h0M1543.9 487.8h0M1555.9 480.2h0M1551.9 483.6h0M1534.0 474.1h0M1557.0 467.5h0M1505.5 473.6h0M1599.5 486.1h0M1584.1 463.4h0M1541.8 485.1h0M1641.5 482.8h0M1590.0 481.9h0M1603.9 480.7h0M1507.7 468.2h0M1518.2 465.4h0M1602.7 483.1h0M1559.5 463.4h0M1577.7 474.9h0M1616.2 467.8h0M1637.7 482.9h0M1656.4 484.4h0M1640.7 469.6h0M1503.6 472.0h0M1559.8 483.5h0M1580.4 468.6h0M1592.2 476.0h0M1602.5 477.8h0M1546.7 486.7h0M1591.9 468.6h0M1550.9 471.3h0M1638.4 478.3h0M1535.0 475.3h0M1540.3 463.3h0M1594.5 466.0h0M1511.3 478.0h0M1549.1 473.7h0M1607.4 468.3h0M1503.9 466.3h0M1651.9 472.7h0M1606.3 468.6h0M1595.3 485.1h0M1553.3 475.8h0M1644.8 484.8h0M1492.5 486.0h0M1611.0 470.8h0M1550.5 478.5h0M1531.6 471.4h0M1589.4 467.8h0M1486.9 481.5h0M1589.6 465.4h0M1550.8 482.8h0M1647.9 466.2h0M1572.7 480.7h0M1547.9 481.8h0M1483.8 466.0h0M1661.7 483.0h0M1624.0 471.2h0M1624.6 473.2h0M1586.8 479.5h0M1531.9 473.1h0M1510.4 475.7h0M1518.0 472.7h0M1611.7 481.2h0M1555.1 464.3h0M1558.9 476.6h0M1525.8 481.1h0M1541.7 464.4h0M1538.5 486.6h0M1534.5 473.8h0M1655.9 464.2h0M1473.9 472.9h0M1474.4 465.4h0M1558.7 474.9h0M1525.6 474.4h0M1552.1 470.4h0M1639.6 478.4h0M1555.2 473.9h0M1512.6 484.7h0M1563.2 474.2h0M1547.9 481.7h0M1553.5 475.9h0M1622.6 478.5h0M1601.1 464.7h0M1577.5 472.6h0M1556.4 480.6h0M1597.4 474.0h0M1641.1 469.5h0M1611.3 472.2h0M1557.1 466.8h0M1527.3 478.0h0M1591.1 464.9h0M1548.4 485.3h0M1635.2 482.1h0M1557.0 479.7h0M1599.9 472.1h0M1563.2 475.3h0M1628.6 486.9h0M1467.7 468.9h0M1563.3 486.6h0M1498.3 468.3h0M1668.0 480.1h0M1533.8 481.8h0M1464.2 472.3h0M1505.6 478.6h0M1576.5 468.6h0M1624.1 471.3h0M1523.5 483.2h0M1617.9 468.8h0M1478.6 479.8h0M1611.8 463.4h0M1600.0 477.6h0M1481.8 485.3h0M1592.5 482.0h0M1585.5 472.3h0M1621.8 466.9h0M1619.5 475.5h0M1583.7 481.5h0M1522.4 480.3h0M1582.8 467.1h0M1607.9 473.9h0M1586.8 476.1h0M1484.0 470.3h0M1578.3 486.4h0M1604.3 472.6h0M1591.8 467.1h0M1553.7 475.0h0M1621.4 486.6h0M1496.1 469.8h0M1606.9 483.1h0M1553.5 472.3h0M1537.0 480.6h0M1514.8 472.4h0M1549.4 471.1h0M1588.8 479.4h0M1546.4 486.2h0M1607.0 467.8h0M1524.2 468.0h0M1543.7 484.6h0M1531.0 468.9h0M1592.0 477.8h0M1523.6 470.7h0M1548.1 467.2h0M1655.2 474.9h0M1627.1 482.5h0M1599.3 475.1h0M1541.5 473.0h0M1601.8 474.0h0M1582.6 471.6h0M1507.1 465.1h0M1611.4 465.9h0M1622.4 475.3h0M1618.2 479.7h0M1629.9 483.4h0M1606.0 475.5h0M1657.0 484.4h0M1631.0 468.1h0M1601.4 477.7h0M1540.2 477.6h0M1577.2 464.8h0M1491.7 482.2h0M1622.7 485.5h0M1529.0 474.2h0M1584.8 487.6h0M1611.7 465.3h0M1617.0 463.7h0M1649.9 481.0h0M1541.2 479.9h0M1560.8 481.6h0M1487.3 471.0h0M1606.1 474.3h0M1526.8 471.0h0M1631.0 470.0h0M1484.9 467.0h0M1619.3 472.3h0M1549.9 476.8h0M1629.2 484.9h0M1600.9 472.2h0M1492.5 479.9h0M1547.9 467.4h0M1590.6 482.8h0M1635.8 475.6h0M1601.2 485.6h0M1556.3 486.4h0M1556.6 469.2h0M1610.1 473.2h0M1595.9 463.5h0M1610.7 479.7h0M1542.7 470.8h0M1576.8 486.5h0M1549.2 482.3h0M1540.8 486.6h0M1606.7 474.0h0M1580.7 472.8h0M1554.0 486.7h0M1606.2 479.0h0M1560.8 465.4h0M1556.2 480.4h0M1584.3 485.5h0M1614.9 471.8h0M1589.8 486.0h0M1515.1 469.5h0M1536.7 470.1h0M1553.1 471.0h0M1578.1 463.6h0M1498.3 481.7h0M1608.7 478.2h0M1538.4 477.6h0M1576.6 476.5h0M1498.2 483.7h0M1501.8 482.2h0M1584.7 478.4h0M1520.8 484.6h0M1527.8 479.1h0M1552.9 479.2h0M1641.1 477.6h0M1589.7 481.1h0M1538.0 475.6h0M1691.7 465.6h0M1553.8 464.4h0M1674.5 477.6h0M1574.1 482.2h0M1598.1 463.4h0M1583.1 477.1h0M1457.5 484.5h0M1526.9 477.0h0M1501.2 485.6h0M1572.1 486.9h0M1495.8 477.6h0M1531.7 478.5h0M1594.1 476.4h0M1474.5 464.5h0M1612.7 473.1h0M1505.5 475.7h0M1628.5 479.7h0M1503.4 473.8h0M1599.8 474.0h0M1607.7 463.4h0M1542.5 467.2h0M1534.1 476.2h0M1533.7 484.5h0M1648.2 471.2h0M1554.5 483.3h0M1631.5 473.5h0M1636.8 472.9h0M1548.6 482.5h0M1479.4 467.9h0M1504.8 464.6h0M1467.5 483.9h0M1521.7 470.4h0M1657.6 475.3h0M1659.8 478.1h0M1605.0 487.2h0M1509.0 466.1h0M1590.0 477.6h0M1592.1 477.4h0M1586.9 480.4h0M1499.8 471.7h0M1583.7 482.1h0M1565.1 483.4h0M1512.0 475.9h0M1605.4 465.5h0M1644.5 483.7h0M1598.7 475.4h0M1593.6 473.1h0M1593.6 466.4h0M1532.6 479.1h0M1588.3 481.9h0M1469.5 465.4h0M1608.7 474.7h0M1620.9 473.7h0M1590.0 472.0h0M1579.3 478.0h0M1561.5 470.0h0M1607.0 486.2h0M1623.2 480.0h0M1546.2 482.4h0M1595.9 480.2h0M1530.2 474.8h0M1500.8 469.8h0M1621.0 477.4h0M1577.9 481.3h0M1624.5 484.2h0M1552.3 471.9h0M1521.5 470.3h0M1631.9 472.7h0M1488.0 486.2h0M1549.5 485.3h0M1602.2 478.2h0M1601.1 480.4h0M1555.3 487.2h0M1475.3 481.7h0M1585.5 482.9h0M1578.9 476.4h0M1653.9 482.6h0M1527.9 475.5h0M1587.8 466.9h0M1536.9 487.8h0M1533.9 463.5h0M1505.9 466.1h0M1575.7 485.9h0M1529.3 482.9h0M1558.0 468.5h0M1548.5 467.9h0M1528.7 476.7h0M1580.5 464.0h0M1590.2 467.8h0M1480.9 469.5h0M1644.8 468.2h0M1613.4 465.7h0M1607.8 479.8h0M1552.9 478.0h0M1518.5 473.1h0M1621.5 473.6h0M1547.0 470.2h0M1524.7 468.1h0M1641.3 480.7h0M1606.1 468.7h0M1548.3 473.0h0M1642.1 480.2h0M1530.8 478.9h0M1564.1 478.6h0M1580.1 476.6h0M1497.3 476.7h0M1539.3 473.5h0M1540.0 471.4h0M1529.7 483.3h0M1609.8 478.1h0M1536.1 483.8h0M1550.3 476.7h0M1553.4 469.5h0M1482.2 467.9h0M1549.5 477.6h0M1655.0 466.1h0M1645.4 476.4h0M1535.7 483.9h0M1531.3 480.9h0M1605.9 475.6h0M1587.9 481.5h0M1505.1 463.3h0M1675.0 479.3h0M1605.4 466.0h0M1556.0 476.3h0M1601.8 483.1h0M1636.1 480.5h0M1555.2 466.4h0M1585.6 472.3h0M1533.8 466.9h0M1623.2 485.9h0M1524.4 466.0h0M1583.9 467.1h0M1593.0 487.1h0M1526.5 481.8h0M1508.4 474.3h0M1671.7 474.3h0M1616.3 466.3h0M1482.3 482.5h0M1545.7 481.2h0M1550.6 481.8h0M1596.2 487.1h0M1584.2 469.0h0M1584.3 472.2h0M1550.0 465.5h0M1650.1 485.5h0M1659.8 477.5h0M1526.5 471.9h0M1524.4 485.6h0M1601.3 478.1h0M1635.8 470.0h0M1561.7 468.8h0M1629.2 471.4h0M1579.1 467.1h0M1551.7 479.9h0M1614.0 475.3h0M1538.6 479.5h0M1536.4 478.4h0M1538.7 479.9h0M1579.9 466.4h0M1586.8 467.7h0M1554.7 473.5h0M1589.0 483.4h0M1511.4 471.7h0M1584.6 470.0h0M1555.3 468.6h0M1621.2 467.9h0M1526.5 477.0h0M1548.8 479.9h0M1573.5 480.2h0M1557.2 479.2h0M1531.8 485.2h0M1538.3 466.3h0M1629.3 474.8h0M1520.8 471.9h0M1541.5 473.5h0M1620.6 483.3h0M1484.3 467.3h0M1537.8 480.7h0M1628.3 478.0h0M1521.5 479.0h0M1686.7 465.1h0M1590.5 466.8h0M1522.7 472.5h0M1513.8 483.1h0M1545.8 465.3h0M1584.5 477.8h0M1637.2 469.2h0M1518.9 478.1h0M1596.3 486.8h0M1623.3 466.7h0M1602.9 471.4h0M1513.7 482.0h0M1512.1 478.7h0M1588.2 473.7h0M1572.5 487.3h0M1626.0 483.5h0M1594.5 485.8h0M1525.1 465.2h0M1545.8 471.3h0M1530.0 484.9h0M1603.7 467.1h0M1554.1 468.4h0M1581.5 476.5h0M1539.1 483.3h0M1550.8 463.4h0M1626.3 466.6h0M1578.7 463.9h0M1601.5 486.5h0M1609.1 473.3h0M1657.3 474.1h0M1583.6 480.6h0M1500.6 471.3h0M1542.1 477.9h0M1656.7 481.6h0M1536.2 474.7h0M1560.4 473.3h0M1511.8 487.1h0M1609.7 472.1h0M1535.0 468.6h0M1591.0 479.4h0M1496.5 471.9h0M1516.2 466.9h0M1540.7 474.1h0M1596.2 487.6h0M1619.5 472.3h0M1562.6 484.5h0M1535.8 484.9h0M1609.2 470.2h0M1595.0 471.8h0M1542.5 482.1h0M1674.2 470.1h0M1546.7 481.4h0M1481.3 464.5h0M1506.9 468.3h0M1580.7 476.8h0M1616.9 480.7h0M1592.5 483.8h0M1557.9 483.6h0M1578.8 465.9h0M1536.7 485.1h0M1625.0 476.8h0M1509.9 471.3h0M1624.5 475.4h0M1609.5 483.3h0M1521.3 485.4h0M1602.6 487.4h0M1484.9 477.9h0M1558.2 474.3h0M1560.0 469.1h0M1619.9 481.9h0M1578.3 463.6h0M1671.8 466.3h0M1516.8 465.0h0M1544.3 465.7h0M1621.3 484.3h0M1541.8 472.9h0M1608.5 483.6h0M1578.4 476.2h0M1510.5 463.7h0M1547.0 478.3h0M1591.1 464.2h0M1638.5 474.2h0M1488.1 464.9h0M1588.7 473.7h0M1623.4 472.4h0M1576.3 481.7h0M1583.8 474.8h0M1561.7 483.2h0M1580.1 480.1h0M1584.5 477.8h0M1597.5 483.2h0M1612.1 481.8h0M1613.7 479.6h0M1616.5 468.4h0M1562.4 486.5h0M1520.4 481.8h0M1597.5 467.0h0M1488.9 468.5h0M1552.5 467.4h0M1593.8 482.0h0M1605.3 479.1h0M1624.1 473.9h0M1551.2 482.2h0M1504.2 471.2h0M1524.4 482.8h0M1646.1 476.4h0M1506.5 486.4h0M1524.2 473.7h0M1530.8 468.2h0M1525.6 464.3h0M1472.6 473.5h0M1644.8 477.2h0M1634.1 481.8h0M1457.4 482.4h0M1622.8 463.7h0M1608.3 475.5h0M1538.2 476.3h0M1633.9 481.9h0M1586.0 477.0h0M1534.5 486.1h0M1514.2 481.7h0M1544.5 476.9h0M1619.1 483.4h0M1560.9 477.3h0M1461.2 475.8h0M1602.6 486.4h0M1603.6 472.0h0M1603.6 469.5h0M1644.7 467.7h0M1612.3 471.0h0M1624.8 483.1h0M1506.2 470.8h0M1529.8 470.6h0M1574.0 487.6h0M1527.9 472.7h0M1520.3 471.6h0M1641.2 476.7h0M1573.8 484.6h0M1608.0 484.5h0M1597.2 480.1h0M1576.4 481.4h0M1572.6 487.0h0M1615.8 465.0h0M1578.9 481.4h0M1644.3 480.5h0M1543.0 482.7h0M1632.9 466.4h0M1553.5 467.9h0M1614.4 464.6h0M1585.6 471.5h0M1656.1 477.8h0M1556.6 471.4h0M1559.3 467.9h0M1594.5 487.1h0M1626.9 463.8h0M1558.5 479.8h0M1590.5 480.3h0M1597.9 465.6h0M1544.1 477.9h0M1588.4 464.6h0M1573.7 480.2h0M1635.2 467.3h0M1539.5 478.8h0M1582.9 465.3h0M1563.1 483.9h0M1528.3 481.8h0M1602.6 471.9h0M1496.2 468.8h0M1498.4 476.1h0M1578.2 474.2h0M1595.5 466.3h0M1597.1 484.5h0M1637.8 486.1h0M1649.9 483.7h0M1516.3 472.3h0M1549.3 470.1h0M1615.2 463.9h0M1602.4 472.4h0M1487.0 471.3h0M1543.7 474.0h0M1652.7 472.4h0M1610.9 469.8h0M1535.2 484.6h0M1574.7 482.2h0M1653.9 479.4h0M1595.0 484.8h0M1501.8 468.2h0M1534.1 483.1h0M1545.0 466.4h0M1647.1 482.9h0M1527.4 477.4h0M1597.9 487.6h0M1589.6 484.0h0M1619.5 478.5h0M1527.8 466.0h0M1633.6 481.7h0M1493.6 466.0h0M1533.4 471.7h0M1555.8 477.8h0M1578.8 480.9h0M1514.5 485.7h0M1623.6 485.1h0M1644.6 465.0h0M1620.7 479.8h0M1589.6 484.4h0M1543.5 469.5h0M1550.2 486.8h0M1619.6 482.7h0M1504.4 470.1h0M1610.0 483.8h0M1584.5 470.3h0M1604.4 467.4h0M1540.8 480.6h0M1640.2 478.3h0M1546.6 469.8h0M1562.1 478.5h0M1553.9 474.0h0M1500.2 486.4h0M1592.6 469.7h0M1616.3 480.3h0M1510.3 465.8h0M1558.3 484.1h0M1597.5 483.5h0M1605.6 474.8h0M1586.8 464.6h0M1579.8 464.1h0M1676.8 468.5h0M1532.6 469.3h0M1521.2 486.7h0M1663.0 484.7h0M1584.5 465.0h0M1600.7 478.7h0M1523.5 474.3h0M1625.0 487.0h0M1626.2 480.0h0M1565.3 483.8h0M1563.8 483.6h0M1631.0 479.9h0M1552.6 483.0h0M1556.8 487.3h0M1550.5 472.1h0M1628.2 474.2h0M1610.8 487.3h0M1551.7 473.9h0M1496.8 482.0h0M1683.0 469.5h0M1626.4 484.5h0M1540.9 486.3h0M1540.5 486.3h0M1546.4 475.5h0M1501.6 483.1h0M1558.6 478.2h0M1548.9 470.1h0M1607.6 463.7h0M1537.7 480.1h0M1593.1 487.8h0M1592.4 472.2h0M1585.7 466.8h0M1581.1 476.0h0M1510.1 480.8h0M1636.6 464.6h0M1626.3 473.3h0M1597.1 465.0h0M1513.2 475.7h0M1640.7 470.8h0M1577.8 480.6h0M1605.9 485.5h0M1525.1 482.0h0M1654.8 464.4h0M1603.7 469.5h0M1593.9 469.2h0M1602.7 474.4h0M1600.0 483.8h0M1595.3 471.0h0M1539.5 465.7h0M1598.2 472.7h0M1592.9 468.2h0M1508.8 477.8h0M1509.4 467.9h0M1518.4 478.0h0M1613.1 473.0h0M1594.3 472.6h0M1537.7 474.4h0M1537.3 474.3h0M1552.8 478.1h0M1671.1 476.2h0M1517.9 466.6h0M1539.4 473.6h0M1622.9 484.3h0M1552.7 486.9h0M1551.7 466.5h0M1598.8 467.7h0M1514.1 480.1h0M1646.4 482.9h0M1516.0 473.8h0M1571.8 486.0h0M1588.5 475.9h0M1591.3 476.9h0M1539.4 474.5h0M1543.5 478.8h0M1581.4 486.1h0M1642.4 485.7h0M1527.3 478.2h0M1558.0 483.9h0M1547.5 486.2h0M1629.3 477.9h0M1603.8 473.4h0M1547.0 482.8h0M1578.5 487.9h0M1515.2 483.6h0M1591.3 474.0h0M1478.8 465.4h0M1597.4 479.4h0M1590.9 483.1h0M1552.5 470.6h0M1590.5 476.0h0M1564.6 483.8h0M1594.8 481.0h0M1604.2 465.8h0M1609.7 468.7h0M1579.7 468.6h0M1540.6 486.5h0M1586.7 471.4h0M1619.8 476.4h0M1507.5 486.2h0M1517.7 469.2h0M1502.0 471.2h0M1595.1 484.8h0M1572.3 482.3h0M1650.5 484.0h0M1601.3 486.3h0M1571.8 485.8h0M1467.0 480.0h0M1557.9 482.3h0M1533.6 467.5h0M1649.9 481.6h0M1522.4 477.3h0M1583.9 463.4h0M1527.9 466.9h0M1625.8 473.2h0M1524.2 463.8h0M1616.8 475.9h0M1541.6 478.6h0M1599.8 479.8h0M1618.8 476.4h0M1528.2 470.9h0M1552.6 473.1h0M1585.6 475.9h0M1649.8 484.7h0M1615.3 463.4h0M1609.3 485.6h0M1646.5 463.7h0M1604.0 473.3h0M1531.3 468.5h0M1584.1 477.9h0M1585.7 486.5h0M1583.9 483.3h0M1584.7 465.6h0M1578.8 485.2h0M1559.3 485.7h0M1579.7 473.7h0M1628.9 477.3h0M1589.8 484.5h0M1593.7 469.2h0M1596.0 474.5h0M1555.4 483.5h0M1518.7 477.0h0M1608.3 486.3h0M1582.7 467.2h0M1557.0 468.6h0M1510.2 485.0h0M1542.6 469.7h0M1559.5 484.5h0M1552.7 486.7h0M1595.8 471.7h0M1619.9 463.9h0M1488.9 472.4h0M1492.5 484.1h0M1464.3 468.9h0M1498.3 466.5h0M1564.4 487.5h0M1634.0 469.1h0M1614.0 467.0h0M1582.1 469.0h0M1486.6 472.6h0M1599.0 482.4h0M1557.7 479.1h0M1520.1 463.5h0M1613.5 473.8h0M1512.7 477.5h0M1498.4 479.2h0M1589.2 471.0h0M1623.3 470.0h0M1580.7 480.8h0M1602.5 484.9h0M1520.2 476.7h0M1533.6 484.6h0M1563.1 477.3h0M1587.0 481.6h0M1590.3 463.8h0M1490.1 478.9h0M1490.3 465.2h0M1586.4 468.4h0M1589.3 463.9h0M1530.0 468.3h0M1598.7 486.4h0M1580.0 469.9h0M1500.9 472.8h0M1532.3 466.6h0M1546.9 474.7h0M1598.0 477.4h0M1542.8 482.3h0M1500.3 466.4h0M1601.3 484.0h0M1623.0 481.9h0M1608.8 470.8h0M1525.7 471.5h0M1579.3 477.4h0M1528.8 482.3h0M1649.3 478.3h0M1625.9 478.5h0M1597.8 484.6h0M1555.9 484.3h0M1572.3 484.1h0M1519.5 479.8h0M1578.6 470.6h0M1599.4 473.4h0M1498.2 469.3h0M1603.1 483.1h0M1637.1 476.2h0M1674.4 468.1h0M1507.1 481.6h0M1624.9 469.6h0M1586.0 464.8h0M1486.3 477.3h0M1613.7 478.3h0M1555.7 470.3h0M1666.2 481.6h0M1589.6 469.6h0M1526.5 463.4h0M1562.9 481.8h0M1528.4 473.4h0M1618.0 472.6h0M1625.8 485.8h0M1582.8 463.7h0M1522.3 464.5h0M1525.1 470.6h0M1534.8 480.7h0M1497.6 465.1h0M1639.5 468.8h0M1649.4 467.8h0M1592.2 466.2h0M1515.3 473.7h0M1575.5 473.4h0M1615.6 484.4h0M1554.6 477.0h0M1618.5 486.6h0M1677.2 470.7h0M1531.5 465.9h0M1605.5 469.1h0M1535.6 463.6h0M1590.5 469.3h0M1541.7 472.9h0M1524.7 472.1h0M1524.5 481.0h0M1551.4 471.3h0M1550.1 464.0h0M1631.5 474.8h0M1575.8 469.6h0M1596.6 473.5h0M1564.4 481.5h0M1643.2 485.9h0M1624.1 479.5h0M1563.5 484.7h0M1659.8 473.1h0M1537.4 474.4h0M1564.3 484.4h0M1532.3 471.0h0M1596.0 470.6h0M1561.3 483.1h0M1532.3 475.8h0M1536.0 482.1h0M1589.0 472.1h0M1515.2 468.3h0M1519.6 478.5h0M1498.9 471.9h0M1603.3 482.3h0M1535.2 480.5h0M1574.0 486.1h0M1577.0 473.3h0M1633.7 475.7h0M1586.5 482.0h0M1543.2 473.3h0M1555.2 477.3h0M1587.5 463.1h0M1544.2 487.3h0M1597.3 465.1h0M1554.0 466.3h0M1518.7 486.0h0M1654.2 471.1h0M1596.7 475.6h0M1621.6 484.7h0M1596.8 465.3h0M1614.7 475.8h0M1492.1 464.3h0M1525.8 486.2h0M1667.9 467.8h0M1594.3 476.6h0M1597.5 463.7h0M1544.3 473.8h0M1586.8 477.4h0M1612.6 474.7h0M1556.1 480.4h0M1623.7 471.4h0M1578.7 475.8h0M1581.9 480.8h0M1630.9 468.8h0M1559.9 477.1h0M1589.1 472.8h0M1516.7 479.9h0M1640.3 468.6h0M1549.6 473.4h0M1532.8 484.8h0M1526.6 466.6h0M1577.6 481.8h0M1488.9 472.2h0M1546.5 467.2h0M1499.4 463.4h0M1560.0 480.6h0M1555.2 486.1h0M1537.6 478.0h0M1611.5 463.7h0M1640.0 478.2h0M1578.5 479.8h0M1646.9 479.9h0M1592.0 467.5h0M1535.3 485.5h0M1580.6 481.5h0M1543.9 484.0h0M1544.3 476.7h0M1463.5 472.6h0M1556.3 483.3h0M1596.3 473.2h0M1537.4 472.1h0M1540.8 471.2h0M1523.9 469.9h0M1627.2 470.6h0M1562.2 480.1h0M1547.1 485.4h0M1669.5 483.1h0M1528.4 482.7h0M1538.1 478.1h0M1579.7 480.0h0M1541.3 479.3h0M1672.6 468.1h0M1545.0 479.6h0M1584.2 478.7h0M1626.9 484.1h0M1594.8 485.7h0M1468.5 478.8h0M1591.6 477.9h0M1633.9 479.7h0M1517.5 468.4h0M1476.7 477.9h0M1522.5 485.4h0M1598.6 472.9h0M1631.8 470.8h0M1596.0 465.2h0M1616.0 477.4h0M1573.7 480.5h0M1576.1 483.1h0M1608.1 477.3h0M1592.9 470.3h0M1617.7 476.1h0M1606.3 487.6h0M1543.9 467.7h0M1557.7 464.8h0M1521.5 473.0h0M1549.3 466.8h0M1612.3 484.2h0M1481.5 466.4h0M1663.2 471.7h0M1456.9 480.7h0M1625.0 468.0h0M1556.4 476.9h0M1642.8 480.2h0M1640.7 478.3h0M1583.9 467.2h0M1619.0 478.5h0M1581.9 473.6h0M1611.5 484.4h0M1527.6 481.9h0M1637.5 469.3h0M1558.2 487.8h0M1630.3 466.7h0M1544.0 465.5h0M1627.7 484.7h0M1589.0 480.7h0M1551.5 464.5h0M1600.4 469.3h0M1516.4 463.3h0M1586.2 466.5h0M1591.8 469.5h0M1589.0 478.6h0M1587.1 485.7h0M1550.5 475.3h0M1625.1 465.5h0M1601.8 479.5h0M1539.8 474.6h0M1546.1 477.0h0M1552.5 484.4h0M1585.4 482.3h0M1592.1 476.8h0M1579.0 486.3h0M1564.4 482.1h0M1611.5 464.2h0M1531.8 466.7h0M1605.7 484.6h0M1564.2 485.9h0M1659.0 467.5h0M1620.3 479.6h0M1505.2 467.4h0M1655.9 472.6h0M1611.0 468.2h0M1458.4 476.5h0M1606.4 477.1h0M1600.8 463.4h0M1509.2 467.5h0M1543.4 480.3h0M1624.8 483.5h0M1587.0 486.5h0M1630.1 465.0h0M1461.1 467.8h0M1553.6 478.5h0M1496.0 466.2h0M1559.5 468.9h0M1578.4 479.7h0M1541.8 470.8h0M1583.1 464.0h0M1556.9 479.1h0M1552.3 478.1h0M1504.5 485.7h0M1624.4 483.4h0M1557.9 483.5h0M1607.6 465.2h0M1582.2 477.4h0M1558.3 482.5h0M1588.1 473.6h0M1543.6 482.8h0M1584.4 486.3h0M1544.9 483.5h0M1627.9 467.7h0M1511.7 483.2h0M1590.8 487.4h0M1620.9 469.7h0M1546.9 487.3h0M1609.6 472.3h0M1532.4 486.0h0M1587.5 476.0h0M1557.8 468.1h0M1611.5 464.3h0M1667.0 485.1h0M1596.6 471.0h0M1501.5 473.9h0M1668.2 482.6h0M1556.6 463.5h0M1573.9 485.8h0M1596.5 481.8h0M1647.6 470.0h0M1624.6 486.0h0M1619.5 487.4h0M1588.4 484.6h0M1585.8 484.5h0M1583.8 482.3h0M1507.1 479.5h0M1542.2 465.5h0M1589.0 465.3h0M1587.5 476.4h0M1551.2 471.1h0M1638.8 468.8h0M1626.4 476.6h0M1604.7 465.9h0M1517.8 475.6h0M1561.1 485.0h0M1548.9 468.0h0M1546.1 484.6h0M1592.9 468.7h0M1583.6 483.4h0M1551.2 476.9h0M1608.8 477.0h0M1564.3 479.5h0M1620.9 477.2h0M1667.3 473.9h0M1522.0 482.4h0M1524.7 465.2h0M1555.6 479.0h0M1580.6 480.5h0M1588.8 483.5h0M1612.3 466.0h0M1488.9 472.7h0M1535.8 485.5h0M1689.2 477.2h0M1541.9 485.9h0M1491.6 484.2h0M1548.7 485.5h0M1640.5 476.8h0M1464.3 481.1h0M1603.9 486.9h0M1546.9 465.6h0M1599.8 470.4h0M1629.6 482.0h0M1633.7 480.9h0M1518.3 487.0h0M1577.6 468.1h0M1546.1 474.7h0M1520.5 473.1h0M1551.9 487.6h0M1605.5 472.9h0M1499.5 470.2h0M1525.9 471.9h0M1573.0 485.9h0M1542.9 468.5h0M1531.5 475.8h0M1646.5 467.9h0M1539.1 474.7h0M1632.5 486.3h0M1548.1 487.2h0M1592.1 486.0h0M1555.7 479.2h0M1589.6 465.2h0M1540.8 471.7h0M1606.9 472.1h0M1636.2 475.3h0M1516.9 486.9h0M1594.0 477.3h0M1632.1 471.5h0M1542.6 479.9h0M1539.2 483.2h0M1641.7 472.4h0M1480.3 475.5h0M1582.4 471.6h0M1528.3 486.0h0M1627.3 466.3h0M1618.3 487.4h0M1617.7 464.3h0M1530.7 474.8h0M1598.3 464.0h0M1578.4 482.8h0M1584.6 465.5h0M1604.1 477.4h0M1610.3 480.8h0M1550.2 486.4h0M1605.6 481.7h0M1492.7 466.2h0M1604.5 482.4h0M1675.2 468.5h0M1537.5 469.3h0M1543.0 464.6h0M1677.8 479.4h0M1577.4 471.3h0M1514.9 469.0h0M1563.1 479.4h0M1499.4 486.0h0M1529.6 480.2h0M1602.7 466.5h0M1530.2 477.7h0M1594.4 469.2h0M1490.2 464.7h0M1583.5 483.6h0M1506.2 468.5h0M1515.9 466.2h0M1527.9 487.1h0M1539.1 485.3h0M1609.2 470.7h0M1492.3 465.5h0M1656.9 480.9h0M1549.0 470.8h0M1618.2 469.5h0M1580.8 469.4h0M1496.6 475.6h0M1615.5 471.8h0M1586.4 467.8h0M1549.6 466.3h0M1538.5 474.9h0M1626.8 474.8h0M1515.4 480.0h0M1587.3 477.5h0M1553.6 463.3h0M1541.5 471.2h0M1627.7 463.4h0M1584.8 465.1h0M1617.4 479.9h0M1614.2 480.0h0M1603.1 465.8h0M1650.1 480.6h0M1579.0 468.1h0M1536.5 465.5h0M1562.4 478.1h0M1482.5 473.4h0M1494.3 464.0h0M1589.8 478.7h0M1530.3 477.6h0M1561.5 485.4h0M1518.9 465.1h0M1560.4 473.4h0M1685.6 477.8h0M1609.3 470.0h0M1495.3 467.3h0M1597.7 477.1h0M1591.5 483.2h0M1544.1 472.2h0M1579.4 484.7h0M1636.1 476.9h0M1529.0 467.4h0M1480.8 476.4h0M1533.6 469.2h0M1580.2 470.5h0M1554.1 474.5h0M1548.8 466.8h0M1528.3 463.6h0M1585.0 473.5h0M1497.2 467.8h0M1657.3 483.0h0M1553.3 487.2h0M1502.7 477.9h0M1502.7 479.4h0M1533.7 464.0h0M1580.6 463.7h0M1614.5 471.4h0M1534.1 464.0h0M1511.9 479.4h0M1553.4 485.2h0M1575.3 484.4h0M1524.9 468.6h0M1531.9 471.8h0M1611.5 468.5h0M1526.7 473.2h0M1637.7 465.8h0M1558.1 469.8h0M1543.4 483.8h0M1517.4 487.3h0M1558.2 475.6h0M1580.7 463.7h0M1546.2 486.9h0M1594.5 466.4h0M1640.0 467.9h0M1606.2 477.9h0M1551.9 474.9h0M1602.8 471.7h0M1529.7 478.8h0M1592.1 481.8h0M1594.4 469.5h0M1679.3 466.2h0M1544.6 483.2h0M1612.4 487.0h0M1555.4 470.1h0M1558.8 479.8h0M1560.7 485.7h0M1555.3 476.8h0M1597.5 476.0h0M1588.5 466.1h0M1577.5 487.0h0M1608.6 478.9h0M1509.0 476.2h0M1500.6 480.8h0M1493.3 476.1h0M1608.7 467.2h0M1601.5 469.8h0M1551.8 468.6h0M1631.2 476.1h0M1529.5 465.6h0M1605.8 476.9h0M1548.7 480.5h0M1515.6 464.8h0M1627.6 483.0h0M1513.4 479.7h0M1463.5 465.7h0M1648.7 478.2h0M1534.6 477.1h0M1595.0 477.4h0M1580.3 483.9h0M1577.3 481.9h0M1622.6 463.5h0M1575.5 487.3h0M1455.5 483.3h0M1699.2 477.0h0M1696.8 475.4h0M1455.3 477.4h0M1703.4 481.3h0M1695.4 472.6h0M1448.0 477.0h0M1438.0 475.0h0M1431.3 482.8h0M1449.2 475.3h0M1454.6 470.9h0M1451.7 475.7h0M1443.7 465.4h0M1694.3 470.0h0M1546.5 453.3h0M1551.6 456.6h0M1543.4 459.2h0M1542.8 455.8h0M1545.5 457.1h0M1549.0 461.8h0M1544.1 463.0h0M1560.0 458.4h0M1559.2 462.1h0M1545.1 449.1h0M1554.7 460.9h0M1544.5 462.4h0M1559.2 462.0h0M1543.6 461.7h0M1542.8 444.2h0M1547.0 458.6h0M1558.1 448.9h0M1541.8 458.4h0M1542.4 462.4h0M1552.1 452.4h0M1546.7 453.8h0M1545.3 454.7h0M1542.1 461.5h0M1546.6 460.3h0M1555.1 449.2h0M1548.0 459.8h0M1548.8 438.3h0M1542.9 436.3h0M1553.8 460.5h0M1544.2 459.3h0M1555.7 460.7h0M1553.7 459.9h0M1555.4 449.4h0M1553.2 453.0h0M1542.0 449.2h0M1544.4 460.8h0M1542.7 445.5h0M1543.7 451.2h0M1554.4 456.6h0M1545.6 448.3h0M1543.9 435.1h0M1543.8 442.3h0M1548.5 461.8h0M1542.5 459.6h0M1550.5 460.9h0M1542.6 429.9h0M1549.3 441.2h0M1557.0 457.8h0M1546.2 445.3h0M1558.7 461.9h0M1552.9 448.1h0M1551.3 461.9h0M1545.5 445.9h0M1544.6 443.6h0M1549.5 457.1h0M1556.5 452.8h0M1545.5 436.4h0M1542.7 455.6h0M1547.6 458.7h0M1541.8 452.1h0M1552.2 457.8h0M1552.9 441.1h0M1544.9 460.6h0M1542.5 455.1h0M1553.0 459.6h0M1543.6 452.7h0M1560.6 459.8h0M1541.9 444.7h0M1555.9 456.8h0M1552.9 455.9h0M1556.3 449.0h0M1548.6 461.1h0M1545.8 450.8h0M1546.7 450.4h0M1555.7 445.1h0M1543.3 438.0h0M1554.7 459.4h0M1543.9 447.4h0M1544.3 462.9h0M1554.4 457.6h0M1546.1 453.9h0M1556.2 462.8h0M1545.8 452.3h0M1542.5 459.0h0M1547.1 445.2h0M1546.9 443.3h0M1553.8 451.4h0M1549.1 460.5h0M1542.1 436.9h0M1544.8 441.2h0M1544.9 458.2h0M1554.3 458.6h0M1544.4 462.2h0M1542.3 448.7h0M1542.6 435.0h0M1544.7 448.3h0M1543.4 448.1h0M1544.7 432.5h0M1543.9 454.7h0M1543.2 430.8h0M1542.7 445.5h0M1542.6 432.1h0M1545.4 450.9h0M1552.3 462.8h0M1551.8 460.2h0M1548.5 461.7h0M1545.2 454.8h0M1546.7 459.3h0M1544.9 429.0h0M1550.3 445.1h0M1546.3 434.4h0M1551.6 448.9h0M1544.1 460.7h0M1542.6 433.4h0M1542.9 439.8h0M1554.4 462.5h0M1545.7 460.8h0M1552.6 459.7h0M1550.2 458.3h0M1553.7 453.6h0M1546.7 450.2h0M1547.4 457.6h0M1559.1 457.8h0M1545.3 430.9h0M1544.6 457.1h0M1542.0 428.5h0M1542.4 437.0h0M1545.3 447.4h0M1545.9 453.3h0M1552.7 459.6h0M1547.0 449.4h0M1545.9 457.9h0M1543.8 453.7h0M1543.3 457.5h0M1545.1 460.1h0M1542.1 448.4h0M1550.7 451.7h0M1544.4 458.2h0M1549.8 460.1h0M1545.0 454.0h0M1589.6 454.0h0M1587.8 449.4h0M1591.3 431.0h0M1590.1 453.4h0M1579.4 458.6h0M1593.3 455.6h0M1591.0 440.5h0M1591.1 435.7h0M1581.1 456.5h0M1587.9 453.2h0M1590.4 446.5h0M1587.1 441.0h0M1595.0 455.2h0M1592.4 443.1h0M1593.5 447.1h0M1596.0 436.2h0M1593.2 434.7h0M1589.9 445.5h0M1594.4 450.7h0M1586.9 429.4h0M1594.3 449.0h0M1594.4 461.9h0M1593.5 448.5h0M1588.9 457.4h0M1595.8 453.6h0M1584.3 438.7h0M1591.4 458.5h0M1585.4 457.3h0M1595.2 452.5h0M1584.5 462.5h0M1596.1 449.2h0M1592.9 448.2h0M1589.5 449.8h0M1595.4 457.2h0M1593.7 448.8h0M1591.0 452.0h0M1593.4 450.0h0M1594.6 452.9h0M1592.4 462.8h0M1587.3 460.7h0M1593.5 447.0h0M1585.7 458.4h0M1594.3 462.4h0M1592.7 445.1h0M1595.8 432.5h0M1594.6 436.1h0M1596.1 426.6h0M1589.4 439.6h0M1595.9 413.9h0M1585.3 447.4h0M1593.3 455.1h0M1594.0 444.8h0M1583.6 458.4h0M1587.3 460.9h0M1594.1 446.3h0M1583.4 458.5h0M1591.4 447.0h0M1594.9 430.3h0M1590.8 437.2h0M1581.3 459.7h0M1596.0 451.6h0M1592.8 454.4h0M1582.9 444.9h0M1594.0 441.4h0M1589.7 431.7h0M1592.8 418.9h0M1595.3 450.6h0M1587.1 460.6h0M1590.8 445.3h0M1594.7 431.9h0M1582.0 457.7h0M1595.2 441.4h0M1593.8 448.9h0M1594.8 441.4h0M1589.6 437.4h0M1594.4 454.8h0M1585.6 450.9h0M1584.8 440.6h0M1585.6 449.3h0M1593.0 460.1h0M1580.4 460.6h0M1579.8 452.6h0M1584.9 438.9h0M1590.6 423.4h0M1594.1 431.9h0M1587.0 432.2h0M1586.3 455.3h0M1589.7 442.2h0M1594.2 432.4h0M1595.1 461.0h0M1594.5 432.5h0M1588.0 461.8h0M1591.8 449.6h0M1582.1 447.1h0M1595.1 451.1h0M1591.0 442.2h0M1592.9 461.9h0M1595.6 448.8h0M1593.7 439.8h0M1589.5 431.9h0M1586.1 458.1h0M1594.0 438.2h0M1595.7 457.8h0M1593.4 461.0h0M1586.5 451.8h0M1590.7 456.4h0M1581.1 462.1h0M1595.6 456.7h0M1595.3 457.9h0M1593.1 427.5h0M1589.0 454.8h0M1594.3 456.5h0M1588.5 434.4h0M1593.9 451.7h0M1587.0 461.6h0M1580.3 461.0h0M1595.1 424.3h0M1590.3 454.0h0M1585.6 458.6h0M1592.3 414.8h0M1586.7 445.6h0M1582.1 453.5h0M1587.3 446.3h0M1582.6 462.5h0M1593.1 457.6h0M1584.9 436.1h0M1594.6 424.6h0M1594.2 445.1h0M1595.7 444.9h0M1589.8 432.0h0M1590.5 449.1h0M1591.8 427.9h0M1583.8 457.4h0M1589.5 457.6h0M1581.8 441.1h0M1594.2 431.6h0M1582.9 455.8h0M1592.4 448.5h0M1587.6 452.8h0M1585.7 453.1h0M1586.3 434.0h0M1590.7 460.5h0M1585.4 432.6h0M1591.1 442.9h0M1588.6 461.4h0M1590.1 456.5h0M1595.1 462.4h0M1583.4 456.1h0M1594.3 425.1h0M1595.8 461.4h0M1584.6 440.8h0M1584.8 439.5h0M1595.3 457.2h0M1595.4 447.6h0M1593.1 458.3h0M1593.9 438.7h0M1590.8 457.0h0M1584.6 446.6h0M1590.4 455.2h0M1588.5 452.9h0M1580.2 461.1h0M1588.5 434.0h0M1586.7 462.6h0M1594.0 442.6h0M1588.0 463.0h0M1595.7 454.6h0M1596.1 450.5h0M1587.9 445.2h0M1584.1 460.7h0M1588.9 442.2h0M1589.7 433.5h0M1580.6 457.2h0M1578.3 462.5h0M1592.7 451.6h0M1590.2 456.1h0M1583.3 462.2h0M1588.5 459.0h0M1590.4 451.6h0M1587.8 447.9h0M1594.4 453.4h0M1582.2 453.1h0M1588.5 461.0h0M1592.6 460.6h0M1592.8 433.2h0M1592.4 447.2h0M1580.8 452.0h0M1587.9 445.8h0M1593.6 424.6h0M1594.0 451.0h0M1586.4 426.3h0M1595.9 461.4h0M1593.3 448.0h0M1595.0 443.5h0M1595.3 426.4h0M1595.5 458.3h0M1590.0 452.9h0M1586.1 452.6h0M1592.4 462.1h0M1581.3 450.6h0M1584.2 456.6h0M1588.6 424.9h0M1592.7 453.4h0M1581.1 454.7h0M1595.8 443.1h0M1588.4 449.6h0M1589.1 457.3h0M1594.2 440.2h0M1580.1 451.2h0M1584.6 443.2h0M1586.0 455.8h0M1595.9 341.9h0M1589.3 355.0h0M1593.1 362.8h0M1586.0 376.0h0M1544.2 389.6h0M1385.5 486.4h0M1395.5 477.6h0M1413.5 470.4h0M1417.2 471.7h0M1422.6 471.1h0M1428.1 467.4h0M1427.7 476.8h0M1420.0 484.2h0M1433.6 474.6h0M1436.8 482.7h0M1440.1 475.0h0M1442.7 473.5h0M1448.4 483.1h0M1452.1 480.5h0M1544.3 389.2h0M1547.1 393.5h0M1544.3 400.8h0M1542.8 408.4h0M1548.2 413.2h0M1551.9 414.5h0M1553.7 421.5h0M1555.4 429.1h0M1557.0 436.8h0M1559.8 441.6h0M1592.1 401.2h0M1739.5 467.6h0M1725.7 466.3h0M1726.4 469.6h0M1731.8 475.7h0M1727.3 486.4h0M1713.7 486.4h0M1705.0 487.0h0M1719.2 480.9h0M1718.1 479.4h0M1749.8 479.8h0M1755.2 479.8h0M1754.3 485.9h0M1765.7 475.5h0M1770.9 479.8h0M1784.7 477.6h0M1785.4 482.2h0" stroke="#a6a6a6" stroke-width="6.3" stroke-linecap="round" fill="none"/>
<path d="M1521.9 459.7h0M1492.3 460.1h0M1525.9 445.6h0M1528.6 442.3h0M1532.9 450.1h0M1537.4 460.6h0M1537.1 435.0h0M1523.2 461.4h0M1537.1 460.0h0M1518.4 444.5h0M1503.1 451.7h0M1527.4 454.8h0M1504.3 452.8h0M1512.6 435.7h0M1528.4 461.2h0M1529.2 446.5h0M1524.0 453.0h0M1531.2 421.5h0M1519.3 432.8h0M1534.5 451.4h0M1525.3 460.6h0M1526.3 457.2h0M1496.9 454.4h0M1537.1 441.0h0M1531.5 449.0h0M1537.8 426.0h0M1504.7 437.6h0M1497.5 455.2h0M1511.3 444.5h0M1518.6 456.4h0M1535.0 440.2h0M1519.8 450.8h0M1538.9 419.2h0M1501.3 434.7h0M1535.5 442.2h0M1536.7 461.8h0M1528.1 436.1h0M1534.0 441.6h0M1520.3 453.1h0M1539.2 447.8h0M1535.5 445.4h0M1497.6 437.4h0M1530.6 459.1h0M1525.7 427.5h0M1495.8 456.1h0M1506.9 449.4h0M1528.4 429.0h0M1517.3 442.2h0M1525.1 457.5h0M1526.7 459.8h0M1536.1 432.8h0M1491.2 443.1h0M1531.8 443.3h0M1524.2 445.9h0M1518.7 461.7h0M1537.4 431.2h0M1529.4 454.3h0M1505.8 445.8h0M1495.5 452.8h0M1529.3 432.5h0M1515.6 459.5h0M1533.3 447.6h0M1528.8 425.5h0M1503.7 446.3h0M1538.8 446.2h0M1513.7 450.3h0M1519.7 439.3h0M1539.1 462.2h0M1526.2 455.2h0M1489.7 454.6h0M1523.9 442.4h0M1530.1 439.1h0M1520.0 452.7h0M1539.1 453.7h0M1514.8 427.0h0M1530.9 450.7h0M1529.8 443.5h0M1536.9 424.6h0M1538.5 461.6h0M1528.2 442.2h0M1531.4 423.6h0M1527.6 460.3h0M1503.5 457.6h0M1534.8 439.8h0M1520.0 449.8h0M1538.5 427.1h0M1529.7 448.6h0M1530.2 456.6h0M1533.2 458.9h0M1527.4 432.8h0M1527.8 421.0h0M1504.3 457.5h0M1536.6 452.7h0M1510.2 450.8h0M1539.0 461.3h0M1534.2 458.7h0M1527.5 459.2h0M1514.7 449.8h0M1494.0 440.9h0M1510.6 459.8h0M1525.9 455.2h0M1536.5 442.8h0M1532.0 427.1h0M1521.2 458.6h0M1523.1 422.9h0M1538.2 445.7h0M1521.7 455.6h0M1494.5 445.8h0M1527.1 442.0h0M1529.3 455.2h0M1495.6 456.7h0M1522.4 433.5h0M1518.3 429.0h0M1523.1 450.7h0M1537.6 448.2h0M1520.5 460.3h0M1538.0 445.0h0M1534.3 433.8h0M1527.4 423.7h0M1535.9 444.3h0M1521.2 443.8h0M1521.7 457.1h0M1531.5 440.9h0M1518.4 442.5h0M1492.9 458.0h0M1514.9 445.5h0M1518.5 442.5h0M1526.1 440.4h0M1527.0 458.0h0M1530.7 462.5h0M1537.8 424.2h0M1531.4 455.6h0M1530.7 429.1h0M1521.6 461.1h0M1526.9 457.2h0M1539.0 444.4h0M1529.7 459.9h0M1518.5 458.4h0M1537.9 420.2h0M1526.9 434.7h0M1531.8 453.8h0M1501.6 461.4h0M1527.2 442.4h0M1537.2 436.2h0M1516.6 456.5h0M1534.5 460.3h0M1533.4 461.6h0M1516.0 449.3h0M1538.0 433.3h0M1515.7 461.7h0M1534.2 455.4h0M1532.4 429.9h0M1508.4 443.3h0M1521.5 448.7h0M1520.7 430.4h0M1531.5 459.7h0M1528.8 454.2h0M1505.6 453.5h0M1515.4 445.0h0M1508.2 457.7h0M1532.6 460.0h0M1531.3 451.0h0M1524.5 448.3h0M1535.0 454.8h0M1521.1 423.0h0M1508.9 433.4h0M1532.6 459.9h0M1516.5 440.5h0M1522.9 434.1h0M1529.8 453.1h0M1505.2 452.1h0M1538.2 419.9h0M1532.1 461.5h0M1533.0 462.1h0M1507.2 459.5h0M1503.6 453.9h0M1535.2 453.4h0M1522.5 441.6h0M1519.8 444.6h0M1508.3 450.6h0M1513.2 453.7h0M1503.3 460.7h0M1492.7 449.1h0M1503.0 457.5h0M1459.5 461.3h0M1497.0 459.8h0M1464.4 456.5h0M1478.5 452.0h0M1493.2 453.5h0M1486.3 444.3h0M1461.9 459.4h0M1453.1 462.0h0M1483.3 461.4h0M1476.6 460.3h0M1486.5 235.1h0M1500.7 336.5h0M1541.1 337.6h0M1513.6 352.2h0M1533.3 361.8h0M1408.2 368.6h0M1485.0 377.5h0M1540.6 375.7h0M1539.1 377.7h0M1463.8 389.1h0M1499.2 388.9h0M1523.5 385.3h0M1361.3 424.8h0M1394.2 420.6h0M1393.1 430.9h0M1392.5 457.5h0M1400.4 462.3h0M1419.4 434.0h0M1424.2 436.1h0M1437.0 409.7h0M1426.6 462.6h0M1434.6 459.1h0M1445.1 454.9h0M1446.7 457.5h0M1451.0 459.7h0M1450.8 434.6h0M1463.7 389.2h0M1458.2 416.3h0M1459.3 423.7h0M1463.0 427.6h0M1463.7 434.6h0M1470.0 434.6h0M1475.9 439.0h0M1477.9 445.1h0M1481.4 418.2h0M1490.3 428.1h0M1489.9 437.2h0M1499.1 388.7h0M1523.5 385.5h0M1523.1 401.2h0M1505.0 406.2h0M1501.7 415.6h0M1510.0 423.2h0M1504.5 435.7h0M1497.6 446.2h0M1483.8 447.7h0M1486.0 458.6h0M1482.0 460.4h0M1466.3 462.3h0M1457.6 461.3h0M1523.5 414.9h0M1519.8 420.4h0M1515.5 425.9h0M1536.9 406.2h0M1536.9 409.5h0" stroke="#6abd45" stroke-width="6.3" stroke-linecap="round" fill="none"/>
<path d="M1604.5 441.4h0M1602.0 448.3h0M1605.9 446.7h0M1628.7 441.1h0M1611.0 433.0h0M1625.1 460.9h0M1605.1 444.0h0M1641.6 448.4h0M1618.7 458.5h0M1617.5 461.9h0M1609.3 427.1h0M1631.7 449.3h0M1618.0 429.0h0M1598.9 462.0h0M1601.5 410.6h0M1627.4 458.6h0M1605.3 452.8h0M1626.8 434.7h0M1625.6 459.6h0M1599.0 428.8h0M1626.4 457.5h0M1640.1 451.4h0M1598.7 418.2h0M1628.0 456.3h0M1603.2 458.3h0M1626.6 430.6h0M1634.3 452.3h0M1624.8 455.4h0M1618.0 459.0h0M1639.4 452.5h0M1621.2 438.2h0M1630.2 449.0h0M1625.5 456.3h0M1613.9 441.3h0M1631.5 444.6h0M1609.6 436.3h0M1610.1 419.1h0M1621.9 434.2h0M1610.1 459.5h0M1619.3 450.1h0M1598.8 417.2h0M1631.3 448.4h0M1610.1 414.2h0M1622.3 458.2h0M1640.9 449.2h0M1624.5 443.4h0M1626.6 440.1h0M1640.7 461.0h0M1605.3 443.8h0M1633.4 461.9h0M1600.0 409.8h0M1604.2 449.0h0M1614.5 453.7h0M1640.5 448.3h0M1631.2 460.5h0M1631.8 460.7h0M1608.2 450.7h0M1604.7 441.8h0M1626.5 460.5h0M1605.5 457.6h0M1601.1 450.6h0M1608.1 444.5h0M1601.2 458.8h0M1604.3 460.5h0M1607.4 445.2h0M1638.2 460.8h0M1621.6 437.8h0M1631.3 450.2h0M1612.6 429.8h0M1637.7 456.0h0M1617.9 461.2h0M1630.7 461.0h0M1626.4 422.2h0M1603.0 425.8h0M1600.7 461.3h0M1619.9 454.3h0M1600.8 442.0h0M1624.2 452.8h0M1601.6 450.8h0M1607.6 457.9h0M1641.2 439.6h0M1623.0 439.9h0M1609.1 452.1h0M1634.2 448.9h0M1633.0 437.1h0M1615.8 458.6h0M1613.7 434.6h0M1625.1 456.3h0M1631.8 459.4h0M1607.9 451.3h0M1626.1 446.0h0M1600.7 449.3h0M1626.1 429.5h0M1624.7 444.0h0M1633.0 459.2h0M1604.6 449.2h0M1636.5 449.9h0M1601.1 436.4h0M1600.9 455.4h0M1617.9 429.2h0M1602.3 442.9h0M1640.6 450.9h0M1605.7 449.7h0M1638.1 439.7h0M1619.6 432.3h0M1598.8 447.1h0M1603.5 444.3h0M1619.7 447.6h0M1599.3 452.1h0M1611.5 455.2h0M1642.1 446.3h0M1613.0 447.9h0M1613.3 454.0h0M1635.9 455.7h0M1621.1 456.5h0M1622.4 461.2h0M1621.6 451.7h0M1602.2 458.3h0M1625.1 452.1h0M1630.3 457.0h0M1617.1 439.4h0M1605.0 437.3h0M1626.0 445.0h0M1617.0 459.6h0M1621.9 453.6h0M1599.2 429.3h0M1599.7 422.4h0M1622.7 437.8h0M1600.8 447.7h0M1633.3 462.4h0M1603.3 455.7h0M1599.9 443.5h0M1605.8 453.4h0M1605.7 432.9h0M1609.2 453.1h0M1637.2 456.0h0M1637.1 461.5h0M1606.3 447.9h0M1606.4 412.6h0M1622.1 456.8h0M1604.9 462.0h0M1607.2 456.0h0M1603.2 450.5h0M1617.9 454.7h0M1619.9 443.7h0M1611.7 453.8h0M1604.9 449.8h0M1623.5 454.6h0M1620.8 451.3h0M1622.1 433.9h0M1614.6 461.3h0M1622.9 435.2h0M1614.4 432.7h0M1622.1 435.4h0M1614.5 446.1h0M1611.3 447.1h0M1613.0 438.8h0M1629.1 461.9h0M1599.0 444.5h0M1636.7 458.1h0M1618.1 450.8h0M1603.1 407.5h0M1601.0 435.5h0M1603.0 450.8h0M1621.5 426.5h0M1633.0 461.8h0M1641.7 459.9h0M1617.6 429.4h0M1606.6 458.8h0M1629.7 433.9h0M1623.5 447.8h0M1626.0 457.0h0M1634.2 460.7h0M1612.7 429.5h0M1633.0 459.5h0M1611.5 428.3h0M1625.4 457.6h0M1615.1 460.2h0M1604.3 445.8h0M1601.9 445.9h0M1603.5 443.2h0M1627.8 432.7h0M1603.4 456.6h0M1598.7 436.3h0M1634.6 444.5h0M1606.3 442.8h0M1640.2 431.2h0M1619.3 457.8h0M1624.3 448.3h0M1628.7 462.1h0M1603.0 456.0h0M1603.9 443.7h0M1600.1 450.8h0M1623.9 454.4h0M1620.0 454.7h0M1609.5 439.5h0M1612.9 462.4h0M1624.6 439.5h0M1599.0 430.1h0M1603.6 412.5h0M1619.9 442.1h0M1634.2 452.6h0M1619.0 431.3h0M1599.7 437.6h0M1600.0 452.0h0M1610.9 461.2h0M1621.9 445.0h0M1608.1 457.5h0M1606.1 424.9h0M1642.1 453.5h0M1618.3 459.0h0M1637.8 456.1h0M1616.2 459.9h0M1605.1 446.1h0M1599.9 452.1h0M1617.2 442.0h0M1607.6 453.9h0M1600.2 440.0h0M1617.0 454.3h0M1602.7 460.8h0M1598.8 462.4h0M1602.5 437.2h0M1600.1 459.8h0M1599.7 458.6h0M1641.6 456.9h0M1639.5 460.5h0M1602.0 442.5h0M1628.1 457.8h0M1612.2 461.8h0M1603.0 423.4h0M1606.5 457.6h0M1603.1 441.9h0M1610.6 444.8h0M1642.2 459.6h0M1609.5 456.9h0M1599.4 434.9h0M1600.0 428.9h0M1614.4 460.8h0M1630.3 460.8h0M1610.9 460.3h0M1636.6 451.1h0M1618.6 445.0h0M1604.9 446.2h0M1598.8 440.5h0M1604.2 461.9h0M1614.3 462.4h0M1616.8 458.6h0M1608.6 453.1h0M1599.3 454.9h0M1637.4 459.9h0M1599.6 444.0h0M1612.9 444.6h0M1599.7 445.3h0M1634.2 433.9h0M1642.1 432.8h0M1623.0 459.2h0M1608.2 442.1h0M1626.7 438.7h0M1627.0 416.5h0M1599.0 431.7h0M1614.1 437.2h0M1635.2 439.0h0M1607.1 415.1h0M1616.3 435.9h0M1605.4 434.1h0M1618.9 405.3h0M1605.2 436.9h0M1638.3 404.7h0M1619.8 415.5h0M1624.2 437.1h0M1615.7 429.3h0M1622.8 430.8h0M1611.5 433.4h0M1605.3 398.9h0M1616.5 429.9h0M1631.4 432.9h0M1627.2 436.0h0M1620.0 419.6h0M1636.0 427.4h0M1620.5 415.6h0M1627.7 430.9h0M1619.6 436.4h0M1634.8 432.7h0M1617.1 419.8h0M1608.1 427.6h0M1613.0 431.6h0M1628.4 437.1h0M1621.2 404.6h0M1610.1 425.7h0M1639.2 424.6h0M1627.1 426.6h0M1625.7 438.4h0M1606.0 409.0h0M1611.8 430.2h0M1611.9 438.9h0M1612.7 420.6h0M1634.4 404.8h0M1614.1 435.9h0M1629.6 421.2h0M1603.5 438.3h0M1598.8 437.5h0M1634.1 436.4h0M1632.3 427.0h0M1615.2 408.3h0M1625.7 405.4h0M1638.0 409.0h0M1639.0 432.8h0M1636.1 410.9h0M1628.7 416.0h0M1637.0 418.5h0M1609.0 432.5h0M1613.0 410.7h0M1615.8 416.8h0M1602.3 424.3h0M1617.1 433.6h0M1608.0 421.5h0M1610.7 437.6h0M1613.2 439.0h0M1610.5 418.1h0M1609.2 433.3h0M1605.5 418.2h0M1627.0 432.2h0M1626.5 429.6h0M1635.4 424.3h0M1601.4 414.4h0M1624.5 434.1h0M1625.2 425.7h0M1632.6 431.9h0M1615.2 430.6h0M1627.5 406.2h0M1611.2 433.7h0M1637.2 431.7h0M1611.3 410.2h0M1625.1 424.6h0M1599.0 405.8h0M1627.1 417.9h0M1605.2 420.5h0M1642.6 462.1h0M1681.2 453.7h0M1649.0 441.9h0M1664.2 460.7h0M1632.5 458.2h0M1679.7 458.5h0M1682.9 454.8h0M1672.4 449.5h0M1669.1 457.1h0M1642.2 459.8h0M1661.8 455.8h0M1632.3 446.2h0M1649.9 462.0h0M1712.0 461.0h0M1694.8 456.2h0M1680.9 457.0h0M1691.0 454.4h0M1712.8 454.8h0M1662.9 460.6h0M1705.6 452.2h0M1681.6 452.1h0M1709.6 462.0h0M1632.5 450.0h0M1695.4 445.9h0M1671.5 460.9h0M1677.7 447.9h0M1656.3 455.8h0M1698.2 449.4h0M1700.7 458.8h0M1652.4 459.9h0M1627.0 460.5h0M1641.8 462.1h0M1653.6 461.6h0M1637.2 462.1h0M1629.9 462.1h0M1679.8 458.7h0M1655.4 460.0h0M1656.5 452.8h0M1628.3 437.8h0M1659.9 459.6h0M1663.1 456.5h0M1628.4 441.1h0M1648.4 460.9h0M1645.0 456.7h0M1692.1 462.3h0M1670.2 152.9h0M1635.5 177.4h0M1638.3 212.8h0M1666.6 224.4h0M1615.8 235.1h0M1628.5 273.6h0M1651.2 274.6h0M1740.4 275.4h0M1600.2 302.7h0M1609.8 309.8h0M1655.8 301.4h0M1661.1 304.5h0M1667.1 312.3h0M1666.1 313.8h0M1615.6 318.4h0M1598.6 322.9h0M1637.1 322.1h0M1613.5 331.0h0M1621.6 332.5h0M1628.2 331.0h0M1637.1 330.5h0M1640.3 330.5h0M1610.0 336.0h0M1608.0 339.1h0M1641.9 339.1h0M1643.9 341.9h0M1666.1 337.6h0M1623.2 342.1h0M1628.7 342.4h0M1655.3 344.1h0M1604.2 346.2h0M1609.8 346.9h0M1640.6 348.7h0M1650.2 350.2h0M1684.3 346.9h0M1697.0 350.5h0M1635.3 355.8h0M1657.8 357.3h0M1616.8 358.3h0M1640.6 367.1h0M1620.6 371.4h0M1626.7 370.7h0M1629.2 370.4h0M1642.9 374.2h0M1658.0 376.0h0M1663.6 377.2h0M1605.5 376.7h0M1617.3 380.3h0M1616.1 383.1h0M1625.2 383.3h0M1653.5 384.1h0M1601.4 384.3h0M1642.9 387.6h0M1650.2 389.1h0M1611.0 387.1h0M1608.5 389.1h0M1698.0 388.1h0M1669.2 390.6h0M1600.2 391.6h0M1606.0 392.4h0M1612.3 391.6h0M1698.2 388.3h0M1731.0 394.9h0M1727.5 403.4h0M1705.6 410.6h0M1719.0 417.1h0M1729.4 421.5h0M1713.7 425.9h0M1742.1 426.5h0M1683.4 415.6h0M1689.0 421.5h0M1770.3 441.6h0M1768.8 451.0h0M1782.1 459.1h0M1760.7 458.6h0M1751.3 451.4h0M1743.2 456.4h0M1743.9 459.7h0M1731.2 437.4h0M1734.0 437.2h0M1720.7 439.0h0M1715.2 444.9h0M1709.3 448.1h0M1725.7 451.4h0M1727.9 451.0h0M1724.6 455.4h0M1725.1 459.1h0M1712.6 453.2h0M1706.1 455.4h0M1707.2 458.6h0M1691.2 446.6h0M1691.4 451.0h0M1694.1 455.4h0M1695.1 458.6h0M1676.1 435.3h0M1676.1 444.4h0M1676.6 452.1h0M1682.0 456.4h0M1680.9 461.9h0M1668.7 389.8h0M1676.6 393.5h0M1668.3 401.2h0M1677.7 401.4h0M1658.5 412.8h0M1665.7 413.2h0M1668.3 414.5h0M1659.1 420.4h0M1656.9 422.6h0M1655.4 435.7h0M1653.2 440.7h0M1663.5 446.2h0M1667.8 445.5h0M1653.6 383.7h0M1651.5 389.8h0M1642.7 387.6h0M1635.1 394.2h0M1639.4 401.8h0" stroke="#ed1c24" stroke-width="6.3" stroke-linecap="round" fill="none"/>
<line x1="1541.8" y1="96.5" x2="1541.8" y2="511.0" stroke="#000" stroke-opacity="0.68" stroke-width="1.15" stroke-dasharray="7.5 7.4"/>
<line x1="1596.2" y1="96.5" x2="1596.2" y2="511.0" stroke="#000" stroke-opacity="0.68" stroke-width="1.15" stroke-dasharray="7.5 7.4"/>
<line x1="1348.6" y1="463.1" x2="1791.8" y2="463.1" stroke="#000" stroke-opacity="0.68" stroke-width="1.15" stroke-dasharray="7.5 7.4"/>
</g>
<rect x="1344.6" y="92.5" width="447.2" height="418.5" fill="none" stroke="#231f20" stroke-width="1.6"/>
<line x1="1335.3" y1="489.8" x2="1344.6" y2="489.8" stroke="#231f20" stroke-width="1.5"/>
<text x="1318.5" y="500.3" text-anchor="middle" font-size="32.8" class="s">0</text>
<line x1="1335.3" y1="391.8" x2="1344.6" y2="391.8" stroke="#231f20" stroke-width="1.5"/>
<text x="1318.5" y="402.3" text-anchor="middle" font-size="32.8" class="s">5</text>
<line x1="1335.3" y1="293.8" x2="1344.6" y2="293.8" stroke="#231f20" stroke-width="1.5"/>
<text x="1318.5" y="304.3" text-anchor="middle" font-size="32.8" class="s">10</text>
<line x1="1335.3" y1="195.8" x2="1344.6" y2="195.8" stroke="#231f20" stroke-width="1.5"/>
<text x="1318.5" y="206.3" text-anchor="middle" font-size="32.8" class="s">15</text>
<line x1="1335.3" y1="97.8" x2="1344.6" y2="97.8" stroke="#231f20" stroke-width="1.5"/>
<text x="1318.5" y="108.3" text-anchor="middle" font-size="32.8" class="s">20</text>
<line x1="1433.0" y1="511.0" x2="1433.0" y2="519.8" stroke="#231f20" stroke-width="1.5"/>
<text x="1435.0" y="545.5" text-anchor="middle" font-size="32.8" class="s">-5</text>
<line x1="1569.0" y1="511.0" x2="1569.0" y2="519.8" stroke="#231f20" stroke-width="1.5"/>
<text x="1569.0" y="545.5" text-anchor="middle" font-size="32.8" class="s">0</text>
<line x1="1705.0" y1="511.0" x2="1705.0" y2="519.8" stroke="#231f20" stroke-width="1.5"/>
<text x="1705.0" y="545.5" text-anchor="middle" font-size="32.8" class="s">5</text>
<text x="1568.0" y="47.7" text-anchor="middle" font-size="35.8" class="sb">CK vs T3</text>
<text x="1360.9" y="131.7" font-size="26" class="sb" style="fill:#1fa84c">Down: 249</text>
<text x="1361.1" y="172.9" font-size="26" class="sb" style="fill:#ec1c24">Up: 499</text>
<text x="1451.3" y="596.8" font-size="29.80" class="sb">log<tspan font-size="18" dy="10">2</tspan><tspan dy="-10">(Fold Change)</tspan></text>
<text transform="translate(1274.0 311.0) rotate(-90)" text-anchor="middle" font-size="29.9" class="sb">-log<tspan font-size="17.5" dy="9">10</tspan><tspan dy="-9">(padj)</tspan></text>
<text x="1222.5" y="24" font-size="30.2" class="ab">C</text>
</g>
</svg>
</body></html>
